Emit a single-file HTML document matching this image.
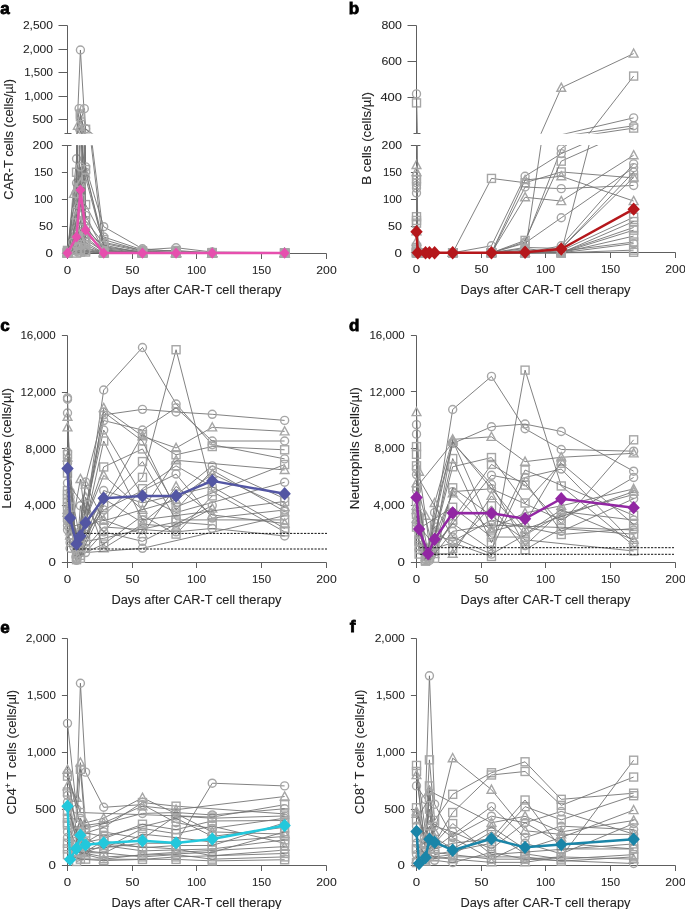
<!DOCTYPE html>
<html><head><meta charset="utf-8"><style>
html,body{margin:0;padding:0;background:#fff;width:685px;height:909px;overflow:hidden}
svg{display:block;font-family:"Liberation Sans", sans-serif;will-change:transform}
</style></head><body>
<svg width="685" height="909" viewBox="0 0 685 909">

<defs><clipPath id="aU"><rect x="60" y="0" width="280" height="133.6"/></clipPath><clipPath id="aL"><rect x="60" y="145.2" width="280" height="130"/></clipPath><clipPath id="bU"><rect x="405" y="0" width="280" height="133.8"/></clipPath><clipPath id="bL"><rect x="405" y="145" width="280" height="130"/></clipPath></defs>
<text x="0.2" y="13.5" font-size="17" font-weight="bold" fill="#000" stroke="#000" stroke-width="0.8">a</text>
<line x1="67.5" y1="25.5" x2="67.5" y2="133.5" stroke="#5e5e5e" stroke-width="1"/>
<line x1="64.5" y1="133.5" x2="71.5" y2="133.5" stroke="#5e5e5e" stroke-width="1"/>
<line x1="58.5" y1="25.5" x2="67.5" y2="25.5" stroke="#5e5e5e" stroke-width="1"/>
<text x="53" y="29.2" font-size="10.5" text-anchor="end" textLength="30.1" lengthAdjust="spacingAndGlyphs" fill="#222" font-weight="normal" stroke="#222" stroke-width="0.05" >2,500</text>
<line x1="58.5" y1="49.5" x2="67.5" y2="49.5" stroke="#5e5e5e" stroke-width="1"/>
<text x="53" y="53.1" font-size="10.5" text-anchor="end" textLength="30.1" lengthAdjust="spacingAndGlyphs" fill="#222" font-weight="normal" stroke="#222" stroke-width="0.05" >2,000</text>
<line x1="58.5" y1="72.5" x2="67.5" y2="72.5" stroke="#5e5e5e" stroke-width="1"/>
<text x="53" y="76.2" font-size="10.5" text-anchor="end" textLength="28.8" lengthAdjust="spacingAndGlyphs" fill="#222" font-weight="normal" stroke="#222" stroke-width="0.05" >1,500</text>
<line x1="58.5" y1="96.5" x2="67.5" y2="96.5" stroke="#5e5e5e" stroke-width="1"/>
<text x="53" y="99.7" font-size="10.5" text-anchor="end" textLength="28.8" lengthAdjust="spacingAndGlyphs" fill="#222" font-weight="normal" stroke="#222" stroke-width="0.05" >1,000</text>
<line x1="58.5" y1="119.5" x2="67.5" y2="119.5" stroke="#5e5e5e" stroke-width="1"/>
<text x="53" y="123.1" font-size="10.5" text-anchor="end" textLength="20.6" lengthAdjust="spacingAndGlyphs" fill="#222" font-weight="normal" stroke="#222" stroke-width="0.05" >500</text>
<line x1="67.5" y1="145.5" x2="67.5" y2="253.5" stroke="#5e5e5e" stroke-width="1"/>
<line x1="64.5" y1="145.5" x2="71.5" y2="145.5" stroke="#5e5e5e" stroke-width="1"/>
<line x1="61.9" y1="145.5" x2="67.5" y2="145.5" stroke="#5e5e5e" stroke-width="1"/>
<text x="53" y="149" font-size="10.5" text-anchor="end" textLength="20.4" lengthAdjust="spacingAndGlyphs" fill="#222" font-weight="normal" stroke="#222" stroke-width="0.05" >200</text>
<line x1="61.9" y1="172.5" x2="67.5" y2="172.5" stroke="#5e5e5e" stroke-width="1"/>
<text x="53" y="175.9" font-size="10.5" text-anchor="end" textLength="19.1" lengthAdjust="spacingAndGlyphs" fill="#222" font-weight="normal" stroke="#222" stroke-width="0.05" >150</text>
<line x1="61.9" y1="199.5" x2="67.5" y2="199.5" stroke="#5e5e5e" stroke-width="1"/>
<text x="53" y="202.9" font-size="10.5" text-anchor="end" textLength="19.1" lengthAdjust="spacingAndGlyphs" fill="#222" font-weight="normal" stroke="#222" stroke-width="0.05" >100</text>
<line x1="61.9" y1="226.5" x2="67.5" y2="226.5" stroke="#5e5e5e" stroke-width="1"/>
<text x="53" y="229.9" font-size="10.5" text-anchor="end" textLength="14" lengthAdjust="spacingAndGlyphs" fill="#222" font-weight="normal" stroke="#222" stroke-width="0.05" >50</text>
<line x1="61.9" y1="253.5" x2="67.5" y2="253.5" stroke="#5e5e5e" stroke-width="1"/>
<text x="53" y="256.8" font-size="10.5" text-anchor="end" textLength="7.4" lengthAdjust="spacingAndGlyphs" fill="#222" font-weight="normal" stroke="#222" stroke-width="0.05" >0</text>
<line x1="62.5" y1="253.5" x2="326.5" y2="253.5" stroke="#5e5e5e" stroke-width="1"/>
<line x1="67.5" y1="253.5" x2="67.5" y2="259" stroke="#5e5e5e" stroke-width="1"/>
<text x="67.5" y="273.6" font-size="10.5" text-anchor="middle" textLength="7.4" lengthAdjust="spacingAndGlyphs" fill="#222" font-weight="normal" stroke="#222" stroke-width="0.05" >0</text>
<line x1="132.5" y1="253.5" x2="132.5" y2="259" stroke="#5e5e5e" stroke-width="1"/>
<text x="132.5" y="273.6" font-size="10.5" text-anchor="middle" textLength="14" lengthAdjust="spacingAndGlyphs" fill="#222" font-weight="normal" stroke="#222" stroke-width="0.05" >50</text>
<line x1="196.5" y1="253.5" x2="196.5" y2="259" stroke="#5e5e5e" stroke-width="1"/>
<text x="196.5" y="273.6" font-size="10.5" text-anchor="middle" textLength="19.1" lengthAdjust="spacingAndGlyphs" fill="#222" font-weight="normal" stroke="#222" stroke-width="0.05" >100</text>
<line x1="261.5" y1="253.5" x2="261.5" y2="259" stroke="#5e5e5e" stroke-width="1"/>
<text x="261.5" y="273.6" font-size="10.5" text-anchor="middle" textLength="19.1" lengthAdjust="spacingAndGlyphs" fill="#222" font-weight="normal" stroke="#222" stroke-width="0.05" >150</text>
<line x1="326.5" y1="253.5" x2="326.5" y2="259" stroke="#5e5e5e" stroke-width="1"/>
<text x="326.5" y="273.6" font-size="10.5" text-anchor="middle" textLength="20.4" lengthAdjust="spacingAndGlyphs" fill="#222" font-weight="normal" stroke="#222" stroke-width="0.05" >200</text>
<text x="196.45" y="294.4" font-size="12.3" text-anchor="middle" textLength="170" lengthAdjust="spacingAndGlyphs" fill="#222" stroke="#222" stroke-width="0.08">Days after CAR-T cell therapy</text>
<g clip-path="url(#aU)">
<polyline points="67.5,142.9 76.55,140.08 80.42,49.99 85.59,135.86 103.69,141.96 142.47,142.67 176.07,142.9 212.26,142.9 284.64,142.9" fill="none" stroke="#747474" stroke-width="0.9"/>
<circle cx="80.42" cy="49.99" r="4.0" fill="none" stroke="#a6a6a6" stroke-width="1.4"/>
<polyline points="67.5,142.9 76.55,136.8 79.13,108.63 85.59,135.39 103.69,140.6 142.47,142.52 176.07,142.76 212.26,142.85 284.64,142.9" fill="none" stroke="#747474" stroke-width="0.9"/>
<circle cx="79.13" cy="108.63" r="4.0" fill="none" stroke="#a6a6a6" stroke-width="1.4"/>
<polyline points="67.5,142.9 76.55,134.68 84.3,108.63 85.59,128.81 103.69,141.49 142.47,142.62 176.07,142.43 212.26,142.81 284.64,142.85" fill="none" stroke="#747474" stroke-width="0.9"/>
<circle cx="84.3" cy="108.63" r="4.0" fill="none" stroke="#a6a6a6" stroke-width="1.4"/>
<circle cx="85.59" cy="128.81" r="4.0" fill="none" stroke="#a6a6a6" stroke-width="1.4"/>
<polyline points="67.5,142.67 76.55,138.67 80.42,114.03 85.59,138.67 103.69,141.73 142.47,142.71 176.07,142.67 212.26,142.9 284.64,142.9" fill="none" stroke="#747474" stroke-width="0.9"/>
<rect x="76.42" y="110.03" width="8" height="8" fill="none" stroke="#a6a6a6" stroke-width="1.4"/>
<polyline points="67.5,142.9 76.55,135.86 80.42,116.61 85.59,140.08 103.69,142.05 142.47,142.76 176.07,142.81 212.26,142.85 284.64,142.9" fill="none" stroke="#747474" stroke-width="0.9"/>
<rect x="76.42" y="112.61" width="8" height="8" fill="none" stroke="#a6a6a6" stroke-width="1.4"/>
<polyline points="67.5,142.81 76.55,141.02 77.84,125.72 85.59,140.79 103.69,142.34 142.47,142.81 176.07,142.85 212.26,142.9 284.64,142.9" fill="none" stroke="#747474" stroke-width="0.9"/>
<path d="M77.84 121.1L82.24 129.24L73.44 129.24Z" fill="none" stroke="#a6a6a6" stroke-width="1.4"/>
<polyline points="67.5,142.9 76.55,137.27 80.42,126.94 85.59,141.26 103.69,142.52 142.47,142.85 176.07,142.9 212.26,142.9 284.64,142.9" fill="none" stroke="#747474" stroke-width="0.9"/>
<path d="M80.42 122.32L84.83 130.46L76.02 130.46Z" fill="none" stroke="#a6a6a6" stroke-width="1.4"/>
<polyline points="67.5,142.9 76.55,141.96 85.59,129.28 103.69,142.67 142.47,142.9 176.07,142.9 212.26,142.9 284.64,142.9" fill="none" stroke="#747474" stroke-width="0.9"/>
<rect x="81.59" y="125.28" width="8" height="8" fill="none" stroke="#a6a6a6" stroke-width="1.4"/>
<polyline points="67.5,142.9 76.55,141.49 80.42,131.16 85.59,141.73 103.69,142.76 142.47,142.9 176.07,142.9 212.26,142.9 284.64,142.9" fill="none" stroke="#747474" stroke-width="0.9"/>
<circle cx="80.42" cy="131.16" r="4.0" fill="none" stroke="#a6a6a6" stroke-width="1.4"/>
<polyline points="67.5,142.76 76.55,142.43 80.42,133.04 85.59,135.62 103.69,142.43 142.47,142.81 176.07,142.9 212.26,142.9 284.64,142.9" fill="none" stroke="#747474" stroke-width="0.9"/>
<polyline points="67.5,142.9 76.55,140.08 80.42,135.39 85.59,140.55 103.69,142.62 142.47,142.9 176.07,142.9 212.26,142.9 284.64,142.9" fill="none" stroke="#747474" stroke-width="0.9"/>
<polyline points="67.5,142.9 73.96,137.74 80.42,136.8 85.59,141.49 103.69,142.81 142.47,142.9 176.07,142.9 212.26,142.9 284.64,142.9" fill="none" stroke="#747474" stroke-width="0.9"/>
<polyline points="67.5,142.9 76.55,141.73 80.42,138.21 85.59,141.96 103.69,142.9 142.47,142.9 176.07,142.9 212.26,142.9 284.64,142.9" fill="none" stroke="#747474" stroke-width="0.9"/>
<polyline points="67.5,142.85 76.55,139.14 80.42,141.02 85.59,139.61 103.69,142.71 142.47,142.85 176.07,142.9 212.26,142.9 284.64,142.9" fill="none" stroke="#747474" stroke-width="0.9"/>
<polyline points="67.5,142.9 76.55,142.2 80.42,140.08 85.59,142.2 103.69,142.9 142.47,142.9 176.07,142.9 212.26,142.9 284.64,142.9" fill="none" stroke="#747474" stroke-width="0.9"/>
<polyline points="67.5,142.9 76.55,141.26 80.42,141.96 85.59,142.43 103.69,142.85 142.47,142.9 176.07,142.9 212.26,142.9 284.64,142.9" fill="none" stroke="#747474" stroke-width="0.9"/>
<polyline points="67.5,142.9 76.55,142.67 80.42,141.49 85.59,142.52 103.69,142.9 142.47,142.9 176.07,142.9 212.26,142.9 284.64,142.9" fill="none" stroke="#747474" stroke-width="0.9"/>
<polyline points="67.5,142.9 76.55,142.34 80.42,142.43 85.59,142.67 103.69,142.9 142.47,142.9 176.07,142.9 212.26,142.9 284.64,142.9" fill="none" stroke="#747474" stroke-width="0.9"/>
<polyline points="67.5,142.9 76.55,142.76 80.42,142.67 85.59,142.71 103.69,142.9 142.47,142.9 176.07,142.9 212.26,142.9 284.64,142.9" fill="none" stroke="#747474" stroke-width="0.9"/>
<polyline points="67.5,142.9 76.55,142.9 80.42,142.81 85.59,142.81 103.69,142.9 142.47,142.9 176.07,142.9 212.26,142.9 284.64,142.9" fill="none" stroke="#747474" stroke-width="0.9"/>
<polyline points="67.5,142.9 72.67,141.96 76.55,137.74 85.59,136.33 103.69,142.2 142.47,142.9 176.07,142.9 212.26,142.9 284.64,142.9" fill="none" stroke="#747474" stroke-width="0.9"/>
<polyline points="67.5,142.9 72.67,142.67 76.55,139.61 80.42,138.67 85.59,141.02 103.69,142.9 142.47,142.9 176.07,142.9 212.26,142.9 284.64,142.9" fill="none" stroke="#747474" stroke-width="0.9"/>
</g>
<g clip-path="url(#aL)">
<polyline points="67.5,253.1 76.55,220.76 80.42,-813.58 85.59,172.25 103.69,242.32 142.47,250.41 176.07,253.1 212.26,253.1 284.64,253.1" fill="none" stroke="#747474" stroke-width="0.9"/>
<circle cx="67.5" cy="253.1" r="4.0" fill="none" stroke="#a6a6a6" stroke-width="1.4"/>
<circle cx="76.55" cy="220.76" r="4.0" fill="none" stroke="#a6a6a6" stroke-width="1.4"/>
<circle cx="85.59" cy="172.25" r="4.0" fill="none" stroke="#a6a6a6" stroke-width="1.4"/>
<circle cx="103.69" cy="242.32" r="4.0" fill="none" stroke="#a6a6a6" stroke-width="1.4"/>
<circle cx="142.47" cy="250.41" r="4.0" fill="none" stroke="#a6a6a6" stroke-width="1.4"/>
<circle cx="176.07" cy="253.1" r="4.0" fill="none" stroke="#a6a6a6" stroke-width="1.4"/>
<circle cx="212.26" cy="253.1" r="4.0" fill="none" stroke="#a6a6a6" stroke-width="1.4"/>
<circle cx="284.64" cy="253.1" r="4.0" fill="none" stroke="#a6a6a6" stroke-width="1.4"/>
<polyline points="67.5,253.1 76.55,183.03 79.13,-140.37 85.59,166.86 103.69,226.69 142.47,248.79 176.07,251.48 212.26,252.56 284.64,253.1" fill="none" stroke="#747474" stroke-width="0.9"/>
<circle cx="67.5" cy="253.1" r="4.0" fill="none" stroke="#a6a6a6" stroke-width="1.4"/>
<circle cx="76.55" cy="183.03" r="4.0" fill="none" stroke="#a6a6a6" stroke-width="1.4"/>
<circle cx="85.59" cy="166.86" r="4.0" fill="none" stroke="#a6a6a6" stroke-width="1.4"/>
<circle cx="103.69" cy="226.69" r="4.0" fill="none" stroke="#a6a6a6" stroke-width="1.4"/>
<circle cx="142.47" cy="248.79" r="4.0" fill="none" stroke="#a6a6a6" stroke-width="1.4"/>
<circle cx="176.07" cy="251.48" r="4.0" fill="none" stroke="#a6a6a6" stroke-width="1.4"/>
<circle cx="212.26" cy="252.56" r="4.0" fill="none" stroke="#a6a6a6" stroke-width="1.4"/>
<circle cx="284.64" cy="253.1" r="4.0" fill="none" stroke="#a6a6a6" stroke-width="1.4"/>
<polyline points="67.5,253.1 76.55,158.77 84.3,-140.37 85.59,91.4 103.69,236.93 142.47,249.87 176.07,247.71 212.26,252.02 284.64,252.56" fill="none" stroke="#747474" stroke-width="0.9"/>
<circle cx="67.5" cy="253.1" r="4.0" fill="none" stroke="#a6a6a6" stroke-width="1.4"/>
<circle cx="76.55" cy="158.77" r="4.0" fill="none" stroke="#a6a6a6" stroke-width="1.4"/>
<circle cx="103.69" cy="236.93" r="4.0" fill="none" stroke="#a6a6a6" stroke-width="1.4"/>
<circle cx="142.47" cy="249.87" r="4.0" fill="none" stroke="#a6a6a6" stroke-width="1.4"/>
<circle cx="176.07" cy="247.71" r="4.0" fill="none" stroke="#a6a6a6" stroke-width="1.4"/>
<circle cx="212.26" cy="252.02" r="4.0" fill="none" stroke="#a6a6a6" stroke-width="1.4"/>
<circle cx="284.64" cy="252.56" r="4.0" fill="none" stroke="#a6a6a6" stroke-width="1.4"/>
<polyline points="67.5,250.41 76.55,204.59 80.42,-78.39 85.59,204.59 103.69,239.62 142.47,250.94 176.07,250.41 212.26,253.1 284.64,253.1" fill="none" stroke="#747474" stroke-width="0.9"/>
<rect x="63.5" y="246.41" width="8" height="8" fill="none" stroke="#a6a6a6" stroke-width="1.4"/>
<rect x="72.55" y="200.59" width="8" height="8" fill="none" stroke="#a6a6a6" stroke-width="1.4"/>
<rect x="81.59" y="200.59" width="8" height="8" fill="none" stroke="#a6a6a6" stroke-width="1.4"/>
<rect x="99.69" y="235.62" width="8" height="8" fill="none" stroke="#a6a6a6" stroke-width="1.4"/>
<rect x="138.47" y="246.94" width="8" height="8" fill="none" stroke="#a6a6a6" stroke-width="1.4"/>
<rect x="172.07" y="246.41" width="8" height="8" fill="none" stroke="#a6a6a6" stroke-width="1.4"/>
<rect x="208.26" y="249.1" width="8" height="8" fill="none" stroke="#a6a6a6" stroke-width="1.4"/>
<rect x="280.64" y="249.1" width="8" height="8" fill="none" stroke="#a6a6a6" stroke-width="1.4"/>
<polyline points="67.5,253.1 76.55,172.25 80.42,-48.74 85.59,220.76 103.69,243.4 142.47,251.48 176.07,252.02 212.26,252.56 284.64,253.1" fill="none" stroke="#747474" stroke-width="0.9"/>
<rect x="63.5" y="249.1" width="8" height="8" fill="none" stroke="#a6a6a6" stroke-width="1.4"/>
<rect x="72.55" y="168.25" width="8" height="8" fill="none" stroke="#a6a6a6" stroke-width="1.4"/>
<rect x="81.59" y="216.76" width="8" height="8" fill="none" stroke="#a6a6a6" stroke-width="1.4"/>
<rect x="99.69" y="239.4" width="8" height="8" fill="none" stroke="#a6a6a6" stroke-width="1.4"/>
<rect x="138.47" y="247.48" width="8" height="8" fill="none" stroke="#a6a6a6" stroke-width="1.4"/>
<rect x="172.07" y="248.02" width="8" height="8" fill="none" stroke="#a6a6a6" stroke-width="1.4"/>
<rect x="208.26" y="248.56" width="8" height="8" fill="none" stroke="#a6a6a6" stroke-width="1.4"/>
<rect x="280.64" y="249.1" width="8" height="8" fill="none" stroke="#a6a6a6" stroke-width="1.4"/>
<polyline points="67.5,252.02 76.55,231.54 77.84,55.83 85.59,228.84 103.69,246.63 142.47,252.02 176.07,252.56 212.26,253.1 284.64,253.1" fill="none" stroke="#747474" stroke-width="0.9"/>
<path d="M67.5 247.4L71.9 255.54L63.1 255.54Z" fill="none" stroke="#a6a6a6" stroke-width="1.4"/>
<path d="M76.55 226.92L80.95 235.06L72.15 235.06Z" fill="none" stroke="#a6a6a6" stroke-width="1.4"/>
<path d="M85.59 224.22L90 232.37L81.19 232.37Z" fill="none" stroke="#a6a6a6" stroke-width="1.4"/>
<path d="M103.69 242.01L108.09 250.15L99.29 250.15Z" fill="none" stroke="#a6a6a6" stroke-width="1.4"/>
<path d="M142.47 247.4L146.87 255.54L138.06 255.54Z" fill="none" stroke="#a6a6a6" stroke-width="1.4"/>
<path d="M176.07 247.94L180.47 256.08L171.67 256.08Z" fill="none" stroke="#a6a6a6" stroke-width="1.4"/>
<path d="M212.26 248.48L216.66 256.62L207.86 256.62Z" fill="none" stroke="#a6a6a6" stroke-width="1.4"/>
<path d="M284.64 248.48L289.04 256.62L280.24 256.62Z" fill="none" stroke="#a6a6a6" stroke-width="1.4"/>
<polyline points="67.5,253.1 76.55,188.42 80.42,69.84 85.59,234.23 103.69,248.79 142.47,252.56 176.07,253.1 212.26,253.1 284.64,253.1" fill="none" stroke="#747474" stroke-width="0.9"/>
<path d="M67.5 248.48L71.9 256.62L63.1 256.62Z" fill="none" stroke="#a6a6a6" stroke-width="1.4"/>
<path d="M76.55 183.8L80.95 191.94L72.15 191.94Z" fill="none" stroke="#a6a6a6" stroke-width="1.4"/>
<path d="M85.59 229.61L90 237.75L81.19 237.75Z" fill="none" stroke="#a6a6a6" stroke-width="1.4"/>
<path d="M103.69 244.17L108.09 252.31L99.29 252.31Z" fill="none" stroke="#a6a6a6" stroke-width="1.4"/>
<path d="M142.47 247.94L146.87 256.08L138.06 256.08Z" fill="none" stroke="#a6a6a6" stroke-width="1.4"/>
<path d="M176.07 248.48L180.47 256.62L171.67 256.62Z" fill="none" stroke="#a6a6a6" stroke-width="1.4"/>
<path d="M212.26 248.48L216.66 256.62L207.86 256.62Z" fill="none" stroke="#a6a6a6" stroke-width="1.4"/>
<path d="M284.64 248.48L289.04 256.62L280.24 256.62Z" fill="none" stroke="#a6a6a6" stroke-width="1.4"/>
<polyline points="67.5,253.1 76.55,242.32 85.59,96.79 103.69,250.41 142.47,253.1 176.07,253.1 212.26,253.1 284.64,253.1" fill="none" stroke="#747474" stroke-width="0.9"/>
<rect x="63.5" y="249.1" width="8" height="8" fill="none" stroke="#a6a6a6" stroke-width="1.4"/>
<rect x="72.55" y="238.32" width="8" height="8" fill="none" stroke="#a6a6a6" stroke-width="1.4"/>
<rect x="99.69" y="246.41" width="8" height="8" fill="none" stroke="#a6a6a6" stroke-width="1.4"/>
<rect x="138.47" y="249.1" width="8" height="8" fill="none" stroke="#a6a6a6" stroke-width="1.4"/>
<rect x="172.07" y="249.1" width="8" height="8" fill="none" stroke="#a6a6a6" stroke-width="1.4"/>
<rect x="208.26" y="249.1" width="8" height="8" fill="none" stroke="#a6a6a6" stroke-width="1.4"/>
<rect x="280.64" y="249.1" width="8" height="8" fill="none" stroke="#a6a6a6" stroke-width="1.4"/>
<polyline points="67.5,253.1 76.55,236.93 80.42,118.35 85.59,239.62 103.69,251.48 142.47,253.1 176.07,253.1 212.26,253.1 284.64,253.1" fill="none" stroke="#747474" stroke-width="0.9"/>
<circle cx="67.5" cy="253.1" r="4.0" fill="none" stroke="#a6a6a6" stroke-width="1.4"/>
<circle cx="76.55" cy="236.93" r="4.0" fill="none" stroke="#a6a6a6" stroke-width="1.4"/>
<circle cx="85.59" cy="239.62" r="4.0" fill="none" stroke="#a6a6a6" stroke-width="1.4"/>
<circle cx="103.69" cy="251.48" r="4.0" fill="none" stroke="#a6a6a6" stroke-width="1.4"/>
<circle cx="142.47" cy="253.1" r="4.0" fill="none" stroke="#a6a6a6" stroke-width="1.4"/>
<circle cx="176.07" cy="253.1" r="4.0" fill="none" stroke="#a6a6a6" stroke-width="1.4"/>
<circle cx="212.26" cy="253.1" r="4.0" fill="none" stroke="#a6a6a6" stroke-width="1.4"/>
<circle cx="284.64" cy="253.1" r="4.0" fill="none" stroke="#a6a6a6" stroke-width="1.4"/>
<polyline points="67.5,251.48 76.55,247.71 80.42,139.91 85.59,169.56 103.69,247.71 142.47,252.02 176.07,253.1 212.26,253.1 284.64,253.1" fill="none" stroke="#747474" stroke-width="0.9"/>
<rect x="63.5" y="247.48" width="8" height="8" fill="none" stroke="#a6a6a6" stroke-width="1.4"/>
<rect x="72.55" y="243.71" width="8" height="8" fill="none" stroke="#a6a6a6" stroke-width="1.4"/>
<rect x="81.59" y="165.56" width="8" height="8" fill="none" stroke="#a6a6a6" stroke-width="1.4"/>
<rect x="99.69" y="243.71" width="8" height="8" fill="none" stroke="#a6a6a6" stroke-width="1.4"/>
<rect x="138.47" y="248.02" width="8" height="8" fill="none" stroke="#a6a6a6" stroke-width="1.4"/>
<rect x="172.07" y="249.1" width="8" height="8" fill="none" stroke="#a6a6a6" stroke-width="1.4"/>
<rect x="208.26" y="249.1" width="8" height="8" fill="none" stroke="#a6a6a6" stroke-width="1.4"/>
<rect x="280.64" y="249.1" width="8" height="8" fill="none" stroke="#a6a6a6" stroke-width="1.4"/>
<polyline points="67.5,253.1 76.55,220.76 80.42,166.86 85.59,226.15 103.69,249.87 142.47,253.1 176.07,253.1 212.26,253.1 284.64,253.1" fill="none" stroke="#747474" stroke-width="0.9"/>
<circle cx="67.5" cy="253.1" r="4.0" fill="none" stroke="#a6a6a6" stroke-width="1.4"/>
<circle cx="76.55" cy="220.76" r="4.0" fill="none" stroke="#a6a6a6" stroke-width="1.4"/>
<circle cx="80.42" cy="166.86" r="4.0" fill="none" stroke="#a6a6a6" stroke-width="1.4"/>
<circle cx="85.59" cy="226.15" r="4.0" fill="none" stroke="#a6a6a6" stroke-width="1.4"/>
<circle cx="103.69" cy="249.87" r="4.0" fill="none" stroke="#a6a6a6" stroke-width="1.4"/>
<circle cx="142.47" cy="253.1" r="4.0" fill="none" stroke="#a6a6a6" stroke-width="1.4"/>
<circle cx="176.07" cy="253.1" r="4.0" fill="none" stroke="#a6a6a6" stroke-width="1.4"/>
<circle cx="212.26" cy="253.1" r="4.0" fill="none" stroke="#a6a6a6" stroke-width="1.4"/>
<circle cx="284.64" cy="253.1" r="4.0" fill="none" stroke="#a6a6a6" stroke-width="1.4"/>
<polyline points="67.5,253.1 73.96,193.81 80.42,183.03 85.59,236.93 103.69,252.02 142.47,253.1 176.07,253.1 212.26,253.1 284.64,253.1" fill="none" stroke="#747474" stroke-width="0.9"/>
<path d="M67.5 248.48L71.9 256.62L63.1 256.62Z" fill="none" stroke="#a6a6a6" stroke-width="1.4"/>
<path d="M73.96 189.19L78.36 197.33L69.56 197.33Z" fill="none" stroke="#a6a6a6" stroke-width="1.4"/>
<path d="M80.42 178.41L84.83 186.55L76.02 186.55Z" fill="none" stroke="#a6a6a6" stroke-width="1.4"/>
<path d="M85.59 232.31L90 240.45L81.19 240.45Z" fill="none" stroke="#a6a6a6" stroke-width="1.4"/>
<path d="M103.69 247.4L108.09 255.54L99.29 255.54Z" fill="none" stroke="#a6a6a6" stroke-width="1.4"/>
<path d="M142.47 248.48L146.87 256.62L138.06 256.62Z" fill="none" stroke="#a6a6a6" stroke-width="1.4"/>
<path d="M176.07 248.48L180.47 256.62L171.67 256.62Z" fill="none" stroke="#a6a6a6" stroke-width="1.4"/>
<path d="M212.26 248.48L216.66 256.62L207.86 256.62Z" fill="none" stroke="#a6a6a6" stroke-width="1.4"/>
<path d="M284.64 248.48L289.04 256.62L280.24 256.62Z" fill="none" stroke="#a6a6a6" stroke-width="1.4"/>
<polyline points="67.5,253.1 76.55,239.62 80.42,199.2 85.59,242.32 103.69,253.1 142.47,253.1 176.07,253.1 212.26,253.1 284.64,253.1" fill="none" stroke="#747474" stroke-width="0.9"/>
<rect x="63.5" y="249.1" width="8" height="8" fill="none" stroke="#a6a6a6" stroke-width="1.4"/>
<rect x="72.55" y="235.62" width="8" height="8" fill="none" stroke="#a6a6a6" stroke-width="1.4"/>
<rect x="76.42" y="195.2" width="8" height="8" fill="none" stroke="#a6a6a6" stroke-width="1.4"/>
<rect x="81.59" y="238.32" width="8" height="8" fill="none" stroke="#a6a6a6" stroke-width="1.4"/>
<rect x="99.69" y="249.1" width="8" height="8" fill="none" stroke="#a6a6a6" stroke-width="1.4"/>
<rect x="138.47" y="249.1" width="8" height="8" fill="none" stroke="#a6a6a6" stroke-width="1.4"/>
<rect x="172.07" y="249.1" width="8" height="8" fill="none" stroke="#a6a6a6" stroke-width="1.4"/>
<rect x="208.26" y="249.1" width="8" height="8" fill="none" stroke="#a6a6a6" stroke-width="1.4"/>
<rect x="280.64" y="249.1" width="8" height="8" fill="none" stroke="#a6a6a6" stroke-width="1.4"/>
<polyline points="67.5,252.56 76.55,209.98 80.42,231.54 85.59,215.37 103.69,250.94 142.47,252.56 176.07,253.1 212.26,253.1 284.64,253.1" fill="none" stroke="#747474" stroke-width="0.9"/>
<circle cx="67.5" cy="252.56" r="4.0" fill="none" stroke="#a6a6a6" stroke-width="1.4"/>
<circle cx="76.55" cy="209.98" r="4.0" fill="none" stroke="#a6a6a6" stroke-width="1.4"/>
<circle cx="80.42" cy="231.54" r="4.0" fill="none" stroke="#a6a6a6" stroke-width="1.4"/>
<circle cx="85.59" cy="215.37" r="4.0" fill="none" stroke="#a6a6a6" stroke-width="1.4"/>
<circle cx="103.69" cy="250.94" r="4.0" fill="none" stroke="#a6a6a6" stroke-width="1.4"/>
<circle cx="142.47" cy="252.56" r="4.0" fill="none" stroke="#a6a6a6" stroke-width="1.4"/>
<circle cx="176.07" cy="253.1" r="4.0" fill="none" stroke="#a6a6a6" stroke-width="1.4"/>
<circle cx="212.26" cy="253.1" r="4.0" fill="none" stroke="#a6a6a6" stroke-width="1.4"/>
<circle cx="284.64" cy="253.1" r="4.0" fill="none" stroke="#a6a6a6" stroke-width="1.4"/>
<polyline points="67.5,253.1 76.55,245.01 80.42,220.76 85.59,245.01 103.69,253.1 142.47,253.1 176.07,253.1 212.26,253.1 284.64,253.1" fill="none" stroke="#747474" stroke-width="0.9"/>
<rect x="63.5" y="249.1" width="8" height="8" fill="none" stroke="#a6a6a6" stroke-width="1.4"/>
<rect x="72.55" y="241.01" width="8" height="8" fill="none" stroke="#a6a6a6" stroke-width="1.4"/>
<rect x="76.42" y="216.76" width="8" height="8" fill="none" stroke="#a6a6a6" stroke-width="1.4"/>
<rect x="81.59" y="241.01" width="8" height="8" fill="none" stroke="#a6a6a6" stroke-width="1.4"/>
<rect x="99.69" y="249.1" width="8" height="8" fill="none" stroke="#a6a6a6" stroke-width="1.4"/>
<rect x="138.47" y="249.1" width="8" height="8" fill="none" stroke="#a6a6a6" stroke-width="1.4"/>
<rect x="172.07" y="249.1" width="8" height="8" fill="none" stroke="#a6a6a6" stroke-width="1.4"/>
<rect x="208.26" y="249.1" width="8" height="8" fill="none" stroke="#a6a6a6" stroke-width="1.4"/>
<rect x="280.64" y="249.1" width="8" height="8" fill="none" stroke="#a6a6a6" stroke-width="1.4"/>
<polyline points="67.5,253.1 76.55,234.23 80.42,242.32 85.59,247.71 103.69,252.56 142.47,253.1 176.07,253.1 212.26,253.1 284.64,253.1" fill="none" stroke="#747474" stroke-width="0.9"/>
<circle cx="67.5" cy="253.1" r="4.0" fill="none" stroke="#a6a6a6" stroke-width="1.4"/>
<circle cx="76.55" cy="234.23" r="4.0" fill="none" stroke="#a6a6a6" stroke-width="1.4"/>
<circle cx="80.42" cy="242.32" r="4.0" fill="none" stroke="#a6a6a6" stroke-width="1.4"/>
<circle cx="85.59" cy="247.71" r="4.0" fill="none" stroke="#a6a6a6" stroke-width="1.4"/>
<circle cx="103.69" cy="252.56" r="4.0" fill="none" stroke="#a6a6a6" stroke-width="1.4"/>
<circle cx="142.47" cy="253.1" r="4.0" fill="none" stroke="#a6a6a6" stroke-width="1.4"/>
<circle cx="176.07" cy="253.1" r="4.0" fill="none" stroke="#a6a6a6" stroke-width="1.4"/>
<circle cx="212.26" cy="253.1" r="4.0" fill="none" stroke="#a6a6a6" stroke-width="1.4"/>
<circle cx="284.64" cy="253.1" r="4.0" fill="none" stroke="#a6a6a6" stroke-width="1.4"/>
<polyline points="67.5,253.1 76.55,250.41 80.42,236.93 85.59,248.79 103.69,253.1 142.47,253.1 176.07,253.1 212.26,253.1 284.64,253.1" fill="none" stroke="#747474" stroke-width="0.9"/>
<path d="M67.5 248.48L71.9 256.62L63.1 256.62Z" fill="none" stroke="#a6a6a6" stroke-width="1.4"/>
<path d="M76.55 245.78L80.95 253.93L72.15 253.93Z" fill="none" stroke="#a6a6a6" stroke-width="1.4"/>
<path d="M80.42 232.31L84.83 240.45L76.02 240.45Z" fill="none" stroke="#a6a6a6" stroke-width="1.4"/>
<path d="M85.59 244.17L90 252.31L81.19 252.31Z" fill="none" stroke="#a6a6a6" stroke-width="1.4"/>
<path d="M103.69 248.48L108.09 256.62L99.29 256.62Z" fill="none" stroke="#a6a6a6" stroke-width="1.4"/>
<path d="M142.47 248.48L146.87 256.62L138.06 256.62Z" fill="none" stroke="#a6a6a6" stroke-width="1.4"/>
<path d="M176.07 248.48L180.47 256.62L171.67 256.62Z" fill="none" stroke="#a6a6a6" stroke-width="1.4"/>
<path d="M212.26 248.48L216.66 256.62L207.86 256.62Z" fill="none" stroke="#a6a6a6" stroke-width="1.4"/>
<path d="M284.64 248.48L289.04 256.62L280.24 256.62Z" fill="none" stroke="#a6a6a6" stroke-width="1.4"/>
<polyline points="67.5,253.1 76.55,246.63 80.42,247.71 85.59,250.41 103.69,253.1 142.47,253.1 176.07,253.1 212.26,253.1 284.64,253.1" fill="none" stroke="#747474" stroke-width="0.9"/>
<rect x="63.5" y="249.1" width="8" height="8" fill="none" stroke="#a6a6a6" stroke-width="1.4"/>
<rect x="72.55" y="242.63" width="8" height="8" fill="none" stroke="#a6a6a6" stroke-width="1.4"/>
<rect x="76.42" y="243.71" width="8" height="8" fill="none" stroke="#a6a6a6" stroke-width="1.4"/>
<rect x="81.59" y="246.41" width="8" height="8" fill="none" stroke="#a6a6a6" stroke-width="1.4"/>
<rect x="99.69" y="249.1" width="8" height="8" fill="none" stroke="#a6a6a6" stroke-width="1.4"/>
<rect x="138.47" y="249.1" width="8" height="8" fill="none" stroke="#a6a6a6" stroke-width="1.4"/>
<rect x="172.07" y="249.1" width="8" height="8" fill="none" stroke="#a6a6a6" stroke-width="1.4"/>
<rect x="208.26" y="249.1" width="8" height="8" fill="none" stroke="#a6a6a6" stroke-width="1.4"/>
<rect x="280.64" y="249.1" width="8" height="8" fill="none" stroke="#a6a6a6" stroke-width="1.4"/>
<polyline points="67.5,253.1 76.55,251.48 80.42,250.41 85.59,250.94 103.69,253.1 142.47,253.1 176.07,253.1 212.26,253.1 284.64,253.1" fill="none" stroke="#747474" stroke-width="0.9"/>
<circle cx="67.5" cy="253.1" r="4.0" fill="none" stroke="#a6a6a6" stroke-width="1.4"/>
<circle cx="76.55" cy="251.48" r="4.0" fill="none" stroke="#a6a6a6" stroke-width="1.4"/>
<circle cx="80.42" cy="250.41" r="4.0" fill="none" stroke="#a6a6a6" stroke-width="1.4"/>
<circle cx="85.59" cy="250.94" r="4.0" fill="none" stroke="#a6a6a6" stroke-width="1.4"/>
<circle cx="103.69" cy="253.1" r="4.0" fill="none" stroke="#a6a6a6" stroke-width="1.4"/>
<circle cx="142.47" cy="253.1" r="4.0" fill="none" stroke="#a6a6a6" stroke-width="1.4"/>
<circle cx="176.07" cy="253.1" r="4.0" fill="none" stroke="#a6a6a6" stroke-width="1.4"/>
<circle cx="212.26" cy="253.1" r="4.0" fill="none" stroke="#a6a6a6" stroke-width="1.4"/>
<circle cx="284.64" cy="253.1" r="4.0" fill="none" stroke="#a6a6a6" stroke-width="1.4"/>
<polyline points="67.5,253.1 76.55,253.1 80.42,252.02 85.59,252.02 103.69,253.1 142.47,253.1 176.07,253.1 212.26,253.1 284.64,253.1" fill="none" stroke="#747474" stroke-width="0.9"/>
<rect x="63.5" y="249.1" width="8" height="8" fill="none" stroke="#a6a6a6" stroke-width="1.4"/>
<rect x="72.55" y="249.1" width="8" height="8" fill="none" stroke="#a6a6a6" stroke-width="1.4"/>
<rect x="76.42" y="248.02" width="8" height="8" fill="none" stroke="#a6a6a6" stroke-width="1.4"/>
<rect x="81.59" y="248.02" width="8" height="8" fill="none" stroke="#a6a6a6" stroke-width="1.4"/>
<rect x="99.69" y="249.1" width="8" height="8" fill="none" stroke="#a6a6a6" stroke-width="1.4"/>
<rect x="138.47" y="249.1" width="8" height="8" fill="none" stroke="#a6a6a6" stroke-width="1.4"/>
<rect x="172.07" y="249.1" width="8" height="8" fill="none" stroke="#a6a6a6" stroke-width="1.4"/>
<rect x="208.26" y="249.1" width="8" height="8" fill="none" stroke="#a6a6a6" stroke-width="1.4"/>
<rect x="280.64" y="249.1" width="8" height="8" fill="none" stroke="#a6a6a6" stroke-width="1.4"/>
<polyline points="67.5,253.1 72.67,242.32 76.55,193.81 85.59,177.64 103.69,245.01 142.47,253.1 176.07,253.1 212.26,253.1 284.64,253.1" fill="none" stroke="#747474" stroke-width="0.9"/>
<circle cx="67.5" cy="253.1" r="4.0" fill="none" stroke="#a6a6a6" stroke-width="1.4"/>
<circle cx="72.67" cy="242.32" r="4.0" fill="none" stroke="#a6a6a6" stroke-width="1.4"/>
<circle cx="76.55" cy="193.81" r="4.0" fill="none" stroke="#a6a6a6" stroke-width="1.4"/>
<circle cx="85.59" cy="177.64" r="4.0" fill="none" stroke="#a6a6a6" stroke-width="1.4"/>
<circle cx="103.69" cy="245.01" r="4.0" fill="none" stroke="#a6a6a6" stroke-width="1.4"/>
<circle cx="142.47" cy="253.1" r="4.0" fill="none" stroke="#a6a6a6" stroke-width="1.4"/>
<circle cx="176.07" cy="253.1" r="4.0" fill="none" stroke="#a6a6a6" stroke-width="1.4"/>
<circle cx="212.26" cy="253.1" r="4.0" fill="none" stroke="#a6a6a6" stroke-width="1.4"/>
<circle cx="284.64" cy="253.1" r="4.0" fill="none" stroke="#a6a6a6" stroke-width="1.4"/>
<polyline points="67.5,253.1 72.67,250.41 76.55,215.37 80.42,204.59 85.59,231.54 103.69,253.1 142.47,253.1 176.07,253.1 212.26,253.1 284.64,253.1" fill="none" stroke="#747474" stroke-width="0.9"/>
<path d="M67.5 248.48L71.9 256.62L63.1 256.62Z" fill="none" stroke="#a6a6a6" stroke-width="1.4"/>
<path d="M72.67 245.78L77.07 253.93L68.27 253.93Z" fill="none" stroke="#a6a6a6" stroke-width="1.4"/>
<path d="M76.55 210.75L80.95 218.89L72.15 218.89Z" fill="none" stroke="#a6a6a6" stroke-width="1.4"/>
<path d="M80.42 199.97L84.83 208.11L76.02 208.11Z" fill="none" stroke="#a6a6a6" stroke-width="1.4"/>
<path d="M85.59 226.92L90 235.06L81.19 235.06Z" fill="none" stroke="#a6a6a6" stroke-width="1.4"/>
<path d="M103.69 248.48L108.09 256.62L99.29 256.62Z" fill="none" stroke="#a6a6a6" stroke-width="1.4"/>
<path d="M142.47 248.48L146.87 256.62L138.06 256.62Z" fill="none" stroke="#a6a6a6" stroke-width="1.4"/>
<path d="M176.07 248.48L180.47 256.62L171.67 256.62Z" fill="none" stroke="#a6a6a6" stroke-width="1.4"/>
<path d="M212.26 248.48L216.66 256.62L207.86 256.62Z" fill="none" stroke="#a6a6a6" stroke-width="1.4"/>
<path d="M284.64 248.48L289.04 256.62L280.24 256.62Z" fill="none" stroke="#a6a6a6" stroke-width="1.4"/>
</g>
<polyline points="67.5,253.1 76.55,236.93 80.42,190.04 85.59,229.92 103.69,253.1 142.47,253.1 176.07,253.1 212.26,253.1 284.64,253.1" fill="none" stroke="#e64fae" stroke-width="2.5" stroke-linejoin="round"/>
<path d="M67.5 247.5L72.4 253.1L67.5 258.7L62.6 253.1Z" fill="#e64fae"/>
<path d="M76.55 231.33L81.45 236.93L76.55 242.53L71.65 236.93Z" fill="#e64fae"/>
<path d="M80.42 184.44L85.33 190.04L80.42 195.64L75.52 190.04Z" fill="#e64fae"/>
<path d="M85.59 224.32L90.5 229.92L85.59 235.52L80.69 229.92Z" fill="#e64fae"/>
<path d="M103.69 247.5L108.59 253.1L103.69 258.7L98.79 253.1Z" fill="#e64fae"/>
<path d="M142.47 247.5L147.37 253.1L142.47 258.7L137.56 253.1Z" fill="#e64fae"/>
<path d="M176.07 247.5L180.97 253.1L176.07 258.7L171.17 253.1Z" fill="#e64fae"/>
<path d="M212.26 247.5L217.16 253.1L212.26 258.7L207.36 253.1Z" fill="#e64fae"/>
<path d="M284.64 247.5L289.54 253.1L284.64 258.7L279.74 253.1Z" fill="#e64fae"/>
<text transform="translate(12.9,139.35) rotate(-90)" font-size="12.3" text-anchor="middle" textLength="120.7" lengthAdjust="spacingAndGlyphs" fill="#222" stroke="#222" stroke-width="0.08">CAR-T cells (cells/µl)</text>
<text x="348.8" y="13.5" font-size="17" font-weight="bold" fill="#000" stroke="#000" stroke-width="0.8">b</text>
<line x1="416.5" y1="25.5" x2="416.5" y2="133.5" stroke="#5e5e5e" stroke-width="1"/>
<line x1="413.5" y1="133.5" x2="420.5" y2="133.5" stroke="#5e5e5e" stroke-width="1"/>
<line x1="407.5" y1="25.5" x2="416.5" y2="25.5" stroke="#5e5e5e" stroke-width="1"/>
<text x="402" y="29.2" font-size="10.5" text-anchor="end" textLength="20.6" lengthAdjust="spacingAndGlyphs" fill="#222" font-weight="normal" stroke="#222" stroke-width="0.05" >800</text>
<line x1="407.5" y1="61.5" x2="416.5" y2="61.5" stroke="#5e5e5e" stroke-width="1"/>
<text x="402" y="65.1" font-size="10.5" text-anchor="end" textLength="20.6" lengthAdjust="spacingAndGlyphs" fill="#222" font-weight="normal" stroke="#222" stroke-width="0.05" >600</text>
<line x1="407.5" y1="97.5" x2="416.5" y2="97.5" stroke="#5e5e5e" stroke-width="1"/>
<text x="402" y="101.2" font-size="10.5" text-anchor="end" textLength="21.6" lengthAdjust="spacingAndGlyphs" fill="#222" font-weight="normal" stroke="#222" stroke-width="0.05" >400</text>
<line x1="416.5" y1="145.5" x2="416.5" y2="252.5" stroke="#5e5e5e" stroke-width="1"/>
<line x1="413.5" y1="145.5" x2="420.5" y2="145.5" stroke="#5e5e5e" stroke-width="1"/>
<line x1="410.9" y1="145.5" x2="416.5" y2="145.5" stroke="#5e5e5e" stroke-width="1"/>
<text x="402" y="148.75" font-size="10.5" text-anchor="end" textLength="20.4" lengthAdjust="spacingAndGlyphs" fill="#222" font-weight="normal" stroke="#222" stroke-width="0.05" >200</text>
<line x1="410.9" y1="172.5" x2="416.5" y2="172.5" stroke="#5e5e5e" stroke-width="1"/>
<text x="402" y="175.7" font-size="10.5" text-anchor="end" textLength="19.1" lengthAdjust="spacingAndGlyphs" fill="#222" font-weight="normal" stroke="#222" stroke-width="0.05" >150</text>
<line x1="410.9" y1="199.5" x2="416.5" y2="199.5" stroke="#5e5e5e" stroke-width="1"/>
<text x="402" y="202.7" font-size="10.5" text-anchor="end" textLength="19.1" lengthAdjust="spacingAndGlyphs" fill="#222" font-weight="normal" stroke="#222" stroke-width="0.05" >100</text>
<line x1="410.9" y1="226.5" x2="416.5" y2="226.5" stroke="#5e5e5e" stroke-width="1"/>
<text x="402" y="229.7" font-size="10.5" text-anchor="end" textLength="14" lengthAdjust="spacingAndGlyphs" fill="#222" font-weight="normal" stroke="#222" stroke-width="0.05" >50</text>
<line x1="410.9" y1="252.5" x2="416.5" y2="252.5" stroke="#5e5e5e" stroke-width="1"/>
<text x="402" y="256.5" font-size="10.5" text-anchor="end" textLength="7.4" lengthAdjust="spacingAndGlyphs" fill="#222" font-weight="normal" stroke="#222" stroke-width="0.05" >0</text>
<line x1="411.5" y1="252.5" x2="675.5" y2="252.5" stroke="#5e5e5e" stroke-width="1"/>
<line x1="416.5" y1="252.5" x2="416.5" y2="258" stroke="#5e5e5e" stroke-width="1"/>
<text x="416.5" y="273.3" font-size="10.5" text-anchor="middle" textLength="7.4" lengthAdjust="spacingAndGlyphs" fill="#222" font-weight="normal" stroke="#222" stroke-width="0.05" >0</text>
<line x1="481.5" y1="252.5" x2="481.5" y2="258" stroke="#5e5e5e" stroke-width="1"/>
<text x="481.5" y="273.3" font-size="10.5" text-anchor="middle" textLength="14" lengthAdjust="spacingAndGlyphs" fill="#222" font-weight="normal" stroke="#222" stroke-width="0.05" >50</text>
<line x1="545.5" y1="252.5" x2="545.5" y2="258" stroke="#5e5e5e" stroke-width="1"/>
<text x="545.5" y="273.3" font-size="10.5" text-anchor="middle" textLength="19.1" lengthAdjust="spacingAndGlyphs" fill="#222" font-weight="normal" stroke="#222" stroke-width="0.05" >100</text>
<line x1="610.5" y1="252.5" x2="610.5" y2="258" stroke="#5e5e5e" stroke-width="1"/>
<text x="610.5" y="273.3" font-size="10.5" text-anchor="middle" textLength="19.1" lengthAdjust="spacingAndGlyphs" fill="#222" font-weight="normal" stroke="#222" stroke-width="0.05" >150</text>
<line x1="675.5" y1="252.5" x2="675.5" y2="258" stroke="#5e5e5e" stroke-width="1"/>
<text x="675.5" y="273.3" font-size="10.5" text-anchor="middle" textLength="20.4" lengthAdjust="spacingAndGlyphs" fill="#222" font-weight="normal" stroke="#222" stroke-width="0.05" >200</text>
<text x="545.45" y="294.1" font-size="12.3" text-anchor="middle" textLength="170" lengthAdjust="spacingAndGlyphs" fill="#222" stroke="#222" stroke-width="0.08">Days after CAR-T cell therapy</text>
<g clip-path="url(#bU)">
<polyline points="416.5,140.16 417.79,169.5 425.55,169.5 452.69,169.5 491.47,169.5 525.07,169.5 561.26,87.78 633.64,53.58" fill="none" stroke="#747474" stroke-width="0.9"/>
<path d="M561.26 83.16L565.66 91.3L556.86 91.3Z" fill="none" stroke="#a6a6a6" stroke-width="1.4"/>
<path d="M633.64 48.96L638.04 57.1L629.24 57.1Z" fill="none" stroke="#a6a6a6" stroke-width="1.4"/>
<polyline points="416.5,102.9 417.79,169.5 425.55,169.5 452.69,169.5 491.47,169.5 525.07,169.5 561.26,169.32 633.64,76.08" fill="none" stroke="#747474" stroke-width="0.9"/>
<rect x="412.5" y="98.9" width="8" height="8" fill="none" stroke="#a6a6a6" stroke-width="1.4"/>
<rect x="629.64" y="72.08" width="8" height="8" fill="none" stroke="#a6a6a6" stroke-width="1.4"/>
<polyline points="416.5,93.9 417.79,169.5 425.55,169.5 452.69,169.5 491.47,169.5 525.07,165.9 561.26,134.76 633.64,117.84" fill="none" stroke="#747474" stroke-width="0.9"/>
<circle cx="416.5" cy="93.9" r="4.0" fill="none" stroke="#a6a6a6" stroke-width="1.4"/>
<circle cx="633.64" cy="117.84" r="4.0" fill="none" stroke="#a6a6a6" stroke-width="1.4"/>
<polyline points="416.5,143.76 417.79,169.5 425.55,169.5 452.69,169.5 491.47,167.16 525.07,143.94 561.26,136.38 633.64,125.76" fill="none" stroke="#747474" stroke-width="0.9"/>
<circle cx="633.64" cy="125.76" r="4.0" fill="none" stroke="#a6a6a6" stroke-width="1.4"/>
<polyline points="416.5,145.2 417.79,169.5 425.55,169.5 452.69,169.5 491.47,144.66 525.07,146.1 561.26,142.5 633.64,144.48" fill="none" stroke="#747474" stroke-width="0.9"/>
<polyline points="416.5,147 417.79,169.5 425.55,169.5 452.69,169.5 491.47,169.5 525.07,147.54 561.26,148.08 633.64,147" fill="none" stroke="#747474" stroke-width="0.9"/>
<polyline points="416.5,142.5 417.79,169.5 425.55,169.5 452.69,169.5 491.47,169.5 525.07,150.96 561.26,152.22 633.64,136.92" fill="none" stroke="#747474" stroke-width="0.9"/>
<polyline points="416.5,147.9 417.79,169.5 425.55,169.5 452.69,169.5 491.47,169.5 525.07,166.26 561.26,157.8 633.64,141.06" fill="none" stroke="#747474" stroke-width="0.9"/>
<polyline points="416.5,165.72 417.79,169.5 425.55,169.5 452.69,169.5 491.47,169.5 525.07,145.2 561.26,143.94 633.64,152.22" fill="none" stroke="#747474" stroke-width="0.9"/>
<polyline points="416.5,157.44 417.79,169.5 425.55,169.5 452.69,169.5 491.47,169.5 525.07,165.36 561.26,138.9 633.64,128.1" fill="none" stroke="#747474" stroke-width="0.9"/>
<rect x="629.64" y="124.1" width="8" height="8" fill="none" stroke="#a6a6a6" stroke-width="1.4"/>
<polyline points="416.5,149.52 417.79,169.5 425.55,169.5 452.69,169.5 491.47,169.5 525.07,169.5 561.26,167.16 633.64,139.8" fill="none" stroke="#747474" stroke-width="0.9"/>
<polyline points="416.5,159.6 417.79,169.5 425.55,169.5 452.69,169.5 491.47,169.5 525.07,169.14 561.26,168.78 633.64,157.62" fill="none" stroke="#747474" stroke-width="0.9"/>
<polyline points="416.5,167.7 417.79,169.5 425.55,169.5 452.69,169.5 491.47,169.5 525.07,169.5 561.26,169.32 633.64,161.04" fill="none" stroke="#747474" stroke-width="0.9"/>
<polyline points="416.5,168.6 417.79,169.5 425.55,169.5 452.69,169.5 491.47,169.5 525.07,169.5 561.26,169.5 633.64,161.94" fill="none" stroke="#747474" stroke-width="0.9"/>
<polyline points="416.5,169.5 417.79,169.5 425.55,169.5 452.69,169.5 491.47,169.5 525.07,169.5 561.26,169.5 633.64,163.92" fill="none" stroke="#747474" stroke-width="0.9"/>
<polyline points="416.5,169.5 417.79,169.5 425.55,169.5 452.69,169.5 491.47,169.5 525.07,169.5 561.26,169.5 633.64,166.44" fill="none" stroke="#747474" stroke-width="0.9"/>
<polyline points="416.5,169.5 417.79,169.5 452.69,169.5 491.47,169.5 525.07,168.6 561.26,168.96 633.64,165.9" fill="none" stroke="#747474" stroke-width="0.9"/>
<polyline points="416.5,169.14 417.79,169.5 452.69,169.5 491.47,169.5 525.07,169.5 561.26,169.5 633.64,169.32" fill="none" stroke="#747474" stroke-width="0.9"/>
<polyline points="416.5,162.3 417.79,169.5 425.55,169.5 452.69,169.5 491.47,169.5 525.07,167.7 561.26,168.06 633.64,144.3" fill="none" stroke="#747474" stroke-width="0.9"/>
<polyline points="416.5,146.1 417.79,169.5 425.55,169.5 452.69,169.5 491.47,169.5 525.07,169.5 561.26,168.06 633.64,142.5" fill="none" stroke="#747474" stroke-width="0.9"/>
<polyline points="416.5,158.7 417.79,169.5 425.55,169.5 452.69,169.5 491.47,169.5 525.07,168.06 561.26,169.5 633.64,159.06" fill="none" stroke="#747474" stroke-width="0.9"/>
<polyline points="416.5,169.5 417.79,169.5 425.55,169.5 452.69,169.5 491.47,169.5 525.07,169.5 561.26,169.5 633.64,168.6" fill="none" stroke="#747474" stroke-width="0.9"/>
</g>
<g clip-path="url(#bL)">
<polyline points="416.5,164.94 417.79,252.8 425.55,252.8 452.69,252.8 491.47,252.8 525.07,252.8 561.26,8.09 633.64,-94.32" fill="none" stroke="#747474" stroke-width="0.9"/>
<path d="M416.5 160.32L420.9 168.46L412.1 168.46Z" fill="none" stroke="#a6a6a6" stroke-width="1.4"/>
<path d="M417.79 248.18L422.19 256.32L413.39 256.32Z" fill="none" stroke="#a6a6a6" stroke-width="1.4"/>
<path d="M425.55 248.18L429.95 256.32L421.15 256.32Z" fill="none" stroke="#a6a6a6" stroke-width="1.4"/>
<path d="M452.69 248.18L457.09 256.32L448.29 256.32Z" fill="none" stroke="#a6a6a6" stroke-width="1.4"/>
<path d="M491.47 248.18L495.87 256.32L487.07 256.32Z" fill="none" stroke="#a6a6a6" stroke-width="1.4"/>
<path d="M525.07 248.18L529.47 256.32L520.67 256.32Z" fill="none" stroke="#a6a6a6" stroke-width="1.4"/>
<polyline points="416.5,53.37 417.79,252.8 425.55,252.8 452.69,252.8 491.47,252.8 525.07,252.8 561.26,252.26 633.64,-26.94" fill="none" stroke="#747474" stroke-width="0.9"/>
<rect x="413.79" y="248.8" width="8" height="8" fill="none" stroke="#a6a6a6" stroke-width="1.4"/>
<rect x="421.55" y="248.8" width="8" height="8" fill="none" stroke="#a6a6a6" stroke-width="1.4"/>
<rect x="448.69" y="248.8" width="8" height="8" fill="none" stroke="#a6a6a6" stroke-width="1.4"/>
<rect x="487.47" y="248.8" width="8" height="8" fill="none" stroke="#a6a6a6" stroke-width="1.4"/>
<rect x="521.07" y="248.8" width="8" height="8" fill="none" stroke="#a6a6a6" stroke-width="1.4"/>
<rect x="557.26" y="248.26" width="8" height="8" fill="none" stroke="#a6a6a6" stroke-width="1.4"/>
<polyline points="416.5,26.42 417.79,252.8 425.55,252.8 452.69,252.8 491.47,252.8 525.07,242.02 561.26,148.77 633.64,98.11" fill="none" stroke="#747474" stroke-width="0.9"/>
<circle cx="417.79" cy="252.8" r="4.0" fill="none" stroke="#a6a6a6" stroke-width="1.4"/>
<circle cx="425.55" cy="252.8" r="4.0" fill="none" stroke="#a6a6a6" stroke-width="1.4"/>
<circle cx="452.69" cy="252.8" r="4.0" fill="none" stroke="#a6a6a6" stroke-width="1.4"/>
<circle cx="491.47" cy="252.8" r="4.0" fill="none" stroke="#a6a6a6" stroke-width="1.4"/>
<circle cx="525.07" cy="242.02" r="4.0" fill="none" stroke="#a6a6a6" stroke-width="1.4"/>
<circle cx="561.26" cy="148.77" r="4.0" fill="none" stroke="#a6a6a6" stroke-width="1.4"/>
<polyline points="416.5,175.72 417.79,252.8 425.55,252.8 452.69,252.8 491.47,245.79 525.07,176.26 561.26,153.62 633.64,121.82" fill="none" stroke="#747474" stroke-width="0.9"/>
<circle cx="416.5" cy="175.72" r="4.0" fill="none" stroke="#a6a6a6" stroke-width="1.4"/>
<circle cx="417.79" cy="252.8" r="4.0" fill="none" stroke="#a6a6a6" stroke-width="1.4"/>
<circle cx="425.55" cy="252.8" r="4.0" fill="none" stroke="#a6a6a6" stroke-width="1.4"/>
<circle cx="452.69" cy="252.8" r="4.0" fill="none" stroke="#a6a6a6" stroke-width="1.4"/>
<circle cx="491.47" cy="245.79" r="4.0" fill="none" stroke="#a6a6a6" stroke-width="1.4"/>
<circle cx="525.07" cy="176.26" r="4.0" fill="none" stroke="#a6a6a6" stroke-width="1.4"/>
<circle cx="561.26" cy="153.62" r="4.0" fill="none" stroke="#a6a6a6" stroke-width="1.4"/>
<polyline points="416.5,180.04 417.79,252.8 425.55,252.8 452.69,252.8 491.47,178.42 525.07,182.73 561.26,171.95 633.64,177.88" fill="none" stroke="#747474" stroke-width="0.9"/>
<rect x="412.5" y="176.04" width="8" height="8" fill="none" stroke="#a6a6a6" stroke-width="1.4"/>
<rect x="413.79" y="248.8" width="8" height="8" fill="none" stroke="#a6a6a6" stroke-width="1.4"/>
<rect x="421.55" y="248.8" width="8" height="8" fill="none" stroke="#a6a6a6" stroke-width="1.4"/>
<rect x="448.69" y="248.8" width="8" height="8" fill="none" stroke="#a6a6a6" stroke-width="1.4"/>
<rect x="487.47" y="174.42" width="8" height="8" fill="none" stroke="#a6a6a6" stroke-width="1.4"/>
<rect x="521.07" y="178.73" width="8" height="8" fill="none" stroke="#a6a6a6" stroke-width="1.4"/>
<rect x="557.26" y="167.95" width="8" height="8" fill="none" stroke="#a6a6a6" stroke-width="1.4"/>
<rect x="629.64" y="173.88" width="8" height="8" fill="none" stroke="#a6a6a6" stroke-width="1.4"/>
<polyline points="416.5,185.43 417.79,252.8 425.55,252.8 452.69,252.8 491.47,252.8 525.07,187.04 561.26,188.66 633.64,185.43" fill="none" stroke="#747474" stroke-width="0.9"/>
<circle cx="416.5" cy="185.43" r="4.0" fill="none" stroke="#a6a6a6" stroke-width="1.4"/>
<circle cx="417.79" cy="252.8" r="4.0" fill="none" stroke="#a6a6a6" stroke-width="1.4"/>
<circle cx="425.55" cy="252.8" r="4.0" fill="none" stroke="#a6a6a6" stroke-width="1.4"/>
<circle cx="452.69" cy="252.8" r="4.0" fill="none" stroke="#a6a6a6" stroke-width="1.4"/>
<circle cx="491.47" cy="252.8" r="4.0" fill="none" stroke="#a6a6a6" stroke-width="1.4"/>
<circle cx="525.07" cy="187.04" r="4.0" fill="none" stroke="#a6a6a6" stroke-width="1.4"/>
<circle cx="561.26" cy="188.66" r="4.0" fill="none" stroke="#a6a6a6" stroke-width="1.4"/>
<circle cx="633.64" cy="185.43" r="4.0" fill="none" stroke="#a6a6a6" stroke-width="1.4"/>
<polyline points="416.5,171.95 417.79,252.8 425.55,252.8 452.69,252.8 491.47,252.8 525.07,197.28 561.26,201.06 633.64,155.24" fill="none" stroke="#747474" stroke-width="0.9"/>
<path d="M416.5 167.33L420.9 175.47L412.1 175.47Z" fill="none" stroke="#a6a6a6" stroke-width="1.4"/>
<path d="M417.79 248.18L422.19 256.32L413.39 256.32Z" fill="none" stroke="#a6a6a6" stroke-width="1.4"/>
<path d="M425.55 248.18L429.95 256.32L421.15 256.32Z" fill="none" stroke="#a6a6a6" stroke-width="1.4"/>
<path d="M452.69 248.18L457.09 256.32L448.29 256.32Z" fill="none" stroke="#a6a6a6" stroke-width="1.4"/>
<path d="M491.47 248.18L495.87 256.32L487.07 256.32Z" fill="none" stroke="#a6a6a6" stroke-width="1.4"/>
<path d="M525.07 192.66L529.47 200.8L520.67 200.8Z" fill="none" stroke="#a6a6a6" stroke-width="1.4"/>
<path d="M561.26 196.44L565.66 204.58L556.86 204.58Z" fill="none" stroke="#a6a6a6" stroke-width="1.4"/>
<path d="M633.64 150.62L638.04 158.76L629.24 158.76Z" fill="none" stroke="#a6a6a6" stroke-width="1.4"/>
<polyline points="416.5,188.12 417.79,252.8 425.55,252.8 452.69,252.8 491.47,252.8 525.07,243.1 561.26,217.77 633.64,167.64" fill="none" stroke="#747474" stroke-width="0.9"/>
<circle cx="416.5" cy="188.12" r="4.0" fill="none" stroke="#a6a6a6" stroke-width="1.4"/>
<circle cx="417.79" cy="252.8" r="4.0" fill="none" stroke="#a6a6a6" stroke-width="1.4"/>
<circle cx="425.55" cy="252.8" r="4.0" fill="none" stroke="#a6a6a6" stroke-width="1.4"/>
<circle cx="452.69" cy="252.8" r="4.0" fill="none" stroke="#a6a6a6" stroke-width="1.4"/>
<circle cx="491.47" cy="252.8" r="4.0" fill="none" stroke="#a6a6a6" stroke-width="1.4"/>
<circle cx="525.07" cy="243.1" r="4.0" fill="none" stroke="#a6a6a6" stroke-width="1.4"/>
<circle cx="561.26" cy="217.77" r="4.0" fill="none" stroke="#a6a6a6" stroke-width="1.4"/>
<circle cx="633.64" cy="167.64" r="4.0" fill="none" stroke="#a6a6a6" stroke-width="1.4"/>
<polyline points="416.5,241.48 417.79,252.8 425.55,252.8 452.69,252.8 491.47,252.8 525.07,180.04 561.26,176.26 633.64,201.06" fill="none" stroke="#747474" stroke-width="0.9"/>
<path d="M416.5 236.86L420.9 245L412.1 245Z" fill="none" stroke="#a6a6a6" stroke-width="1.4"/>
<path d="M417.79 248.18L422.19 256.32L413.39 256.32Z" fill="none" stroke="#a6a6a6" stroke-width="1.4"/>
<path d="M425.55 248.18L429.95 256.32L421.15 256.32Z" fill="none" stroke="#a6a6a6" stroke-width="1.4"/>
<path d="M452.69 248.18L457.09 256.32L448.29 256.32Z" fill="none" stroke="#a6a6a6" stroke-width="1.4"/>
<path d="M491.47 248.18L495.87 256.32L487.07 256.32Z" fill="none" stroke="#a6a6a6" stroke-width="1.4"/>
<path d="M525.07 175.42L529.47 183.56L520.67 183.56Z" fill="none" stroke="#a6a6a6" stroke-width="1.4"/>
<path d="M561.26 171.64L565.66 179.78L556.86 179.78Z" fill="none" stroke="#a6a6a6" stroke-width="1.4"/>
<path d="M633.64 196.44L638.04 204.58L629.24 204.58Z" fill="none" stroke="#a6a6a6" stroke-width="1.4"/>
<polyline points="416.5,216.69 417.79,252.8 425.55,252.8 452.69,252.8 491.47,252.8 525.07,240.4 561.26,161.17 633.64,128.83" fill="none" stroke="#747474" stroke-width="0.9"/>
<rect x="412.5" y="212.69" width="8" height="8" fill="none" stroke="#a6a6a6" stroke-width="1.4"/>
<rect x="413.79" y="248.8" width="8" height="8" fill="none" stroke="#a6a6a6" stroke-width="1.4"/>
<rect x="421.55" y="248.8" width="8" height="8" fill="none" stroke="#a6a6a6" stroke-width="1.4"/>
<rect x="448.69" y="248.8" width="8" height="8" fill="none" stroke="#a6a6a6" stroke-width="1.4"/>
<rect x="487.47" y="248.8" width="8" height="8" fill="none" stroke="#a6a6a6" stroke-width="1.4"/>
<rect x="521.07" y="236.4" width="8" height="8" fill="none" stroke="#a6a6a6" stroke-width="1.4"/>
<rect x="557.26" y="157.17" width="8" height="8" fill="none" stroke="#a6a6a6" stroke-width="1.4"/>
<polyline points="416.5,192.97 417.79,252.8 425.55,252.8 452.69,252.8 491.47,252.8 525.07,252.8 561.26,245.79 633.64,163.87" fill="none" stroke="#747474" stroke-width="0.9"/>
<circle cx="416.5" cy="192.97" r="4.0" fill="none" stroke="#a6a6a6" stroke-width="1.4"/>
<circle cx="417.79" cy="252.8" r="4.0" fill="none" stroke="#a6a6a6" stroke-width="1.4"/>
<circle cx="425.55" cy="252.8" r="4.0" fill="none" stroke="#a6a6a6" stroke-width="1.4"/>
<circle cx="452.69" cy="252.8" r="4.0" fill="none" stroke="#a6a6a6" stroke-width="1.4"/>
<circle cx="491.47" cy="252.8" r="4.0" fill="none" stroke="#a6a6a6" stroke-width="1.4"/>
<circle cx="525.07" cy="252.8" r="4.0" fill="none" stroke="#a6a6a6" stroke-width="1.4"/>
<circle cx="561.26" cy="245.79" r="4.0" fill="none" stroke="#a6a6a6" stroke-width="1.4"/>
<circle cx="633.64" cy="163.87" r="4.0" fill="none" stroke="#a6a6a6" stroke-width="1.4"/>
<polyline points="416.5,223.16 417.79,252.8 425.55,252.8 452.69,252.8 491.47,252.8 525.07,251.72 561.26,250.64 633.64,217.23" fill="none" stroke="#747474" stroke-width="0.9"/>
<rect x="412.5" y="219.16" width="8" height="8" fill="none" stroke="#a6a6a6" stroke-width="1.4"/>
<rect x="413.79" y="248.8" width="8" height="8" fill="none" stroke="#a6a6a6" stroke-width="1.4"/>
<rect x="421.55" y="248.8" width="8" height="8" fill="none" stroke="#a6a6a6" stroke-width="1.4"/>
<rect x="448.69" y="248.8" width="8" height="8" fill="none" stroke="#a6a6a6" stroke-width="1.4"/>
<rect x="487.47" y="248.8" width="8" height="8" fill="none" stroke="#a6a6a6" stroke-width="1.4"/>
<rect x="521.07" y="247.72" width="8" height="8" fill="none" stroke="#a6a6a6" stroke-width="1.4"/>
<rect x="557.26" y="246.64" width="8" height="8" fill="none" stroke="#a6a6a6" stroke-width="1.4"/>
<rect x="629.64" y="213.23" width="8" height="8" fill="none" stroke="#a6a6a6" stroke-width="1.4"/>
<polyline points="416.5,247.41 417.79,252.8 425.55,252.8 452.69,252.8 491.47,252.8 525.07,252.8 561.26,252.26 633.64,227.47" fill="none" stroke="#747474" stroke-width="0.9"/>
<rect x="412.5" y="243.41" width="8" height="8" fill="none" stroke="#a6a6a6" stroke-width="1.4"/>
<rect x="413.79" y="248.8" width="8" height="8" fill="none" stroke="#a6a6a6" stroke-width="1.4"/>
<rect x="421.55" y="248.8" width="8" height="8" fill="none" stroke="#a6a6a6" stroke-width="1.4"/>
<rect x="448.69" y="248.8" width="8" height="8" fill="none" stroke="#a6a6a6" stroke-width="1.4"/>
<rect x="487.47" y="248.8" width="8" height="8" fill="none" stroke="#a6a6a6" stroke-width="1.4"/>
<rect x="521.07" y="248.8" width="8" height="8" fill="none" stroke="#a6a6a6" stroke-width="1.4"/>
<rect x="557.26" y="248.26" width="8" height="8" fill="none" stroke="#a6a6a6" stroke-width="1.4"/>
<rect x="629.64" y="223.47" width="8" height="8" fill="none" stroke="#a6a6a6" stroke-width="1.4"/>
<polyline points="416.5,250.11 417.79,252.8 425.55,252.8 452.69,252.8 491.47,252.8 525.07,252.8 561.26,252.8 633.64,230.16" fill="none" stroke="#747474" stroke-width="0.9"/>
<rect x="412.5" y="246.11" width="8" height="8" fill="none" stroke="#a6a6a6" stroke-width="1.4"/>
<rect x="413.79" y="248.8" width="8" height="8" fill="none" stroke="#a6a6a6" stroke-width="1.4"/>
<rect x="421.55" y="248.8" width="8" height="8" fill="none" stroke="#a6a6a6" stroke-width="1.4"/>
<rect x="448.69" y="248.8" width="8" height="8" fill="none" stroke="#a6a6a6" stroke-width="1.4"/>
<rect x="487.47" y="248.8" width="8" height="8" fill="none" stroke="#a6a6a6" stroke-width="1.4"/>
<rect x="521.07" y="248.8" width="8" height="8" fill="none" stroke="#a6a6a6" stroke-width="1.4"/>
<rect x="557.26" y="248.8" width="8" height="8" fill="none" stroke="#a6a6a6" stroke-width="1.4"/>
<rect x="629.64" y="226.16" width="8" height="8" fill="none" stroke="#a6a6a6" stroke-width="1.4"/>
<polyline points="416.5,252.8 417.79,252.8 425.55,252.8 452.69,252.8 491.47,252.8 525.07,252.8 561.26,252.8 633.64,236.09" fill="none" stroke="#747474" stroke-width="0.9"/>
<rect x="412.5" y="248.8" width="8" height="8" fill="none" stroke="#a6a6a6" stroke-width="1.4"/>
<rect x="413.79" y="248.8" width="8" height="8" fill="none" stroke="#a6a6a6" stroke-width="1.4"/>
<rect x="421.55" y="248.8" width="8" height="8" fill="none" stroke="#a6a6a6" stroke-width="1.4"/>
<rect x="448.69" y="248.8" width="8" height="8" fill="none" stroke="#a6a6a6" stroke-width="1.4"/>
<rect x="487.47" y="248.8" width="8" height="8" fill="none" stroke="#a6a6a6" stroke-width="1.4"/>
<rect x="521.07" y="248.8" width="8" height="8" fill="none" stroke="#a6a6a6" stroke-width="1.4"/>
<rect x="557.26" y="248.8" width="8" height="8" fill="none" stroke="#a6a6a6" stroke-width="1.4"/>
<rect x="629.64" y="232.09" width="8" height="8" fill="none" stroke="#a6a6a6" stroke-width="1.4"/>
<polyline points="416.5,252.8 417.79,252.8 425.55,252.8 452.69,252.8 491.47,252.8 525.07,252.8 561.26,252.8 633.64,243.64" fill="none" stroke="#747474" stroke-width="0.9"/>
<circle cx="416.5" cy="252.8" r="4.0" fill="none" stroke="#a6a6a6" stroke-width="1.4"/>
<circle cx="417.79" cy="252.8" r="4.0" fill="none" stroke="#a6a6a6" stroke-width="1.4"/>
<circle cx="425.55" cy="252.8" r="4.0" fill="none" stroke="#a6a6a6" stroke-width="1.4"/>
<circle cx="452.69" cy="252.8" r="4.0" fill="none" stroke="#a6a6a6" stroke-width="1.4"/>
<circle cx="491.47" cy="252.8" r="4.0" fill="none" stroke="#a6a6a6" stroke-width="1.4"/>
<circle cx="525.07" cy="252.8" r="4.0" fill="none" stroke="#a6a6a6" stroke-width="1.4"/>
<circle cx="561.26" cy="252.8" r="4.0" fill="none" stroke="#a6a6a6" stroke-width="1.4"/>
<circle cx="633.64" cy="243.64" r="4.0" fill="none" stroke="#a6a6a6" stroke-width="1.4"/>
<polyline points="416.5,252.8 417.79,252.8 452.69,252.8 491.47,252.8 525.07,250.11 561.26,251.18 633.64,242.02" fill="none" stroke="#747474" stroke-width="0.9"/>
<rect x="412.5" y="248.8" width="8" height="8" fill="none" stroke="#a6a6a6" stroke-width="1.4"/>
<rect x="413.79" y="248.8" width="8" height="8" fill="none" stroke="#a6a6a6" stroke-width="1.4"/>
<rect x="448.69" y="248.8" width="8" height="8" fill="none" stroke="#a6a6a6" stroke-width="1.4"/>
<rect x="487.47" y="248.8" width="8" height="8" fill="none" stroke="#a6a6a6" stroke-width="1.4"/>
<rect x="521.07" y="246.11" width="8" height="8" fill="none" stroke="#a6a6a6" stroke-width="1.4"/>
<rect x="557.26" y="247.18" width="8" height="8" fill="none" stroke="#a6a6a6" stroke-width="1.4"/>
<rect x="629.64" y="238.02" width="8" height="8" fill="none" stroke="#a6a6a6" stroke-width="1.4"/>
<polyline points="416.5,251.72 417.79,252.8 452.69,252.8 491.47,252.8 525.07,252.8 561.26,252.8 633.64,252.26" fill="none" stroke="#747474" stroke-width="0.9"/>
<rect x="412.5" y="247.72" width="8" height="8" fill="none" stroke="#a6a6a6" stroke-width="1.4"/>
<rect x="413.79" y="248.8" width="8" height="8" fill="none" stroke="#a6a6a6" stroke-width="1.4"/>
<rect x="448.69" y="248.8" width="8" height="8" fill="none" stroke="#a6a6a6" stroke-width="1.4"/>
<rect x="487.47" y="248.8" width="8" height="8" fill="none" stroke="#a6a6a6" stroke-width="1.4"/>
<rect x="521.07" y="248.8" width="8" height="8" fill="none" stroke="#a6a6a6" stroke-width="1.4"/>
<rect x="557.26" y="248.8" width="8" height="8" fill="none" stroke="#a6a6a6" stroke-width="1.4"/>
<rect x="629.64" y="248.26" width="8" height="8" fill="none" stroke="#a6a6a6" stroke-width="1.4"/>
<polyline points="416.5,231.24 417.79,252.8 425.55,252.8 452.69,252.8 491.47,252.8 525.07,247.41 561.26,248.49 633.64,177.34" fill="none" stroke="#747474" stroke-width="0.9"/>
<path d="M416.5 226.62L420.9 234.76L412.1 234.76Z" fill="none" stroke="#a6a6a6" stroke-width="1.4"/>
<path d="M417.79 248.18L422.19 256.32L413.39 256.32Z" fill="none" stroke="#a6a6a6" stroke-width="1.4"/>
<path d="M425.55 248.18L429.95 256.32L421.15 256.32Z" fill="none" stroke="#a6a6a6" stroke-width="1.4"/>
<path d="M452.69 248.18L457.09 256.32L448.29 256.32Z" fill="none" stroke="#a6a6a6" stroke-width="1.4"/>
<path d="M491.47 248.18L495.87 256.32L487.07 256.32Z" fill="none" stroke="#a6a6a6" stroke-width="1.4"/>
<path d="M525.07 242.79L529.47 250.93L520.67 250.93Z" fill="none" stroke="#a6a6a6" stroke-width="1.4"/>
<path d="M561.26 243.87L565.66 252.01L556.86 252.01Z" fill="none" stroke="#a6a6a6" stroke-width="1.4"/>
<path d="M633.64 172.72L638.04 180.86L629.24 180.86Z" fill="none" stroke="#a6a6a6" stroke-width="1.4"/>
<polyline points="416.5,182.73 417.79,252.8 425.55,252.8 452.69,252.8 491.47,252.8 525.07,252.8 561.26,248.49 633.64,171.95" fill="none" stroke="#747474" stroke-width="0.9"/>
<circle cx="416.5" cy="182.73" r="4.0" fill="none" stroke="#a6a6a6" stroke-width="1.4"/>
<circle cx="417.79" cy="252.8" r="4.0" fill="none" stroke="#a6a6a6" stroke-width="1.4"/>
<circle cx="425.55" cy="252.8" r="4.0" fill="none" stroke="#a6a6a6" stroke-width="1.4"/>
<circle cx="452.69" cy="252.8" r="4.0" fill="none" stroke="#a6a6a6" stroke-width="1.4"/>
<circle cx="491.47" cy="252.8" r="4.0" fill="none" stroke="#a6a6a6" stroke-width="1.4"/>
<circle cx="525.07" cy="252.8" r="4.0" fill="none" stroke="#a6a6a6" stroke-width="1.4"/>
<circle cx="561.26" cy="248.49" r="4.0" fill="none" stroke="#a6a6a6" stroke-width="1.4"/>
<circle cx="633.64" cy="171.95" r="4.0" fill="none" stroke="#a6a6a6" stroke-width="1.4"/>
<polyline points="416.5,220.46 417.79,252.8 425.55,252.8 452.69,252.8 491.47,252.8 525.07,248.49 561.26,252.8 633.64,221.54" fill="none" stroke="#747474" stroke-width="0.9"/>
<rect x="412.5" y="216.46" width="8" height="8" fill="none" stroke="#a6a6a6" stroke-width="1.4"/>
<rect x="413.79" y="248.8" width="8" height="8" fill="none" stroke="#a6a6a6" stroke-width="1.4"/>
<rect x="421.55" y="248.8" width="8" height="8" fill="none" stroke="#a6a6a6" stroke-width="1.4"/>
<rect x="448.69" y="248.8" width="8" height="8" fill="none" stroke="#a6a6a6" stroke-width="1.4"/>
<rect x="487.47" y="248.8" width="8" height="8" fill="none" stroke="#a6a6a6" stroke-width="1.4"/>
<rect x="521.07" y="244.49" width="8" height="8" fill="none" stroke="#a6a6a6" stroke-width="1.4"/>
<rect x="557.26" y="248.8" width="8" height="8" fill="none" stroke="#a6a6a6" stroke-width="1.4"/>
<rect x="629.64" y="217.54" width="8" height="8" fill="none" stroke="#a6a6a6" stroke-width="1.4"/>
<polyline points="416.5,252.8 417.79,252.8 425.55,252.8 452.69,252.8 491.47,252.8 525.07,252.8 561.26,252.8 633.64,250.11" fill="none" stroke="#747474" stroke-width="0.9"/>
<rect x="412.5" y="248.8" width="8" height="8" fill="none" stroke="#a6a6a6" stroke-width="1.4"/>
<rect x="413.79" y="248.8" width="8" height="8" fill="none" stroke="#a6a6a6" stroke-width="1.4"/>
<rect x="421.55" y="248.8" width="8" height="8" fill="none" stroke="#a6a6a6" stroke-width="1.4"/>
<rect x="448.69" y="248.8" width="8" height="8" fill="none" stroke="#a6a6a6" stroke-width="1.4"/>
<rect x="487.47" y="248.8" width="8" height="8" fill="none" stroke="#a6a6a6" stroke-width="1.4"/>
<rect x="521.07" y="248.8" width="8" height="8" fill="none" stroke="#a6a6a6" stroke-width="1.4"/>
<rect x="557.26" y="248.8" width="8" height="8" fill="none" stroke="#a6a6a6" stroke-width="1.4"/>
<rect x="629.64" y="246.11" width="8" height="8" fill="none" stroke="#a6a6a6" stroke-width="1.4"/>
</g>
<polyline points="416.5,231.78 417.79,252.8 425.55,252.8 429.43,252.8 434.6,252.8 452.69,252.8 491.47,252.8 525.07,252.26 561.26,249.03 633.64,209.14" fill="none" stroke="#b5171b" stroke-width="2.5" stroke-linejoin="round"/>
<path d="M416.5 225.08L422.7 231.78L416.5 238.48L410.3 231.78Z" fill="#b5171b"/>
<path d="M417.79 246.1L423.99 252.8L417.79 259.5L411.59 252.8Z" fill="#b5171b"/>
<path d="M425.55 246.1L431.75 252.8L425.55 259.5L419.35 252.8Z" fill="#b5171b"/>
<path d="M429.43 246.1L435.62 252.8L429.43 259.5L423.23 252.8Z" fill="#b5171b"/>
<path d="M434.6 246.1L440.8 252.8L434.6 259.5L428.4 252.8Z" fill="#b5171b"/>
<path d="M452.69 246.1L458.89 252.8L452.69 259.5L446.49 252.8Z" fill="#b5171b"/>
<path d="M491.47 246.1L497.67 252.8L491.47 259.5L485.27 252.8Z" fill="#b5171b"/>
<path d="M525.07 245.56L531.27 252.26L525.07 258.96L518.87 252.26Z" fill="#b5171b"/>
<path d="M561.26 242.33L567.46 249.03L561.26 255.73L555.06 249.03Z" fill="#b5171b"/>
<path d="M633.64 202.44L639.84 209.14L633.64 215.84L627.44 209.14Z" fill="#b5171b"/>
<text transform="translate(371,138.4) rotate(-90)" font-size="12.3" text-anchor="middle" textLength="92.6" lengthAdjust="spacingAndGlyphs" fill="#222" stroke="#222" stroke-width="0.08">B cells (cells/µl)</text>
<text x="0.2" y="330.5" font-size="17" font-weight="bold" fill="#000" stroke="#000" stroke-width="0.8">c</text>
<line x1="67.5" y1="335.5" x2="67.5" y2="562.5" stroke="#5e5e5e" stroke-width="1"/>
<line x1="61.9" y1="335.5" x2="67.5" y2="335.5" stroke="#5e5e5e" stroke-width="1"/>
<text x="55.8" y="339.1" font-size="10.5" text-anchor="end" textLength="35.4" lengthAdjust="spacingAndGlyphs" fill="#222" font-weight="normal" stroke="#222" stroke-width="0.05" >16,000</text>
<line x1="61.9" y1="392.5" x2="67.5" y2="392.5" stroke="#5e5e5e" stroke-width="1"/>
<text x="55.8" y="395.9" font-size="10.5" text-anchor="end" textLength="35.2" lengthAdjust="spacingAndGlyphs" fill="#222" font-weight="normal" stroke="#222" stroke-width="0.05" >12,000</text>
<line x1="61.9" y1="448.5" x2="67.5" y2="448.5" stroke="#5e5e5e" stroke-width="1"/>
<text x="55.8" y="452.65" font-size="10.5" text-anchor="end" textLength="30.3" lengthAdjust="spacingAndGlyphs" fill="#222" font-weight="normal" stroke="#222" stroke-width="0.05" >8,000</text>
<line x1="61.9" y1="505.5" x2="67.5" y2="505.5" stroke="#5e5e5e" stroke-width="1"/>
<text x="55.8" y="509.4" font-size="10.5" text-anchor="end" textLength="31.3" lengthAdjust="spacingAndGlyphs" fill="#222" font-weight="normal" stroke="#222" stroke-width="0.05" >4,000</text>
<line x1="61.9" y1="562.5" x2="67.5" y2="562.5" stroke="#5e5e5e" stroke-width="1"/>
<text x="55.8" y="566.2" font-size="10.5" text-anchor="end" textLength="7.4" lengthAdjust="spacingAndGlyphs" fill="#222" font-weight="normal" stroke="#222" stroke-width="0.05" >0</text>
<line x1="62.5" y1="562.5" x2="326.5" y2="562.5" stroke="#5e5e5e" stroke-width="1"/>
<line x1="67.5" y1="562.5" x2="67.5" y2="568" stroke="#5e5e5e" stroke-width="1"/>
<text x="67.5" y="583" font-size="10.5" text-anchor="middle" textLength="7.4" lengthAdjust="spacingAndGlyphs" fill="#222" font-weight="normal" stroke="#222" stroke-width="0.05" >0</text>
<line x1="132.5" y1="562.5" x2="132.5" y2="568" stroke="#5e5e5e" stroke-width="1"/>
<text x="132.5" y="583" font-size="10.5" text-anchor="middle" textLength="14" lengthAdjust="spacingAndGlyphs" fill="#222" font-weight="normal" stroke="#222" stroke-width="0.05" >50</text>
<line x1="196.5" y1="562.5" x2="196.5" y2="568" stroke="#5e5e5e" stroke-width="1"/>
<text x="196.5" y="583" font-size="10.5" text-anchor="middle" textLength="19.1" lengthAdjust="spacingAndGlyphs" fill="#222" font-weight="normal" stroke="#222" stroke-width="0.05" >100</text>
<line x1="261.5" y1="562.5" x2="261.5" y2="568" stroke="#5e5e5e" stroke-width="1"/>
<text x="261.5" y="583" font-size="10.5" text-anchor="middle" textLength="19.1" lengthAdjust="spacingAndGlyphs" fill="#222" font-weight="normal" stroke="#222" stroke-width="0.05" >150</text>
<line x1="326.5" y1="562.5" x2="326.5" y2="568" stroke="#5e5e5e" stroke-width="1"/>
<text x="326.5" y="583" font-size="10.5" text-anchor="middle" textLength="20.4" lengthAdjust="spacingAndGlyphs" fill="#222" font-weight="normal" stroke="#222" stroke-width="0.05" >200</text>
<text x="196.45" y="603.8" font-size="12.3" text-anchor="middle" textLength="170" lengthAdjust="spacingAndGlyphs" fill="#222" stroke="#222" stroke-width="0.08">Days after CAR-T cell therapy</text>
<polyline points="67.5,463.14 70.08,501.47 76.55,549.73 80.42,542.63 85.59,515.66 103.69,390.04 142.47,347.46 176.07,403.95 212.26,444.69 284.64,458.88" fill="none" stroke="#747474" stroke-width="0.9"/>
<circle cx="67.5" cy="463.14" r="4.0" fill="none" stroke="#a6a6a6" stroke-width="1.4"/>
<circle cx="70.08" cy="501.47" r="4.0" fill="none" stroke="#a6a6a6" stroke-width="1.4"/>
<circle cx="76.55" cy="549.73" r="4.0" fill="none" stroke="#a6a6a6" stroke-width="1.4"/>
<circle cx="80.42" cy="542.63" r="4.0" fill="none" stroke="#a6a6a6" stroke-width="1.4"/>
<circle cx="85.59" cy="515.66" r="4.0" fill="none" stroke="#a6a6a6" stroke-width="1.4"/>
<circle cx="103.69" cy="390.04" r="4.0" fill="none" stroke="#a6a6a6" stroke-width="1.4"/>
<circle cx="142.47" cy="347.46" r="4.0" fill="none" stroke="#a6a6a6" stroke-width="1.4"/>
<circle cx="176.07" cy="403.95" r="4.0" fill="none" stroke="#a6a6a6" stroke-width="1.4"/>
<circle cx="212.26" cy="444.69" r="4.0" fill="none" stroke="#a6a6a6" stroke-width="1.4"/>
<circle cx="284.64" cy="458.88" r="4.0" fill="none" stroke="#a6a6a6" stroke-width="1.4"/>
<polyline points="67.5,490.54 70.08,519.92 76.55,546.89 80.42,549.73 85.59,528.43 103.69,515.66 142.47,477.34 176.07,349.73 212.26,491.53 284.64,531.84" fill="none" stroke="#747474" stroke-width="0.9"/>
<rect x="63.5" y="486.54" width="8" height="8" fill="none" stroke="#a6a6a6" stroke-width="1.4"/>
<rect x="66.08" y="515.92" width="8" height="8" fill="none" stroke="#a6a6a6" stroke-width="1.4"/>
<rect x="72.55" y="542.89" width="8" height="8" fill="none" stroke="#a6a6a6" stroke-width="1.4"/>
<rect x="76.42" y="545.73" width="8" height="8" fill="none" stroke="#a6a6a6" stroke-width="1.4"/>
<rect x="81.59" y="524.43" width="8" height="8" fill="none" stroke="#a6a6a6" stroke-width="1.4"/>
<rect x="99.69" y="511.66" width="8" height="8" fill="none" stroke="#a6a6a6" stroke-width="1.4"/>
<rect x="138.47" y="473.34" width="8" height="8" fill="none" stroke="#a6a6a6" stroke-width="1.4"/>
<rect x="172.07" y="345.73" width="8" height="8" fill="none" stroke="#a6a6a6" stroke-width="1.4"/>
<rect x="208.26" y="487.53" width="8" height="8" fill="none" stroke="#a6a6a6" stroke-width="1.4"/>
<rect x="280.64" y="527.84" width="8" height="8" fill="none" stroke="#a6a6a6" stroke-width="1.4"/>
<polyline points="67.5,397.85 70.08,491.53 76.55,541.21 80.42,534.11 85.59,507.14 103.69,414.88 142.47,409.35 176.07,412.04 212.26,414.31 284.64,420.42" fill="none" stroke="#747474" stroke-width="0.9"/>
<circle cx="67.5" cy="397.85" r="4.0" fill="none" stroke="#a6a6a6" stroke-width="1.4"/>
<circle cx="70.08" cy="491.53" r="4.0" fill="none" stroke="#a6a6a6" stroke-width="1.4"/>
<circle cx="76.55" cy="541.21" r="4.0" fill="none" stroke="#a6a6a6" stroke-width="1.4"/>
<circle cx="80.42" cy="534.11" r="4.0" fill="none" stroke="#a6a6a6" stroke-width="1.4"/>
<circle cx="85.59" cy="507.14" r="4.0" fill="none" stroke="#a6a6a6" stroke-width="1.4"/>
<circle cx="103.69" cy="414.88" r="4.0" fill="none" stroke="#a6a6a6" stroke-width="1.4"/>
<circle cx="142.47" cy="409.35" r="4.0" fill="none" stroke="#a6a6a6" stroke-width="1.4"/>
<circle cx="176.07" cy="412.04" r="4.0" fill="none" stroke="#a6a6a6" stroke-width="1.4"/>
<circle cx="212.26" cy="414.31" r="4.0" fill="none" stroke="#a6a6a6" stroke-width="1.4"/>
<circle cx="284.64" cy="420.42" r="4.0" fill="none" stroke="#a6a6a6" stroke-width="1.4"/>
<polyline points="67.5,457.46 70.08,515.66 76.55,552.56 80.42,546.89 85.59,521.34 103.69,408.07 142.47,436.17 176.07,447.95 212.26,427.37 284.64,431.35" fill="none" stroke="#747474" stroke-width="0.9"/>
<path d="M67.5 452.84L71.9 460.98L63.1 460.98Z" fill="none" stroke="#a6a6a6" stroke-width="1.4"/>
<path d="M70.08 511.04L74.48 519.18L65.68 519.18Z" fill="none" stroke="#a6a6a6" stroke-width="1.4"/>
<path d="M76.55 547.94L80.95 556.08L72.15 556.08Z" fill="none" stroke="#a6a6a6" stroke-width="1.4"/>
<path d="M80.42 542.27L84.83 550.41L76.02 550.41Z" fill="none" stroke="#a6a6a6" stroke-width="1.4"/>
<path d="M85.59 516.72L90 524.86L81.19 524.86Z" fill="none" stroke="#a6a6a6" stroke-width="1.4"/>
<path d="M103.69 403.45L108.09 411.59L99.29 411.59Z" fill="none" stroke="#a6a6a6" stroke-width="1.4"/>
<path d="M142.47 431.55L146.87 439.69L138.06 439.69Z" fill="none" stroke="#a6a6a6" stroke-width="1.4"/>
<path d="M176.07 443.33L180.47 451.47L171.67 451.47Z" fill="none" stroke="#a6a6a6" stroke-width="1.4"/>
<path d="M212.26 422.75L216.66 430.89L207.86 430.89Z" fill="none" stroke="#a6a6a6" stroke-width="1.4"/>
<path d="M284.64 426.73L289.04 434.87L280.24 434.87Z" fill="none" stroke="#a6a6a6" stroke-width="1.4"/>
<polyline points="67.5,413.04 70.08,497.21 76.55,544.05 80.42,538.37 85.59,511.4 103.69,420.56 142.47,430.07 176.07,407.79 212.26,441 284.64,441" fill="none" stroke="#747474" stroke-width="0.9"/>
<circle cx="67.5" cy="413.04" r="4.0" fill="none" stroke="#a6a6a6" stroke-width="1.4"/>
<circle cx="70.08" cy="497.21" r="4.0" fill="none" stroke="#a6a6a6" stroke-width="1.4"/>
<circle cx="76.55" cy="544.05" r="4.0" fill="none" stroke="#a6a6a6" stroke-width="1.4"/>
<circle cx="80.42" cy="538.37" r="4.0" fill="none" stroke="#a6a6a6" stroke-width="1.4"/>
<circle cx="85.59" cy="511.4" r="4.0" fill="none" stroke="#a6a6a6" stroke-width="1.4"/>
<circle cx="103.69" cy="420.56" r="4.0" fill="none" stroke="#a6a6a6" stroke-width="1.4"/>
<circle cx="142.47" cy="430.07" r="4.0" fill="none" stroke="#a6a6a6" stroke-width="1.4"/>
<circle cx="176.07" cy="407.79" r="4.0" fill="none" stroke="#a6a6a6" stroke-width="1.4"/>
<circle cx="212.26" cy="441" r="4.0" fill="none" stroke="#a6a6a6" stroke-width="1.4"/>
<circle cx="284.64" cy="441" r="4.0" fill="none" stroke="#a6a6a6" stroke-width="1.4"/>
<polyline points="76.55,555.4 80.42,505.72 85.59,534.11 103.69,509.84 176.07,474.07 212.26,518.07 284.64,509.98" fill="none" stroke="#747474" stroke-width="0.9"/>
<circle cx="76.55" cy="555.4" r="4.0" fill="none" stroke="#a6a6a6" stroke-width="1.4"/>
<circle cx="80.42" cy="505.72" r="4.0" fill="none" stroke="#a6a6a6" stroke-width="1.4"/>
<circle cx="85.59" cy="534.11" r="4.0" fill="none" stroke="#a6a6a6" stroke-width="1.4"/>
<circle cx="103.69" cy="509.84" r="4.0" fill="none" stroke="#a6a6a6" stroke-width="1.4"/>
<circle cx="176.07" cy="474.07" r="4.0" fill="none" stroke="#a6a6a6" stroke-width="1.4"/>
<circle cx="212.26" cy="518.07" r="4.0" fill="none" stroke="#a6a6a6" stroke-width="1.4"/>
<circle cx="284.64" cy="509.98" r="4.0" fill="none" stroke="#a6a6a6" stroke-width="1.4"/>
<polyline points="67.5,502.89 76.55,559.66 80.42,558.24 142.47,488.69 176.07,465.84 284.64,528.43" fill="none" stroke="#747474" stroke-width="0.9"/>
<rect x="63.5" y="498.89" width="8" height="8" fill="none" stroke="#a6a6a6" stroke-width="1.4"/>
<rect x="72.55" y="555.66" width="8" height="8" fill="none" stroke="#a6a6a6" stroke-width="1.4"/>
<rect x="76.42" y="554.24" width="8" height="8" fill="none" stroke="#a6a6a6" stroke-width="1.4"/>
<rect x="138.47" y="484.69" width="8" height="8" fill="none" stroke="#a6a6a6" stroke-width="1.4"/>
<rect x="172.07" y="461.84" width="8" height="8" fill="none" stroke="#a6a6a6" stroke-width="1.4"/>
<rect x="280.64" y="524.43" width="8" height="8" fill="none" stroke="#a6a6a6" stroke-width="1.4"/>
<polyline points="67.5,399.27 70.08,522.76 76.55,551.14 103.69,430.07 142.47,495.93 176.07,512.54 284.64,482.3" fill="none" stroke="#747474" stroke-width="0.9"/>
<circle cx="67.5" cy="399.27" r="4.0" fill="none" stroke="#a6a6a6" stroke-width="1.4"/>
<circle cx="70.08" cy="522.76" r="4.0" fill="none" stroke="#a6a6a6" stroke-width="1.4"/>
<circle cx="76.55" cy="551.14" r="4.0" fill="none" stroke="#a6a6a6" stroke-width="1.4"/>
<circle cx="103.69" cy="430.07" r="4.0" fill="none" stroke="#a6a6a6" stroke-width="1.4"/>
<circle cx="142.47" cy="495.93" r="4.0" fill="none" stroke="#a6a6a6" stroke-width="1.4"/>
<circle cx="176.07" cy="512.54" r="4.0" fill="none" stroke="#a6a6a6" stroke-width="1.4"/>
<circle cx="284.64" cy="482.3" r="4.0" fill="none" stroke="#a6a6a6" stroke-width="1.4"/>
<polyline points="67.5,512.82 70.08,531.27 103.69,519.92 142.47,534.11 176.07,486.42 212.26,514.95 284.64,523.47" fill="none" stroke="#747474" stroke-width="0.9"/>
<path d="M67.5 508.2L71.9 516.34L63.1 516.34Z" fill="none" stroke="#a6a6a6" stroke-width="1.4"/>
<path d="M70.08 526.65L74.48 534.79L65.68 534.79Z" fill="none" stroke="#a6a6a6" stroke-width="1.4"/>
<path d="M103.69 515.3L108.09 523.44L99.29 523.44Z" fill="none" stroke="#a6a6a6" stroke-width="1.4"/>
<path d="M142.47 529.49L146.87 537.63L138.06 537.63Z" fill="none" stroke="#a6a6a6" stroke-width="1.4"/>
<path d="M176.07 481.8L180.47 489.94L171.67 489.94Z" fill="none" stroke="#a6a6a6" stroke-width="1.4"/>
<path d="M212.26 510.33L216.66 518.47L207.86 518.47Z" fill="none" stroke="#a6a6a6" stroke-width="1.4"/>
<path d="M284.64 518.85L289.04 526.99L280.24 526.99Z" fill="none" stroke="#a6a6a6" stroke-width="1.4"/>
<polyline points="67.5,454.63 70.08,527.01 85.59,522.76 142.47,461.58 176.07,519.92 284.64,519.92" fill="none" stroke="#747474" stroke-width="0.9"/>
<rect x="63.5" y="450.63" width="8" height="8" fill="none" stroke="#a6a6a6" stroke-width="1.4"/>
<rect x="66.08" y="523.01" width="8" height="8" fill="none" stroke="#a6a6a6" stroke-width="1.4"/>
<rect x="81.59" y="518.76" width="8" height="8" fill="none" stroke="#a6a6a6" stroke-width="1.4"/>
<rect x="138.47" y="457.58" width="8" height="8" fill="none" stroke="#a6a6a6" stroke-width="1.4"/>
<rect x="172.07" y="515.92" width="8" height="8" fill="none" stroke="#a6a6a6" stroke-width="1.4"/>
<rect x="280.64" y="515.92" width="8" height="8" fill="none" stroke="#a6a6a6" stroke-width="1.4"/>
<polyline points="70.08,538.37 76.55,558.95 103.69,490.54 142.47,502.89 212.26,486.42" fill="none" stroke="#747474" stroke-width="0.9"/>
<circle cx="70.08" cy="538.37" r="4.0" fill="none" stroke="#a6a6a6" stroke-width="1.4"/>
<circle cx="76.55" cy="558.95" r="4.0" fill="none" stroke="#a6a6a6" stroke-width="1.4"/>
<circle cx="103.69" cy="490.54" r="4.0" fill="none" stroke="#a6a6a6" stroke-width="1.4"/>
<circle cx="142.47" cy="502.89" r="4.0" fill="none" stroke="#a6a6a6" stroke-width="1.4"/>
<circle cx="212.26" cy="486.42" r="4.0" fill="none" stroke="#a6a6a6" stroke-width="1.4"/>
<polyline points="67.5,473.08 80.42,541.21 85.59,541.21 103.69,538.37 142.47,529 176.07,522.05 212.26,524.89" fill="none" stroke="#747474" stroke-width="0.9"/>
<rect x="63.5" y="469.08" width="8" height="8" fill="none" stroke="#a6a6a6" stroke-width="1.4"/>
<rect x="76.42" y="537.21" width="8" height="8" fill="none" stroke="#a6a6a6" stroke-width="1.4"/>
<rect x="81.59" y="537.21" width="8" height="8" fill="none" stroke="#a6a6a6" stroke-width="1.4"/>
<rect x="99.69" y="534.37" width="8" height="8" fill="none" stroke="#a6a6a6" stroke-width="1.4"/>
<rect x="138.47" y="525" width="8" height="8" fill="none" stroke="#a6a6a6" stroke-width="1.4"/>
<rect x="172.07" y="518.05" width="8" height="8" fill="none" stroke="#a6a6a6" stroke-width="1.4"/>
<rect x="208.26" y="520.89" width="8" height="8" fill="none" stroke="#a6a6a6" stroke-width="1.4"/>
<polyline points="67.5,525.6 70.08,542.63 76.55,558.24 80.42,552.56 103.69,498.63 142.47,522.76 212.26,465.84 284.64,498.63" fill="none" stroke="#747474" stroke-width="0.9"/>
<circle cx="67.5" cy="525.6" r="4.0" fill="none" stroke="#a6a6a6" stroke-width="1.4"/>
<circle cx="70.08" cy="542.63" r="4.0" fill="none" stroke="#a6a6a6" stroke-width="1.4"/>
<circle cx="76.55" cy="558.24" r="4.0" fill="none" stroke="#a6a6a6" stroke-width="1.4"/>
<circle cx="80.42" cy="552.56" r="4.0" fill="none" stroke="#a6a6a6" stroke-width="1.4"/>
<circle cx="103.69" cy="498.63" r="4.0" fill="none" stroke="#a6a6a6" stroke-width="1.4"/>
<circle cx="142.47" cy="522.76" r="4.0" fill="none" stroke="#a6a6a6" stroke-width="1.4"/>
<circle cx="212.26" cy="465.84" r="4.0" fill="none" stroke="#a6a6a6" stroke-width="1.4"/>
<circle cx="284.64" cy="498.63" r="4.0" fill="none" stroke="#a6a6a6" stroke-width="1.4"/>
<polyline points="67.5,509.84 70.08,511.4 76.55,535.53 80.42,529.85 85.59,497.21 103.69,548.31 142.47,524.18 176.07,527.01 212.26,508.56" fill="none" stroke="#747474" stroke-width="0.9"/>
<path d="M67.5 505.22L71.9 513.36L63.1 513.36Z" fill="none" stroke="#a6a6a6" stroke-width="1.4"/>
<path d="M70.08 506.78L74.48 514.92L65.68 514.92Z" fill="none" stroke="#a6a6a6" stroke-width="1.4"/>
<path d="M76.55 530.91L80.95 539.05L72.15 539.05Z" fill="none" stroke="#a6a6a6" stroke-width="1.4"/>
<path d="M80.42 525.23L84.83 533.37L76.02 533.37Z" fill="none" stroke="#a6a6a6" stroke-width="1.4"/>
<path d="M85.59 492.59L90 500.73L81.19 500.73Z" fill="none" stroke="#a6a6a6" stroke-width="1.4"/>
<path d="M103.69 543.69L108.09 551.83L99.29 551.83Z" fill="none" stroke="#a6a6a6" stroke-width="1.4"/>
<path d="M142.47 519.56L146.87 527.7L138.06 527.7Z" fill="none" stroke="#a6a6a6" stroke-width="1.4"/>
<path d="M176.07 522.39L180.47 530.53L171.67 530.53Z" fill="none" stroke="#a6a6a6" stroke-width="1.4"/>
<path d="M212.26 503.94L216.66 512.08L207.86 512.08Z" fill="none" stroke="#a6a6a6" stroke-width="1.4"/>
<polyline points="67.5,517.08 76.55,545.47 103.69,466.97 142.47,448.95 176.07,507 284.64,464.56" fill="none" stroke="#747474" stroke-width="0.9"/>
<rect x="63.5" y="513.08" width="8" height="8" fill="none" stroke="#a6a6a6" stroke-width="1.4"/>
<rect x="72.55" y="541.47" width="8" height="8" fill="none" stroke="#a6a6a6" stroke-width="1.4"/>
<rect x="99.69" y="462.97" width="8" height="8" fill="none" stroke="#a6a6a6" stroke-width="1.4"/>
<rect x="138.47" y="444.95" width="8" height="8" fill="none" stroke="#a6a6a6" stroke-width="1.4"/>
<rect x="172.07" y="503" width="8" height="8" fill="none" stroke="#a6a6a6" stroke-width="1.4"/>
<rect x="280.64" y="460.56" width="8" height="8" fill="none" stroke="#a6a6a6" stroke-width="1.4"/>
<polyline points="67.5,529.85 70.08,548.31 76.55,560.37 85.59,552.56 142.47,548.31 284.64,515.66" fill="none" stroke="#747474" stroke-width="0.9"/>
<circle cx="67.5" cy="529.85" r="4.0" fill="none" stroke="#a6a6a6" stroke-width="1.4"/>
<circle cx="70.08" cy="548.31" r="4.0" fill="none" stroke="#a6a6a6" stroke-width="1.4"/>
<circle cx="76.55" cy="560.37" r="4.0" fill="none" stroke="#a6a6a6" stroke-width="1.4"/>
<circle cx="85.59" cy="552.56" r="4.0" fill="none" stroke="#a6a6a6" stroke-width="1.4"/>
<circle cx="142.47" cy="548.31" r="4.0" fill="none" stroke="#a6a6a6" stroke-width="1.4"/>
<circle cx="284.64" cy="515.66" r="4.0" fill="none" stroke="#a6a6a6" stroke-width="1.4"/>
<polyline points="67.5,494.37 76.55,556.82 103.69,544.05 142.47,515.66 176.07,534.11 212.26,495.93" fill="none" stroke="#747474" stroke-width="0.9"/>
<rect x="63.5" y="490.37" width="8" height="8" fill="none" stroke="#a6a6a6" stroke-width="1.4"/>
<rect x="72.55" y="552.82" width="8" height="8" fill="none" stroke="#a6a6a6" stroke-width="1.4"/>
<rect x="99.69" y="540.05" width="8" height="8" fill="none" stroke="#a6a6a6" stroke-width="1.4"/>
<rect x="138.47" y="511.66" width="8" height="8" fill="none" stroke="#a6a6a6" stroke-width="1.4"/>
<rect x="172.07" y="530.11" width="8" height="8" fill="none" stroke="#a6a6a6" stroke-width="1.4"/>
<rect x="208.26" y="491.93" width="8" height="8" fill="none" stroke="#a6a6a6" stroke-width="1.4"/>
<polyline points="67.5,521.34 85.59,548.31 103.69,527.01 176.07,531.84 212.26,528.43 284.64,535.96" fill="none" stroke="#747474" stroke-width="0.9"/>
<circle cx="67.5" cy="521.34" r="4.0" fill="none" stroke="#a6a6a6" stroke-width="1.4"/>
<circle cx="85.59" cy="548.31" r="4.0" fill="none" stroke="#a6a6a6" stroke-width="1.4"/>
<circle cx="103.69" cy="527.01" r="4.0" fill="none" stroke="#a6a6a6" stroke-width="1.4"/>
<circle cx="176.07" cy="531.84" r="4.0" fill="none" stroke="#a6a6a6" stroke-width="1.4"/>
<circle cx="212.26" cy="528.43" r="4.0" fill="none" stroke="#a6a6a6" stroke-width="1.4"/>
<circle cx="284.64" cy="535.96" r="4.0" fill="none" stroke="#a6a6a6" stroke-width="1.4"/>
<polyline points="67.5,416.73 70.08,535.53 80.42,479.04 85.59,519.92 103.69,475.35 142.47,509.84 176.07,460.3 284.64,469.96" fill="none" stroke="#747474" stroke-width="0.9"/>
<path d="M67.5 412.11L71.9 420.25L63.1 420.25Z" fill="none" stroke="#a6a6a6" stroke-width="1.4"/>
<path d="M70.08 530.91L74.48 539.05L65.68 539.05Z" fill="none" stroke="#a6a6a6" stroke-width="1.4"/>
<path d="M80.42 474.42L84.83 482.56L76.02 482.56Z" fill="none" stroke="#a6a6a6" stroke-width="1.4"/>
<path d="M85.59 515.3L90 523.44L81.19 523.44Z" fill="none" stroke="#a6a6a6" stroke-width="1.4"/>
<path d="M103.69 470.73L108.09 478.87L99.29 478.87Z" fill="none" stroke="#a6a6a6" stroke-width="1.4"/>
<path d="M142.47 505.22L146.87 513.36L138.06 513.36Z" fill="none" stroke="#a6a6a6" stroke-width="1.4"/>
<path d="M176.07 455.68L180.47 463.82L171.67 463.82Z" fill="none" stroke="#a6a6a6" stroke-width="1.4"/>
<path d="M284.64 465.34L289.04 473.48L280.24 473.48Z" fill="none" stroke="#a6a6a6" stroke-width="1.4"/>
<polyline points="67.5,498.63 80.42,548.31 103.69,441 142.47,519.92 284.64,501.47" fill="none" stroke="#747474" stroke-width="0.9"/>
<rect x="63.5" y="494.63" width="8" height="8" fill="none" stroke="#a6a6a6" stroke-width="1.4"/>
<rect x="76.42" y="544.31" width="8" height="8" fill="none" stroke="#a6a6a6" stroke-width="1.4"/>
<rect x="99.69" y="437" width="8" height="8" fill="none" stroke="#a6a6a6" stroke-width="1.4"/>
<rect x="138.47" y="515.92" width="8" height="8" fill="none" stroke="#a6a6a6" stroke-width="1.4"/>
<rect x="280.64" y="497.47" width="8" height="8" fill="none" stroke="#a6a6a6" stroke-width="1.4"/>
<polyline points="67.5,483.01 103.69,531.84 142.47,541.35 212.26,505.58" fill="none" stroke="#747474" stroke-width="0.9"/>
<circle cx="67.5" cy="483.01" r="4.0" fill="none" stroke="#a6a6a6" stroke-width="1.4"/>
<circle cx="103.69" cy="531.84" r="4.0" fill="none" stroke="#a6a6a6" stroke-width="1.4"/>
<circle cx="142.47" cy="541.35" r="4.0" fill="none" stroke="#a6a6a6" stroke-width="1.4"/>
<circle cx="212.26" cy="505.58" r="4.0" fill="none" stroke="#a6a6a6" stroke-width="1.4"/>
<polyline points="76.55,548.31 80.42,545.47 142.47,434.75 176.07,454.77 212.26,446.54 284.64,449.8" fill="none" stroke="#747474" stroke-width="0.9"/>
<rect x="72.55" y="544.31" width="8" height="8" fill="none" stroke="#a6a6a6" stroke-width="1.4"/>
<rect x="76.42" y="541.47" width="8" height="8" fill="none" stroke="#a6a6a6" stroke-width="1.4"/>
<rect x="138.47" y="430.75" width="8" height="8" fill="none" stroke="#a6a6a6" stroke-width="1.4"/>
<rect x="172.07" y="450.77" width="8" height="8" fill="none" stroke="#a6a6a6" stroke-width="1.4"/>
<rect x="208.26" y="442.54" width="8" height="8" fill="none" stroke="#a6a6a6" stroke-width="1.4"/>
<rect x="280.64" y="445.8" width="8" height="8" fill="none" stroke="#a6a6a6" stroke-width="1.4"/>
<polyline points="67.5,452.07 76.55,553.98 85.59,482.02 103.69,412.04 142.47,441 176.07,509.98 212.26,470.24 284.64,511.4" fill="none" stroke="#747474" stroke-width="0.9"/>
<circle cx="67.5" cy="452.07" r="4.0" fill="none" stroke="#a6a6a6" stroke-width="1.4"/>
<circle cx="76.55" cy="553.98" r="4.0" fill="none" stroke="#a6a6a6" stroke-width="1.4"/>
<circle cx="85.59" cy="482.02" r="4.0" fill="none" stroke="#a6a6a6" stroke-width="1.4"/>
<circle cx="103.69" cy="412.04" r="4.0" fill="none" stroke="#a6a6a6" stroke-width="1.4"/>
<circle cx="142.47" cy="441" r="4.0" fill="none" stroke="#a6a6a6" stroke-width="1.4"/>
<circle cx="176.07" cy="509.98" r="4.0" fill="none" stroke="#a6a6a6" stroke-width="1.4"/>
<circle cx="212.26" cy="470.24" r="4.0" fill="none" stroke="#a6a6a6" stroke-width="1.4"/>
<circle cx="284.64" cy="511.4" r="4.0" fill="none" stroke="#a6a6a6" stroke-width="1.4"/>
<polyline points="67.5,427.37 76.55,553.98 85.59,484.43 103.69,520.77 176.07,500.05 212.26,474.07 284.64,507.14" fill="none" stroke="#747474" stroke-width="0.9"/>
<path d="M67.5 422.75L71.9 430.89L63.1 430.89Z" fill="none" stroke="#a6a6a6" stroke-width="1.4"/>
<path d="M76.55 549.36L80.95 557.5L72.15 557.5Z" fill="none" stroke="#a6a6a6" stroke-width="1.4"/>
<path d="M85.59 479.81L90 487.95L81.19 487.95Z" fill="none" stroke="#a6a6a6" stroke-width="1.4"/>
<path d="M103.69 516.15L108.09 524.29L99.29 524.29Z" fill="none" stroke="#a6a6a6" stroke-width="1.4"/>
<path d="M176.07 495.43L180.47 503.57L171.67 503.57Z" fill="none" stroke="#a6a6a6" stroke-width="1.4"/>
<path d="M212.26 469.45L216.66 477.59L207.86 477.59Z" fill="none" stroke="#a6a6a6" stroke-width="1.4"/>
<path d="M284.64 502.52L289.04 510.66L280.24 510.66Z" fill="none" stroke="#a6a6a6" stroke-width="1.4"/>
<polyline points="67.5,507.14 70.08,507.14 80.42,555.4 103.69,505.72" fill="none" stroke="#747474" stroke-width="0.9"/>
<rect x="63.5" y="503.14" width="8" height="8" fill="none" stroke="#a6a6a6" stroke-width="1.4"/>
<rect x="66.08" y="503.14" width="8" height="8" fill="none" stroke="#a6a6a6" stroke-width="1.4"/>
<rect x="76.42" y="551.4" width="8" height="8" fill="none" stroke="#a6a6a6" stroke-width="1.4"/>
<rect x="99.69" y="501.72" width="8" height="8" fill="none" stroke="#a6a6a6" stroke-width="1.4"/>
<line x1="73" y1="533.4" x2="327" y2="533.4" stroke="#111" stroke-width="1" stroke-dasharray="2.2 1.3"/>
<line x1="73" y1="549" x2="327" y2="549" stroke="#111" stroke-width="1" stroke-dasharray="2.2 1.3"/>
<polyline points="67.5,468.54 70.08,518.07 76.55,544.05 80.42,535.96 85.59,522.76 103.69,498.2 142.47,495.93 176.07,495.93 212.26,480.88 284.64,493.8" fill="none" stroke="#5356a3" stroke-width="2.5" stroke-linejoin="round"/>
<path d="M67.5 461.84L73.7 468.54L67.5 475.24L61.3 468.54Z" fill="#5356a3"/>
<path d="M70.08 511.37L76.28 518.07L70.08 524.77L63.88 518.07Z" fill="#5356a3"/>
<path d="M76.55 537.35L82.75 544.05L76.55 550.75L70.35 544.05Z" fill="#5356a3"/>
<path d="M80.42 529.26L86.62 535.96L80.42 542.66L74.22 535.96Z" fill="#5356a3"/>
<path d="M85.59 516.06L91.8 522.76L85.59 529.46L79.39 522.76Z" fill="#5356a3"/>
<path d="M103.69 491.5L109.89 498.2L103.69 504.9L97.49 498.2Z" fill="#5356a3"/>
<path d="M142.47 489.23L148.66 495.93L142.47 502.63L136.27 495.93Z" fill="#5356a3"/>
<path d="M176.07 489.23L182.27 495.93L176.07 502.63L169.87 495.93Z" fill="#5356a3"/>
<path d="M212.26 474.18L218.46 480.88L212.26 487.58L206.06 480.88Z" fill="#5356a3"/>
<path d="M284.64 487.1L290.84 493.8L284.64 500.5L278.44 493.8Z" fill="#5356a3"/>
<text transform="translate(10.9,448.25) rotate(-90)" font-size="12.3" text-anchor="middle" textLength="120.3" lengthAdjust="spacingAndGlyphs" fill="#222" stroke="#222" stroke-width="0.08">Leucocytes (cells/µl)</text>
<text x="349" y="330.5" font-size="17" font-weight="bold" fill="#000" stroke="#000" stroke-width="0.8">d</text>
<line x1="416.5" y1="335.5" x2="416.5" y2="562.5" stroke="#5e5e5e" stroke-width="1"/>
<line x1="410.9" y1="335.5" x2="416.5" y2="335.5" stroke="#5e5e5e" stroke-width="1"/>
<text x="404.8" y="338.7" font-size="10.5" text-anchor="end" textLength="35.4" lengthAdjust="spacingAndGlyphs" fill="#222" font-weight="normal" stroke="#222" stroke-width="0.05" >16,000</text>
<line x1="410.9" y1="391.5" x2="416.5" y2="391.5" stroke="#5e5e5e" stroke-width="1"/>
<text x="404.8" y="395.6" font-size="10.5" text-anchor="end" textLength="35.2" lengthAdjust="spacingAndGlyphs" fill="#222" font-weight="normal" stroke="#222" stroke-width="0.05" >12,000</text>
<line x1="410.9" y1="448.5" x2="416.5" y2="448.5" stroke="#5e5e5e" stroke-width="1"/>
<text x="404.8" y="452.4" font-size="10.5" text-anchor="end" textLength="30.3" lengthAdjust="spacingAndGlyphs" fill="#222" font-weight="normal" stroke="#222" stroke-width="0.05" >8,000</text>
<line x1="410.9" y1="505.5" x2="416.5" y2="505.5" stroke="#5e5e5e" stroke-width="1"/>
<text x="404.8" y="509.4" font-size="10.5" text-anchor="end" textLength="31.3" lengthAdjust="spacingAndGlyphs" fill="#222" font-weight="normal" stroke="#222" stroke-width="0.05" >4,000</text>
<line x1="410.9" y1="562.5" x2="416.5" y2="562.5" stroke="#5e5e5e" stroke-width="1"/>
<text x="404.8" y="566.3" font-size="10.5" text-anchor="end" textLength="7.4" lengthAdjust="spacingAndGlyphs" fill="#222" font-weight="normal" stroke="#222" stroke-width="0.05" >0</text>
<line x1="411.5" y1="562.5" x2="675.5" y2="562.5" stroke="#5e5e5e" stroke-width="1"/>
<line x1="416.5" y1="562.5" x2="416.5" y2="568" stroke="#5e5e5e" stroke-width="1"/>
<text x="416.5" y="583.1" font-size="10.5" text-anchor="middle" textLength="7.4" lengthAdjust="spacingAndGlyphs" fill="#222" font-weight="normal" stroke="#222" stroke-width="0.05" >0</text>
<line x1="481.5" y1="562.5" x2="481.5" y2="568" stroke="#5e5e5e" stroke-width="1"/>
<text x="481.5" y="583.1" font-size="10.5" text-anchor="middle" textLength="14" lengthAdjust="spacingAndGlyphs" fill="#222" font-weight="normal" stroke="#222" stroke-width="0.05" >50</text>
<line x1="545.5" y1="562.5" x2="545.5" y2="568" stroke="#5e5e5e" stroke-width="1"/>
<text x="545.5" y="583.1" font-size="10.5" text-anchor="middle" textLength="19.1" lengthAdjust="spacingAndGlyphs" fill="#222" font-weight="normal" stroke="#222" stroke-width="0.05" >100</text>
<line x1="610.5" y1="562.5" x2="610.5" y2="568" stroke="#5e5e5e" stroke-width="1"/>
<text x="610.5" y="583.1" font-size="10.5" text-anchor="middle" textLength="19.1" lengthAdjust="spacingAndGlyphs" fill="#222" font-weight="normal" stroke="#222" stroke-width="0.05" >150</text>
<line x1="675.5" y1="562.5" x2="675.5" y2="568" stroke="#5e5e5e" stroke-width="1"/>
<text x="675.5" y="583.1" font-size="10.5" text-anchor="middle" textLength="20.4" lengthAdjust="spacingAndGlyphs" fill="#222" font-weight="normal" stroke="#222" stroke-width="0.05" >200</text>
<text x="545.45" y="603.9" font-size="12.3" text-anchor="middle" textLength="170" lengthAdjust="spacingAndGlyphs" fill="#222" stroke="#222" stroke-width="0.08">Days after CAR-T cell therapy</text>
<polyline points="416.5,424.63 419.08,515.76 425.55,552.66 429.43,549.83 434.6,522.86 452.69,409.45 491.47,376.37 525.07,428.75 561.26,449.47 633.64,451.18" fill="none" stroke="#747474" stroke-width="0.9"/>
<circle cx="416.5" cy="424.63" r="4.0" fill="none" stroke="#a6a6a6" stroke-width="1.4"/>
<circle cx="419.08" cy="515.76" r="4.0" fill="none" stroke="#a6a6a6" stroke-width="1.4"/>
<circle cx="425.55" cy="552.66" r="4.0" fill="none" stroke="#a6a6a6" stroke-width="1.4"/>
<circle cx="429.43" cy="549.83" r="4.0" fill="none" stroke="#a6a6a6" stroke-width="1.4"/>
<circle cx="434.6" cy="522.86" r="4.0" fill="none" stroke="#a6a6a6" stroke-width="1.4"/>
<circle cx="452.69" cy="409.45" r="4.0" fill="none" stroke="#a6a6a6" stroke-width="1.4"/>
<circle cx="491.47" cy="376.37" r="4.0" fill="none" stroke="#a6a6a6" stroke-width="1.4"/>
<circle cx="525.07" cy="428.75" r="4.0" fill="none" stroke="#a6a6a6" stroke-width="1.4"/>
<circle cx="561.26" cy="449.47" r="4.0" fill="none" stroke="#a6a6a6" stroke-width="1.4"/>
<circle cx="633.64" cy="451.18" r="4.0" fill="none" stroke="#a6a6a6" stroke-width="1.4"/>
<polyline points="416.5,514.34 419.08,539.89 425.55,558.34 429.43,558.34 434.6,548.41 452.69,542.73 491.47,556.5 525.07,370.13 561.26,485.95 633.64,545.57" fill="none" stroke="#747474" stroke-width="0.9"/>
<rect x="412.5" y="510.34" width="8" height="8" fill="none" stroke="#a6a6a6" stroke-width="1.4"/>
<rect x="415.08" y="535.89" width="8" height="8" fill="none" stroke="#a6a6a6" stroke-width="1.4"/>
<rect x="421.55" y="554.34" width="8" height="8" fill="none" stroke="#a6a6a6" stroke-width="1.4"/>
<rect x="425.43" y="554.34" width="8" height="8" fill="none" stroke="#a6a6a6" stroke-width="1.4"/>
<rect x="430.6" y="544.41" width="8" height="8" fill="none" stroke="#a6a6a6" stroke-width="1.4"/>
<rect x="448.69" y="538.73" width="8" height="8" fill="none" stroke="#a6a6a6" stroke-width="1.4"/>
<rect x="487.47" y="552.5" width="8" height="8" fill="none" stroke="#a6a6a6" stroke-width="1.4"/>
<rect x="521.07" y="366.13" width="8" height="8" fill="none" stroke="#a6a6a6" stroke-width="1.4"/>
<rect x="557.26" y="481.95" width="8" height="8" fill="none" stroke="#a6a6a6" stroke-width="1.4"/>
<rect x="629.64" y="541.57" width="8" height="8" fill="none" stroke="#a6a6a6" stroke-width="1.4"/>
<polyline points="416.5,434.14 419.08,522.86 425.55,554.08 429.43,551.24 434.6,512.64 452.69,443.51 491.47,426.76 525.07,424.07 561.26,431.45 633.64,471.19" fill="none" stroke="#747474" stroke-width="0.9"/>
<circle cx="416.5" cy="434.14" r="4.0" fill="none" stroke="#a6a6a6" stroke-width="1.4"/>
<circle cx="419.08" cy="522.86" r="4.0" fill="none" stroke="#a6a6a6" stroke-width="1.4"/>
<circle cx="425.55" cy="554.08" r="4.0" fill="none" stroke="#a6a6a6" stroke-width="1.4"/>
<circle cx="429.43" cy="551.24" r="4.0" fill="none" stroke="#a6a6a6" stroke-width="1.4"/>
<circle cx="434.6" cy="512.64" r="4.0" fill="none" stroke="#a6a6a6" stroke-width="1.4"/>
<circle cx="452.69" cy="443.51" r="4.0" fill="none" stroke="#a6a6a6" stroke-width="1.4"/>
<circle cx="491.47" cy="426.76" r="4.0" fill="none" stroke="#a6a6a6" stroke-width="1.4"/>
<circle cx="525.07" cy="424.07" r="4.0" fill="none" stroke="#a6a6a6" stroke-width="1.4"/>
<circle cx="561.26" cy="431.45" r="4.0" fill="none" stroke="#a6a6a6" stroke-width="1.4"/>
<circle cx="633.64" cy="471.19" r="4.0" fill="none" stroke="#a6a6a6" stroke-width="1.4"/>
<polyline points="416.5,412.14 419.08,471.76 425.55,515.76 429.43,545.57 434.6,502.99 452.69,439.4 491.47,436.84 525.07,461.68 561.26,457.28 633.64,453.31" fill="none" stroke="#747474" stroke-width="0.9"/>
<path d="M416.5 407.52L420.9 415.66L412.1 415.66Z" fill="none" stroke="#a6a6a6" stroke-width="1.4"/>
<path d="M419.08 467.14L423.48 475.28L414.69 475.28Z" fill="none" stroke="#a6a6a6" stroke-width="1.4"/>
<path d="M425.55 511.14L429.95 519.28L421.15 519.28Z" fill="none" stroke="#a6a6a6" stroke-width="1.4"/>
<path d="M429.43 540.95L433.82 549.09L425.03 549.09Z" fill="none" stroke="#a6a6a6" stroke-width="1.4"/>
<path d="M434.6 498.37L439 506.51L430.2 506.51Z" fill="none" stroke="#a6a6a6" stroke-width="1.4"/>
<path d="M452.69 434.78L457.09 442.92L448.29 442.92Z" fill="none" stroke="#a6a6a6" stroke-width="1.4"/>
<path d="M491.47 432.22L495.87 440.36L487.07 440.36Z" fill="none" stroke="#a6a6a6" stroke-width="1.4"/>
<path d="M525.07 457.06L529.47 465.2L520.67 465.2Z" fill="none" stroke="#a6a6a6" stroke-width="1.4"/>
<path d="M561.26 452.66L565.66 460.8L556.86 460.8Z" fill="none" stroke="#a6a6a6" stroke-width="1.4"/>
<path d="M633.64 448.69L638.04 456.83L629.24 456.83Z" fill="none" stroke="#a6a6a6" stroke-width="1.4"/>
<polyline points="416.5,454.3 419.08,554.08 434.6,551.24 452.69,520.02 491.47,464.38 525.07,485.1 561.26,523.42 633.64,439.82" fill="none" stroke="#747474" stroke-width="0.9"/>
<rect x="412.5" y="450.3" width="8" height="8" fill="none" stroke="#a6a6a6" stroke-width="1.4"/>
<rect x="415.08" y="550.08" width="8" height="8" fill="none" stroke="#a6a6a6" stroke-width="1.4"/>
<rect x="430.6" y="547.24" width="8" height="8" fill="none" stroke="#a6a6a6" stroke-width="1.4"/>
<rect x="448.69" y="516.02" width="8" height="8" fill="none" stroke="#a6a6a6" stroke-width="1.4"/>
<rect x="487.47" y="460.38" width="8" height="8" fill="none" stroke="#a6a6a6" stroke-width="1.4"/>
<rect x="521.07" y="481.1" width="8" height="8" fill="none" stroke="#a6a6a6" stroke-width="1.4"/>
<rect x="557.26" y="519.42" width="8" height="8" fill="none" stroke="#a6a6a6" stroke-width="1.4"/>
<rect x="629.64" y="435.82" width="8" height="8" fill="none" stroke="#a6a6a6" stroke-width="1.4"/>
<polyline points="416.5,515.76 419.08,549.83 429.43,559.05 452.69,491.63 491.47,488.79 561.26,520.02 633.64,477.44" fill="none" stroke="#747474" stroke-width="0.9"/>
<circle cx="416.5" cy="515.76" r="4.0" fill="none" stroke="#a6a6a6" stroke-width="1.4"/>
<circle cx="419.08" cy="549.83" r="4.0" fill="none" stroke="#a6a6a6" stroke-width="1.4"/>
<circle cx="429.43" cy="559.05" r="4.0" fill="none" stroke="#a6a6a6" stroke-width="1.4"/>
<circle cx="452.69" cy="491.63" r="4.0" fill="none" stroke="#a6a6a6" stroke-width="1.4"/>
<circle cx="491.47" cy="488.79" r="4.0" fill="none" stroke="#a6a6a6" stroke-width="1.4"/>
<circle cx="561.26" cy="520.02" r="4.0" fill="none" stroke="#a6a6a6" stroke-width="1.4"/>
<circle cx="633.64" cy="477.44" r="4.0" fill="none" stroke="#a6a6a6" stroke-width="1.4"/>
<polyline points="416.5,518.6 425.55,556.92 452.69,493.33 491.47,531.37 525.07,522.86 561.26,461.4" fill="none" stroke="#747474" stroke-width="0.9"/>
<path d="M416.5 513.98L420.9 522.12L412.1 522.12Z" fill="none" stroke="#a6a6a6" stroke-width="1.4"/>
<path d="M425.55 552.3L429.95 560.44L421.15 560.44Z" fill="none" stroke="#a6a6a6" stroke-width="1.4"/>
<path d="M452.69 488.71L457.09 496.85L448.29 496.85Z" fill="none" stroke="#a6a6a6" stroke-width="1.4"/>
<path d="M491.47 526.75L495.87 534.89L487.07 534.89Z" fill="none" stroke="#a6a6a6" stroke-width="1.4"/>
<path d="M525.07 518.24L529.47 526.38L520.67 526.38Z" fill="none" stroke="#a6a6a6" stroke-width="1.4"/>
<path d="M561.26 456.78L565.66 464.92L556.86 464.92Z" fill="none" stroke="#a6a6a6" stroke-width="1.4"/>
<polyline points="416.5,527.12 419.08,518.6 425.55,555.5 434.6,527.12 452.69,548.41 491.47,505.82 525.07,549.83 561.26,528.53 633.64,534.21" fill="none" stroke="#747474" stroke-width="0.9"/>
<rect x="412.5" y="523.12" width="8" height="8" fill="none" stroke="#a6a6a6" stroke-width="1.4"/>
<rect x="415.08" y="514.6" width="8" height="8" fill="none" stroke="#a6a6a6" stroke-width="1.4"/>
<rect x="421.55" y="551.5" width="8" height="8" fill="none" stroke="#a6a6a6" stroke-width="1.4"/>
<rect x="430.6" y="523.12" width="8" height="8" fill="none" stroke="#a6a6a6" stroke-width="1.4"/>
<rect x="448.69" y="544.41" width="8" height="8" fill="none" stroke="#a6a6a6" stroke-width="1.4"/>
<rect x="487.47" y="501.82" width="8" height="8" fill="none" stroke="#a6a6a6" stroke-width="1.4"/>
<rect x="521.07" y="545.83" width="8" height="8" fill="none" stroke="#a6a6a6" stroke-width="1.4"/>
<rect x="557.26" y="524.53" width="8" height="8" fill="none" stroke="#a6a6a6" stroke-width="1.4"/>
<rect x="629.64" y="530.21" width="8" height="8" fill="none" stroke="#a6a6a6" stroke-width="1.4"/>
<polyline points="416.5,487.37 452.69,442.66 491.47,484.53 525.07,545.57 561.26,511.5 633.64,520.02" fill="none" stroke="#747474" stroke-width="0.9"/>
<circle cx="416.5" cy="487.37" r="4.0" fill="none" stroke="#a6a6a6" stroke-width="1.4"/>
<circle cx="452.69" cy="442.66" r="4.0" fill="none" stroke="#a6a6a6" stroke-width="1.4"/>
<circle cx="491.47" cy="484.53" r="4.0" fill="none" stroke="#a6a6a6" stroke-width="1.4"/>
<circle cx="525.07" cy="545.57" r="4.0" fill="none" stroke="#a6a6a6" stroke-width="1.4"/>
<circle cx="561.26" cy="511.5" r="4.0" fill="none" stroke="#a6a6a6" stroke-width="1.4"/>
<circle cx="633.64" cy="520.02" r="4.0" fill="none" stroke="#a6a6a6" stroke-width="1.4"/>
<polyline points="419.08,545.57 425.55,561.18 434.6,534.21 452.69,541.31 491.47,520.02 561.26,534.5 633.64,528.53" fill="none" stroke="#747474" stroke-width="0.9"/>
<rect x="415.08" y="541.57" width="8" height="8" fill="none" stroke="#a6a6a6" stroke-width="1.4"/>
<rect x="421.55" y="557.18" width="8" height="8" fill="none" stroke="#a6a6a6" stroke-width="1.4"/>
<rect x="430.6" y="530.21" width="8" height="8" fill="none" stroke="#a6a6a6" stroke-width="1.4"/>
<rect x="448.69" y="537.31" width="8" height="8" fill="none" stroke="#a6a6a6" stroke-width="1.4"/>
<rect x="487.47" y="516.02" width="8" height="8" fill="none" stroke="#a6a6a6" stroke-width="1.4"/>
<rect x="557.26" y="530.5" width="8" height="8" fill="none" stroke="#a6a6a6" stroke-width="1.4"/>
<rect x="629.64" y="524.53" width="8" height="8" fill="none" stroke="#a6a6a6" stroke-width="1.4"/>
<polyline points="416.5,468.92 425.55,559.76 452.69,523.57 491.47,549.83 525.07,477.44 561.26,469.06 633.64,542.73" fill="none" stroke="#747474" stroke-width="0.9"/>
<circle cx="416.5" cy="468.92" r="4.0" fill="none" stroke="#a6a6a6" stroke-width="1.4"/>
<circle cx="425.55" cy="559.76" r="4.0" fill="none" stroke="#a6a6a6" stroke-width="1.4"/>
<circle cx="452.69" cy="523.57" r="4.0" fill="none" stroke="#a6a6a6" stroke-width="1.4"/>
<circle cx="491.47" cy="549.83" r="4.0" fill="none" stroke="#a6a6a6" stroke-width="1.4"/>
<circle cx="525.07" cy="477.44" r="4.0" fill="none" stroke="#a6a6a6" stroke-width="1.4"/>
<circle cx="561.26" cy="469.06" r="4.0" fill="none" stroke="#a6a6a6" stroke-width="1.4"/>
<circle cx="633.64" cy="542.73" r="4.0" fill="none" stroke="#a6a6a6" stroke-width="1.4"/>
<polyline points="416.5,510.08 425.55,548.41 429.43,552.66 434.6,541.31 452.69,440.53 491.47,528.53 525.07,512.92 561.26,505.82 633.64,488.93" fill="none" stroke="#747474" stroke-width="0.9"/>
<path d="M416.5 505.46L420.9 513.6L412.1 513.6Z" fill="none" stroke="#a6a6a6" stroke-width="1.4"/>
<path d="M425.55 543.79L429.95 551.93L421.15 551.93Z" fill="none" stroke="#a6a6a6" stroke-width="1.4"/>
<path d="M429.43 548.04L433.82 556.18L425.03 556.18Z" fill="none" stroke="#a6a6a6" stroke-width="1.4"/>
<path d="M434.6 536.69L439 544.83L430.2 544.83Z" fill="none" stroke="#a6a6a6" stroke-width="1.4"/>
<path d="M452.69 435.91L457.09 444.05L448.29 444.05Z" fill="none" stroke="#a6a6a6" stroke-width="1.4"/>
<path d="M491.47 523.91L495.87 532.05L487.07 532.05Z" fill="none" stroke="#a6a6a6" stroke-width="1.4"/>
<path d="M525.07 508.3L529.47 516.44L520.67 516.44Z" fill="none" stroke="#a6a6a6" stroke-width="1.4"/>
<path d="M561.26 501.2L565.66 509.34L556.86 509.34Z" fill="none" stroke="#a6a6a6" stroke-width="1.4"/>
<path d="M633.64 484.31L638.04 492.45L629.24 492.45Z" fill="none" stroke="#a6a6a6" stroke-width="1.4"/>
<polyline points="416.5,501.57 425.55,560.47 434.6,558.34 452.69,487.8 525.07,539.89 633.64,550.96" fill="none" stroke="#747474" stroke-width="0.9"/>
<rect x="412.5" y="497.57" width="8" height="8" fill="none" stroke="#a6a6a6" stroke-width="1.4"/>
<rect x="421.55" y="556.47" width="8" height="8" fill="none" stroke="#a6a6a6" stroke-width="1.4"/>
<rect x="430.6" y="554.34" width="8" height="8" fill="none" stroke="#a6a6a6" stroke-width="1.4"/>
<rect x="448.69" y="483.8" width="8" height="8" fill="none" stroke="#a6a6a6" stroke-width="1.4"/>
<rect x="521.07" y="535.89" width="8" height="8" fill="none" stroke="#a6a6a6" stroke-width="1.4"/>
<rect x="629.64" y="546.96" width="8" height="8" fill="none" stroke="#a6a6a6" stroke-width="1.4"/>
<polyline points="416.5,465.8 419.08,528.53 452.69,507.24 491.47,537.05 525.07,537.05" fill="none" stroke="#747474" stroke-width="0.9"/>
<rect x="412.5" y="461.8" width="8" height="8" fill="none" stroke="#a6a6a6" stroke-width="1.4"/>
<rect x="415.08" y="524.53" width="8" height="8" fill="none" stroke="#a6a6a6" stroke-width="1.4"/>
<rect x="448.69" y="503.24" width="8" height="8" fill="none" stroke="#a6a6a6" stroke-width="1.4"/>
<rect x="487.47" y="533.05" width="8" height="8" fill="none" stroke="#a6a6a6" stroke-width="1.4"/>
<rect x="521.07" y="533.05" width="8" height="8" fill="none" stroke="#a6a6a6" stroke-width="1.4"/>
<polyline points="416.5,474.6 452.69,537.05 491.47,554.08 561.26,514.34 633.64,494.47" fill="none" stroke="#747474" stroke-width="0.9"/>
<circle cx="416.5" cy="474.6" r="4.0" fill="none" stroke="#a6a6a6" stroke-width="1.4"/>
<circle cx="452.69" cy="537.05" r="4.0" fill="none" stroke="#a6a6a6" stroke-width="1.4"/>
<circle cx="491.47" cy="554.08" r="4.0" fill="none" stroke="#a6a6a6" stroke-width="1.4"/>
<circle cx="561.26" cy="514.34" r="4.0" fill="none" stroke="#a6a6a6" stroke-width="1.4"/>
<circle cx="633.64" cy="494.47" r="4.0" fill="none" stroke="#a6a6a6" stroke-width="1.4"/>
<polyline points="416.5,483.11 434.6,554.08 452.69,553.8 491.47,495.89 525.07,534.21 561.26,509.66 633.64,539.89" fill="none" stroke="#747474" stroke-width="0.9"/>
<path d="M416.5 478.49L420.9 486.63L412.1 486.63Z" fill="none" stroke="#a6a6a6" stroke-width="1.4"/>
<path d="M434.6 549.46L439 557.6L430.2 557.6Z" fill="none" stroke="#a6a6a6" stroke-width="1.4"/>
<path d="M452.69 549.18L457.09 557.32L448.29 557.32Z" fill="none" stroke="#a6a6a6" stroke-width="1.4"/>
<path d="M491.47 491.27L495.87 499.41L487.07 499.41Z" fill="none" stroke="#a6a6a6" stroke-width="1.4"/>
<path d="M525.07 529.59L529.47 537.73L520.67 537.73Z" fill="none" stroke="#a6a6a6" stroke-width="1.4"/>
<path d="M561.26 505.04L565.66 513.18L556.86 513.18Z" fill="none" stroke="#a6a6a6" stroke-width="1.4"/>
<path d="M633.64 535.27L638.04 543.41L629.24 543.41Z" fill="none" stroke="#a6a6a6" stroke-width="1.4"/>
<polyline points="416.5,446.64 419.08,534.21 429.43,555.5 452.69,466.79 491.47,457.56 525.07,502.99 561.26,463.24 633.64,524.28" fill="none" stroke="#747474" stroke-width="0.9"/>
<rect x="412.5" y="442.64" width="8" height="8" fill="none" stroke="#a6a6a6" stroke-width="1.4"/>
<rect x="415.08" y="530.21" width="8" height="8" fill="none" stroke="#a6a6a6" stroke-width="1.4"/>
<rect x="425.43" y="551.5" width="8" height="8" fill="none" stroke="#a6a6a6" stroke-width="1.4"/>
<rect x="448.69" y="462.79" width="8" height="8" fill="none" stroke="#a6a6a6" stroke-width="1.4"/>
<rect x="487.47" y="453.56" width="8" height="8" fill="none" stroke="#a6a6a6" stroke-width="1.4"/>
<rect x="521.07" y="498.99" width="8" height="8" fill="none" stroke="#a6a6a6" stroke-width="1.4"/>
<rect x="557.26" y="459.24" width="8" height="8" fill="none" stroke="#a6a6a6" stroke-width="1.4"/>
<rect x="629.64" y="520.28" width="8" height="8" fill="none" stroke="#a6a6a6" stroke-width="1.4"/>
<polyline points="416.5,490.49 429.43,560.47 452.69,531.37 491.47,525.13 633.64,529.95" fill="none" stroke="#747474" stroke-width="0.9"/>
<circle cx="416.5" cy="490.49" r="4.0" fill="none" stroke="#a6a6a6" stroke-width="1.4"/>
<circle cx="429.43" cy="560.47" r="4.0" fill="none" stroke="#a6a6a6" stroke-width="1.4"/>
<circle cx="452.69" cy="531.37" r="4.0" fill="none" stroke="#a6a6a6" stroke-width="1.4"/>
<circle cx="491.47" cy="525.13" r="4.0" fill="none" stroke="#a6a6a6" stroke-width="1.4"/>
<circle cx="633.64" cy="529.95" r="4.0" fill="none" stroke="#a6a6a6" stroke-width="1.4"/>
<polyline points="419.08,541.31 429.43,556.92 452.69,458.56 491.47,542.73 525.07,470.06 633.64,515.33" fill="none" stroke="#747474" stroke-width="0.9"/>
<rect x="415.08" y="537.31" width="8" height="8" fill="none" stroke="#a6a6a6" stroke-width="1.4"/>
<rect x="425.43" y="552.92" width="8" height="8" fill="none" stroke="#a6a6a6" stroke-width="1.4"/>
<rect x="448.69" y="454.56" width="8" height="8" fill="none" stroke="#a6a6a6" stroke-width="1.4"/>
<rect x="487.47" y="538.73" width="8" height="8" fill="none" stroke="#a6a6a6" stroke-width="1.4"/>
<rect x="521.07" y="466.06" width="8" height="8" fill="none" stroke="#a6a6a6" stroke-width="1.4"/>
<rect x="629.64" y="511.33" width="8" height="8" fill="none" stroke="#a6a6a6" stroke-width="1.4"/>
<polyline points="416.5,522.86 434.6,545.57 491.47,475.31 525.07,481.69 561.26,531.37 633.64,498.73" fill="none" stroke="#747474" stroke-width="0.9"/>
<circle cx="416.5" cy="522.86" r="4.0" fill="none" stroke="#a6a6a6" stroke-width="1.4"/>
<circle cx="434.6" cy="545.57" r="4.0" fill="none" stroke="#a6a6a6" stroke-width="1.4"/>
<circle cx="491.47" cy="475.31" r="4.0" fill="none" stroke="#a6a6a6" stroke-width="1.4"/>
<circle cx="525.07" cy="481.69" r="4.0" fill="none" stroke="#a6a6a6" stroke-width="1.4"/>
<circle cx="561.26" cy="531.37" r="4.0" fill="none" stroke="#a6a6a6" stroke-width="1.4"/>
<circle cx="633.64" cy="498.73" r="4.0" fill="none" stroke="#a6a6a6" stroke-width="1.4"/>
<polyline points="416.5,505.82 425.55,559.05 452.69,441.95 525.07,529.1 633.64,491.63" fill="none" stroke="#747474" stroke-width="0.9"/>
<path d="M416.5 501.2L420.9 509.34L412.1 509.34Z" fill="none" stroke="#a6a6a6" stroke-width="1.4"/>
<path d="M425.55 554.43L429.95 562.57L421.15 562.57Z" fill="none" stroke="#a6a6a6" stroke-width="1.4"/>
<path d="M452.69 437.33L457.09 445.47L448.29 445.47Z" fill="none" stroke="#a6a6a6" stroke-width="1.4"/>
<path d="M525.07 524.48L529.47 532.62L520.67 532.62Z" fill="none" stroke="#a6a6a6" stroke-width="1.4"/>
<path d="M633.64 487.01L638.04 495.15L629.24 495.15Z" fill="none" stroke="#a6a6a6" stroke-width="1.4"/>
<line x1="420" y1="547.7" x2="674" y2="547.7" stroke="#111" stroke-width="1" stroke-dasharray="2.2 1.3"/>
<line x1="420" y1="554.3" x2="674" y2="554.3" stroke="#111" stroke-width="1" stroke-dasharray="2.2 1.3"/>
<polyline points="416.5,497.45 419.08,529.1 428.13,553.8 434.6,539.32 452.69,512.92 491.47,513.35 525.07,518.74 561.26,498.73 633.64,507.67" fill="none" stroke="#9227a3" stroke-width="2.5" stroke-linejoin="round"/>
<path d="M416.5 490.75L422.7 497.45L416.5 504.15L410.3 497.45Z" fill="#9227a3"/>
<path d="M419.08 522.4L425.28 529.1L419.08 535.8L412.88 529.1Z" fill="#9227a3"/>
<path d="M428.13 547.1L434.33 553.8L428.13 560.5L421.93 553.8Z" fill="#9227a3"/>
<path d="M434.6 532.62L440.8 539.32L434.6 546.02L428.4 539.32Z" fill="#9227a3"/>
<path d="M452.69 506.22L458.89 512.92L452.69 519.62L446.49 512.92Z" fill="#9227a3"/>
<path d="M491.47 506.65L497.67 513.35L491.47 520.05L485.27 513.35Z" fill="#9227a3"/>
<path d="M525.07 512.04L531.27 518.74L525.07 525.44L518.87 518.74Z" fill="#9227a3"/>
<path d="M561.26 492.03L567.46 498.73L561.26 505.43L555.06 498.73Z" fill="#9227a3"/>
<path d="M633.64 500.97L639.84 507.67L633.64 514.37L627.44 507.67Z" fill="#9227a3"/>
<text transform="translate(358.8,448.35) rotate(-90)" font-size="12.3" text-anchor="middle" textLength="121.9" lengthAdjust="spacingAndGlyphs" fill="#222" stroke="#222" stroke-width="0.08">Neutrophils (cells/µl)</text>
<text x="0.2" y="632.8" font-size="17" font-weight="bold" fill="#000" stroke="#000" stroke-width="0.8">e</text>
<line x1="67.5" y1="638.5" x2="67.5" y2="865.5" stroke="#5e5e5e" stroke-width="1"/>
<line x1="61.9" y1="638.5" x2="67.5" y2="638.5" stroke="#5e5e5e" stroke-width="1"/>
<text x="55.8" y="642.2" font-size="10.5" text-anchor="end" textLength="30.1" lengthAdjust="spacingAndGlyphs" fill="#222" font-weight="normal" stroke="#222" stroke-width="0.05" >2,000</text>
<line x1="61.9" y1="695.5" x2="67.5" y2="695.5" stroke="#5e5e5e" stroke-width="1"/>
<text x="55.8" y="699.1" font-size="10.5" text-anchor="end" textLength="28.8" lengthAdjust="spacingAndGlyphs" fill="#222" font-weight="normal" stroke="#222" stroke-width="0.05" >1,500</text>
<line x1="61.9" y1="752.5" x2="67.5" y2="752.5" stroke="#5e5e5e" stroke-width="1"/>
<text x="55.8" y="755.9" font-size="10.5" text-anchor="end" textLength="28.8" lengthAdjust="spacingAndGlyphs" fill="#222" font-weight="normal" stroke="#222" stroke-width="0.05" >1,000</text>
<line x1="61.9" y1="809.5" x2="67.5" y2="809.5" stroke="#5e5e5e" stroke-width="1"/>
<text x="55.8" y="812.8" font-size="10.5" text-anchor="end" textLength="20.6" lengthAdjust="spacingAndGlyphs" fill="#222" font-weight="normal" stroke="#222" stroke-width="0.05" >500</text>
<line x1="61.9" y1="865.5" x2="67.5" y2="865.5" stroke="#5e5e5e" stroke-width="1"/>
<text x="55.8" y="869.4" font-size="10.5" text-anchor="end" textLength="7.4" lengthAdjust="spacingAndGlyphs" fill="#222" font-weight="normal" stroke="#222" stroke-width="0.05" >0</text>
<line x1="62.5" y1="865.5" x2="326.5" y2="865.5" stroke="#5e5e5e" stroke-width="1"/>
<line x1="67.5" y1="865.5" x2="67.5" y2="871" stroke="#5e5e5e" stroke-width="1"/>
<text x="67.5" y="886.2" font-size="10.5" text-anchor="middle" textLength="7.4" lengthAdjust="spacingAndGlyphs" fill="#222" font-weight="normal" stroke="#222" stroke-width="0.05" >0</text>
<line x1="132.5" y1="865.5" x2="132.5" y2="871" stroke="#5e5e5e" stroke-width="1"/>
<text x="132.5" y="886.2" font-size="10.5" text-anchor="middle" textLength="14" lengthAdjust="spacingAndGlyphs" fill="#222" font-weight="normal" stroke="#222" stroke-width="0.05" >50</text>
<line x1="196.5" y1="865.5" x2="196.5" y2="871" stroke="#5e5e5e" stroke-width="1"/>
<text x="196.5" y="886.2" font-size="10.5" text-anchor="middle" textLength="19.1" lengthAdjust="spacingAndGlyphs" fill="#222" font-weight="normal" stroke="#222" stroke-width="0.05" >100</text>
<line x1="261.5" y1="865.5" x2="261.5" y2="871" stroke="#5e5e5e" stroke-width="1"/>
<text x="261.5" y="886.2" font-size="10.5" text-anchor="middle" textLength="19.1" lengthAdjust="spacingAndGlyphs" fill="#222" font-weight="normal" stroke="#222" stroke-width="0.05" >150</text>
<line x1="326.5" y1="865.5" x2="326.5" y2="871" stroke="#5e5e5e" stroke-width="1"/>
<text x="326.5" y="886.2" font-size="10.5" text-anchor="middle" textLength="20.4" lengthAdjust="spacingAndGlyphs" fill="#222" font-weight="normal" stroke="#222" stroke-width="0.05" >200</text>
<text x="196.45" y="907" font-size="12.3" text-anchor="middle" textLength="170" lengthAdjust="spacingAndGlyphs" fill="#222" stroke="#222" stroke-width="0.08">Days after CAR-T cell therapy</text>
<polyline points="67.5,723.36 76.55,809.12 80.42,683.2 85.59,772.16 103.69,807.3 142.47,804.58 176.07,822.77 212.26,828.46 284.64,818.23" fill="none" stroke="#747474" stroke-width="0.9"/>
<circle cx="67.5" cy="723.36" r="4.0" fill="none" stroke="#a6a6a6" stroke-width="1.4"/>
<circle cx="76.55" cy="809.12" r="4.0" fill="none" stroke="#a6a6a6" stroke-width="1.4"/>
<circle cx="80.42" cy="683.2" r="4.0" fill="none" stroke="#a6a6a6" stroke-width="1.4"/>
<circle cx="85.59" cy="772.16" r="4.0" fill="none" stroke="#a6a6a6" stroke-width="1.4"/>
<circle cx="103.69" cy="807.3" r="4.0" fill="none" stroke="#a6a6a6" stroke-width="1.4"/>
<circle cx="142.47" cy="804.58" r="4.0" fill="none" stroke="#a6a6a6" stroke-width="1.4"/>
<circle cx="176.07" cy="822.77" r="4.0" fill="none" stroke="#a6a6a6" stroke-width="1.4"/>
<circle cx="212.26" cy="828.46" r="4.0" fill="none" stroke="#a6a6a6" stroke-width="1.4"/>
<circle cx="284.64" cy="818.23" r="4.0" fill="none" stroke="#a6a6a6" stroke-width="1.4"/>
<polyline points="67.5,831.88 76.55,848.94 80.42,837.56 85.59,848.94 103.69,847.8 142.47,843.25 176.07,843.25 212.26,783.19 284.64,785.92" fill="none" stroke="#747474" stroke-width="0.9"/>
<circle cx="67.5" cy="831.88" r="4.0" fill="none" stroke="#a6a6a6" stroke-width="1.4"/>
<circle cx="76.55" cy="848.94" r="4.0" fill="none" stroke="#a6a6a6" stroke-width="1.4"/>
<circle cx="80.42" cy="837.56" r="4.0" fill="none" stroke="#a6a6a6" stroke-width="1.4"/>
<circle cx="85.59" cy="848.94" r="4.0" fill="none" stroke="#a6a6a6" stroke-width="1.4"/>
<circle cx="103.69" cy="847.8" r="4.0" fill="none" stroke="#a6a6a6" stroke-width="1.4"/>
<circle cx="142.47" cy="843.25" r="4.0" fill="none" stroke="#a6a6a6" stroke-width="1.4"/>
<circle cx="176.07" cy="843.25" r="4.0" fill="none" stroke="#a6a6a6" stroke-width="1.4"/>
<circle cx="212.26" cy="783.19" r="4.0" fill="none" stroke="#a6a6a6" stroke-width="1.4"/>
<circle cx="284.64" cy="785.92" r="4.0" fill="none" stroke="#a6a6a6" stroke-width="1.4"/>
<polyline points="67.5,786.38 76.55,797.75 80.42,762.6 85.59,822.77 103.69,818.23 142.47,797.75 176.07,813.67 212.26,831.88 284.64,834.15" fill="none" stroke="#747474" stroke-width="0.9"/>
<path d="M67.5 781.75L71.9 789.89L63.1 789.89Z" fill="none" stroke="#a6a6a6" stroke-width="1.4"/>
<path d="M76.55 793.13L80.95 801.27L72.15 801.27Z" fill="none" stroke="#a6a6a6" stroke-width="1.4"/>
<path d="M80.42 757.98L84.83 766.12L76.02 766.12Z" fill="none" stroke="#a6a6a6" stroke-width="1.4"/>
<path d="M85.59 818.15L90 826.29L81.19 826.29Z" fill="none" stroke="#a6a6a6" stroke-width="1.4"/>
<path d="M103.69 813.61L108.09 821.75L99.29 821.75Z" fill="none" stroke="#a6a6a6" stroke-width="1.4"/>
<path d="M142.47 793.13L146.87 801.27L138.06 801.27Z" fill="none" stroke="#a6a6a6" stroke-width="1.4"/>
<path d="M176.07 809.05L180.47 817.19L171.67 817.19Z" fill="none" stroke="#a6a6a6" stroke-width="1.4"/>
<path d="M212.26 827.25L216.66 835.39L207.86 835.39Z" fill="none" stroke="#a6a6a6" stroke-width="1.4"/>
<path d="M284.64 829.53L289.04 837.67L280.24 837.67Z" fill="none" stroke="#a6a6a6" stroke-width="1.4"/>
<polyline points="67.5,822.77 85.59,837.56 103.69,848.94 142.47,828.46 176.07,833.7 212.26,826.19 284.64,843.25" fill="none" stroke="#747474" stroke-width="0.9"/>
<rect x="63.5" y="818.77" width="8" height="8" fill="none" stroke="#a6a6a6" stroke-width="1.4"/>
<rect x="81.59" y="833.56" width="8" height="8" fill="none" stroke="#a6a6a6" stroke-width="1.4"/>
<rect x="99.69" y="844.94" width="8" height="8" fill="none" stroke="#a6a6a6" stroke-width="1.4"/>
<rect x="138.47" y="824.46" width="8" height="8" fill="none" stroke="#a6a6a6" stroke-width="1.4"/>
<rect x="172.07" y="829.7" width="8" height="8" fill="none" stroke="#a6a6a6" stroke-width="1.4"/>
<rect x="208.26" y="822.19" width="8" height="8" fill="none" stroke="#a6a6a6" stroke-width="1.4"/>
<rect x="280.64" y="839.25" width="8" height="8" fill="none" stroke="#a6a6a6" stroke-width="1.4"/>
<polyline points="67.5,818.23 80.42,843.25 103.69,838.7 142.47,824.25 176.07,829.6 212.26,820.96 284.64,820.5" fill="none" stroke="#747474" stroke-width="0.9"/>
<rect x="63.5" y="814.23" width="8" height="8" fill="none" stroke="#a6a6a6" stroke-width="1.4"/>
<rect x="76.42" y="839.25" width="8" height="8" fill="none" stroke="#a6a6a6" stroke-width="1.4"/>
<rect x="99.69" y="834.7" width="8" height="8" fill="none" stroke="#a6a6a6" stroke-width="1.4"/>
<rect x="138.47" y="820.25" width="8" height="8" fill="none" stroke="#a6a6a6" stroke-width="1.4"/>
<rect x="172.07" y="825.6" width="8" height="8" fill="none" stroke="#a6a6a6" stroke-width="1.4"/>
<rect x="208.26" y="816.96" width="8" height="8" fill="none" stroke="#a6a6a6" stroke-width="1.4"/>
<rect x="280.64" y="816.5" width="8" height="8" fill="none" stroke="#a6a6a6" stroke-width="1.4"/>
<polyline points="67.5,795.48 76.55,837.56 80.42,845.52 103.69,831.88 142.47,838.7 176.07,815.95 212.26,818.23 284.64,815.95" fill="none" stroke="#747474" stroke-width="0.9"/>
<circle cx="67.5" cy="795.48" r="4.0" fill="none" stroke="#a6a6a6" stroke-width="1.4"/>
<circle cx="76.55" cy="837.56" r="4.0" fill="none" stroke="#a6a6a6" stroke-width="1.4"/>
<circle cx="80.42" cy="845.52" r="4.0" fill="none" stroke="#a6a6a6" stroke-width="1.4"/>
<circle cx="103.69" cy="831.88" r="4.0" fill="none" stroke="#a6a6a6" stroke-width="1.4"/>
<circle cx="142.47" cy="838.7" r="4.0" fill="none" stroke="#a6a6a6" stroke-width="1.4"/>
<circle cx="176.07" cy="815.95" r="4.0" fill="none" stroke="#a6a6a6" stroke-width="1.4"/>
<circle cx="212.26" cy="818.23" r="4.0" fill="none" stroke="#a6a6a6" stroke-width="1.4"/>
<circle cx="284.64" cy="815.95" r="4.0" fill="none" stroke="#a6a6a6" stroke-width="1.4"/>
<polyline points="67.5,792.06 76.55,822.77 80.42,769.31 85.59,833.01 103.69,827.33 142.47,802.53 176.07,806.17 284.64,813.9" fill="none" stroke="#747474" stroke-width="0.9"/>
<rect x="63.5" y="788.06" width="8" height="8" fill="none" stroke="#a6a6a6" stroke-width="1.4"/>
<rect x="72.55" y="818.77" width="8" height="8" fill="none" stroke="#a6a6a6" stroke-width="1.4"/>
<rect x="76.42" y="765.31" width="8" height="8" fill="none" stroke="#a6a6a6" stroke-width="1.4"/>
<rect x="81.59" y="829.01" width="8" height="8" fill="none" stroke="#a6a6a6" stroke-width="1.4"/>
<rect x="99.69" y="823.33" width="8" height="8" fill="none" stroke="#a6a6a6" stroke-width="1.4"/>
<rect x="138.47" y="798.53" width="8" height="8" fill="none" stroke="#a6a6a6" stroke-width="1.4"/>
<rect x="172.07" y="802.17" width="8" height="8" fill="none" stroke="#a6a6a6" stroke-width="1.4"/>
<rect x="280.64" y="809.9" width="8" height="8" fill="none" stroke="#a6a6a6" stroke-width="1.4"/>
<polyline points="80.42,831.88 103.69,836.42 176.07,818.23 212.26,836.42 284.64,827.33" fill="none" stroke="#747474" stroke-width="0.9"/>
<rect x="76.42" y="827.88" width="8" height="8" fill="none" stroke="#a6a6a6" stroke-width="1.4"/>
<rect x="99.69" y="832.42" width="8" height="8" fill="none" stroke="#a6a6a6" stroke-width="1.4"/>
<rect x="172.07" y="814.23" width="8" height="8" fill="none" stroke="#a6a6a6" stroke-width="1.4"/>
<rect x="208.26" y="832.42" width="8" height="8" fill="none" stroke="#a6a6a6" stroke-width="1.4"/>
<rect x="280.64" y="823.33" width="8" height="8" fill="none" stroke="#a6a6a6" stroke-width="1.4"/>
<polyline points="67.5,769.77 80.42,826.19 103.69,822.77 142.47,806.17 176.07,809.69 284.64,796.5" fill="none" stroke="#747474" stroke-width="0.9"/>
<path d="M67.5 765.15L71.9 773.29L63.1 773.29Z" fill="none" stroke="#a6a6a6" stroke-width="1.4"/>
<path d="M80.42 821.57L84.83 829.71L76.02 829.71Z" fill="none" stroke="#a6a6a6" stroke-width="1.4"/>
<path d="M103.69 818.15L108.09 826.29L99.29 826.29Z" fill="none" stroke="#a6a6a6" stroke-width="1.4"/>
<path d="M142.47 801.55L146.87 809.69L138.06 809.69Z" fill="none" stroke="#a6a6a6" stroke-width="1.4"/>
<path d="M176.07 805.07L180.47 813.21L171.67 813.21Z" fill="none" stroke="#a6a6a6" stroke-width="1.4"/>
<path d="M284.64 791.88L289.04 800.02L280.24 800.02Z" fill="none" stroke="#a6a6a6" stroke-width="1.4"/>
<polyline points="76.55,861.45 85.59,859.17 176.07,859.4 212.26,860.88 284.64,859.74" fill="none" stroke="#747474" stroke-width="0.9"/>
<rect x="72.55" y="857.45" width="8" height="8" fill="none" stroke="#a6a6a6" stroke-width="1.4"/>
<rect x="81.59" y="855.17" width="8" height="8" fill="none" stroke="#a6a6a6" stroke-width="1.4"/>
<rect x="172.07" y="855.4" width="8" height="8" fill="none" stroke="#a6a6a6" stroke-width="1.4"/>
<rect x="208.26" y="856.88" width="8" height="8" fill="none" stroke="#a6a6a6" stroke-width="1.4"/>
<rect x="280.64" y="855.74" width="8" height="8" fill="none" stroke="#a6a6a6" stroke-width="1.4"/>
<polyline points="67.5,837.56 76.55,852.35 85.59,843.25 176.07,848.94 212.26,855.76 284.64,850.08" fill="none" stroke="#747474" stroke-width="0.9"/>
<circle cx="67.5" cy="837.56" r="4.0" fill="none" stroke="#a6a6a6" stroke-width="1.4"/>
<circle cx="76.55" cy="852.35" r="4.0" fill="none" stroke="#a6a6a6" stroke-width="1.4"/>
<circle cx="85.59" cy="843.25" r="4.0" fill="none" stroke="#a6a6a6" stroke-width="1.4"/>
<circle cx="176.07" cy="848.94" r="4.0" fill="none" stroke="#a6a6a6" stroke-width="1.4"/>
<circle cx="212.26" cy="855.76" r="4.0" fill="none" stroke="#a6a6a6" stroke-width="1.4"/>
<circle cx="284.64" cy="850.08" r="4.0" fill="none" stroke="#a6a6a6" stroke-width="1.4"/>
<polyline points="67.5,776.14 80.42,812.54 212.26,817.09 284.64,804.69" fill="none" stroke="#747474" stroke-width="0.9"/>
<rect x="63.5" y="772.14" width="8" height="8" fill="none" stroke="#a6a6a6" stroke-width="1.4"/>
<rect x="76.42" y="808.54" width="8" height="8" fill="none" stroke="#a6a6a6" stroke-width="1.4"/>
<rect x="208.26" y="813.09" width="8" height="8" fill="none" stroke="#a6a6a6" stroke-width="1.4"/>
<rect x="280.64" y="800.69" width="8" height="8" fill="none" stroke="#a6a6a6" stroke-width="1.4"/>
<polyline points="67.5,811.4 85.59,852.35 103.69,853.26 142.47,834.15 176.07,837.56 212.26,842.11 284.64,836.42" fill="none" stroke="#747474" stroke-width="0.9"/>
<rect x="63.5" y="807.4" width="8" height="8" fill="none" stroke="#a6a6a6" stroke-width="1.4"/>
<rect x="81.59" y="848.35" width="8" height="8" fill="none" stroke="#a6a6a6" stroke-width="1.4"/>
<rect x="99.69" y="849.26" width="8" height="8" fill="none" stroke="#a6a6a6" stroke-width="1.4"/>
<rect x="138.47" y="830.15" width="8" height="8" fill="none" stroke="#a6a6a6" stroke-width="1.4"/>
<rect x="172.07" y="833.56" width="8" height="8" fill="none" stroke="#a6a6a6" stroke-width="1.4"/>
<rect x="208.26" y="838.11" width="8" height="8" fill="none" stroke="#a6a6a6" stroke-width="1.4"/>
<rect x="280.64" y="832.42" width="8" height="8" fill="none" stroke="#a6a6a6" stroke-width="1.4"/>
<polyline points="67.5,773.29 76.55,831.88 80.42,818.23 85.59,828.46 142.47,813.45 176.07,812.54 212.26,814.93 284.64,808.78" fill="none" stroke="#747474" stroke-width="0.9"/>
<circle cx="67.5" cy="773.29" r="4.0" fill="none" stroke="#a6a6a6" stroke-width="1.4"/>
<circle cx="76.55" cy="831.88" r="4.0" fill="none" stroke="#a6a6a6" stroke-width="1.4"/>
<circle cx="80.42" cy="818.23" r="4.0" fill="none" stroke="#a6a6a6" stroke-width="1.4"/>
<circle cx="85.59" cy="828.46" r="4.0" fill="none" stroke="#a6a6a6" stroke-width="1.4"/>
<circle cx="142.47" cy="813.45" r="4.0" fill="none" stroke="#a6a6a6" stroke-width="1.4"/>
<circle cx="176.07" cy="812.54" r="4.0" fill="none" stroke="#a6a6a6" stroke-width="1.4"/>
<circle cx="212.26" cy="814.93" r="4.0" fill="none" stroke="#a6a6a6" stroke-width="1.4"/>
<circle cx="284.64" cy="808.78" r="4.0" fill="none" stroke="#a6a6a6" stroke-width="1.4"/>
<polyline points="67.5,848.94 142.47,856.9 176.07,854.62 212.26,859.17 284.64,856.9" fill="none" stroke="#747474" stroke-width="0.9"/>
<rect x="63.5" y="844.94" width="8" height="8" fill="none" stroke="#a6a6a6" stroke-width="1.4"/>
<rect x="138.47" y="852.9" width="8" height="8" fill="none" stroke="#a6a6a6" stroke-width="1.4"/>
<rect x="172.07" y="850.62" width="8" height="8" fill="none" stroke="#a6a6a6" stroke-width="1.4"/>
<rect x="208.26" y="855.17" width="8" height="8" fill="none" stroke="#a6a6a6" stroke-width="1.4"/>
<rect x="280.64" y="852.9" width="8" height="8" fill="none" stroke="#a6a6a6" stroke-width="1.4"/>
<polyline points="67.5,843.25 76.55,855.76 103.69,845.52 142.47,850.87 212.26,848.94 284.64,839.84" fill="none" stroke="#747474" stroke-width="0.9"/>
<rect x="63.5" y="839.25" width="8" height="8" fill="none" stroke="#a6a6a6" stroke-width="1.4"/>
<rect x="72.55" y="851.76" width="8" height="8" fill="none" stroke="#a6a6a6" stroke-width="1.4"/>
<rect x="99.69" y="841.52" width="8" height="8" fill="none" stroke="#a6a6a6" stroke-width="1.4"/>
<rect x="138.47" y="846.87" width="8" height="8" fill="none" stroke="#a6a6a6" stroke-width="1.4"/>
<rect x="208.26" y="844.94" width="8" height="8" fill="none" stroke="#a6a6a6" stroke-width="1.4"/>
<rect x="280.64" y="835.84" width="8" height="8" fill="none" stroke="#a6a6a6" stroke-width="1.4"/>
<polyline points="85.59,854.62 103.69,859.17 142.47,854.62 176.07,852.35 284.64,846.66" fill="none" stroke="#747474" stroke-width="0.9"/>
<path d="M85.59 850L90 858.14L81.19 858.14Z" fill="none" stroke="#a6a6a6" stroke-width="1.4"/>
<path d="M103.69 854.55L108.09 862.69L99.29 862.69Z" fill="none" stroke="#a6a6a6" stroke-width="1.4"/>
<path d="M142.47 850L146.87 858.14L138.06 858.14Z" fill="none" stroke="#a6a6a6" stroke-width="1.4"/>
<path d="M176.07 847.73L180.47 855.87L171.67 855.87Z" fill="none" stroke="#a6a6a6" stroke-width="1.4"/>
<path d="M284.64 842.04L289.04 850.18L280.24 850.18Z" fill="none" stroke="#a6a6a6" stroke-width="1.4"/>
<polyline points="67.5,825.05 76.55,845.52 80.42,854.62 103.69,840.98 142.47,847.8 176.07,845.52 212.26,845.52 284.64,822.77" fill="none" stroke="#747474" stroke-width="0.9"/>
<rect x="63.5" y="821.05" width="8" height="8" fill="none" stroke="#a6a6a6" stroke-width="1.4"/>
<rect x="72.55" y="841.52" width="8" height="8" fill="none" stroke="#a6a6a6" stroke-width="1.4"/>
<rect x="76.42" y="850.62" width="8" height="8" fill="none" stroke="#a6a6a6" stroke-width="1.4"/>
<rect x="99.69" y="836.98" width="8" height="8" fill="none" stroke="#a6a6a6" stroke-width="1.4"/>
<rect x="138.47" y="843.8" width="8" height="8" fill="none" stroke="#a6a6a6" stroke-width="1.4"/>
<rect x="172.07" y="841.52" width="8" height="8" fill="none" stroke="#a6a6a6" stroke-width="1.4"/>
<rect x="208.26" y="841.52" width="8" height="8" fill="none" stroke="#a6a6a6" stroke-width="1.4"/>
<rect x="280.64" y="818.77" width="8" height="8" fill="none" stroke="#a6a6a6" stroke-width="1.4"/>
<polyline points="67.5,802.3 76.55,840.98 80.42,852.35 103.69,856.9 212.26,852.35 284.64,831.88" fill="none" stroke="#747474" stroke-width="0.9"/>
<circle cx="67.5" cy="802.3" r="4.0" fill="none" stroke="#a6a6a6" stroke-width="1.4"/>
<circle cx="76.55" cy="840.98" r="4.0" fill="none" stroke="#a6a6a6" stroke-width="1.4"/>
<circle cx="80.42" cy="852.35" r="4.0" fill="none" stroke="#a6a6a6" stroke-width="1.4"/>
<circle cx="103.69" cy="856.9" r="4.0" fill="none" stroke="#a6a6a6" stroke-width="1.4"/>
<circle cx="212.26" cy="852.35" r="4.0" fill="none" stroke="#a6a6a6" stroke-width="1.4"/>
<circle cx="284.64" cy="831.88" r="4.0" fill="none" stroke="#a6a6a6" stroke-width="1.4"/>
<polyline points="67.5,854.62 80.42,859.17 103.69,860.65 142.47,859.4 176.07,856.9 284.64,853.49" fill="none" stroke="#747474" stroke-width="0.9"/>
<rect x="63.5" y="850.62" width="8" height="8" fill="none" stroke="#a6a6a6" stroke-width="1.4"/>
<rect x="76.42" y="855.17" width="8" height="8" fill="none" stroke="#a6a6a6" stroke-width="1.4"/>
<rect x="99.69" y="856.65" width="8" height="8" fill="none" stroke="#a6a6a6" stroke-width="1.4"/>
<rect x="138.47" y="855.4" width="8" height="8" fill="none" stroke="#a6a6a6" stroke-width="1.4"/>
<rect x="172.07" y="852.9" width="8" height="8" fill="none" stroke="#a6a6a6" stroke-width="1.4"/>
<rect x="280.64" y="849.49" width="8" height="8" fill="none" stroke="#a6a6a6" stroke-width="1.4"/>
<polyline points="67.5,806.17 70.08,859.4 76.55,848.48 80.42,835.17 85.59,844.84 103.69,842.91 142.47,840.75 176.07,842.91 212.26,839.04 284.64,825.5" fill="none" stroke="#22c8dc" stroke-width="2.5" stroke-linejoin="round"/>
<path d="M67.5 799.47L73.7 806.17L67.5 812.87L61.3 806.17Z" fill="#22c8dc"/>
<path d="M70.08 852.7L76.28 859.4L70.08 866.1L63.88 859.4Z" fill="#22c8dc"/>
<path d="M76.55 841.78L82.75 848.48L76.55 855.18L70.35 848.48Z" fill="#22c8dc"/>
<path d="M80.42 828.47L86.62 835.17L80.42 841.87L74.22 835.17Z" fill="#22c8dc"/>
<path d="M85.59 838.14L91.8 844.84L85.59 851.54L79.39 844.84Z" fill="#22c8dc"/>
<path d="M103.69 836.21L109.89 842.91L103.69 849.61L97.49 842.91Z" fill="#22c8dc"/>
<path d="M142.47 834.05L148.66 840.75L142.47 847.45L136.27 840.75Z" fill="#22c8dc"/>
<path d="M176.07 836.21L182.27 842.91L176.07 849.61L169.87 842.91Z" fill="#22c8dc"/>
<path d="M212.26 832.34L218.46 839.04L212.26 845.74L206.06 839.04Z" fill="#22c8dc"/>
<path d="M284.64 818.8L290.84 825.5L284.64 832.21L278.44 825.5Z" fill="#22c8dc"/>
<text transform="translate(16,752.1) rotate(-90)" font-size="12.3" text-anchor="middle" textLength="124.6" lengthAdjust="spacingAndGlyphs" fill="#222" stroke="#222" stroke-width="0.08">CD4<tspan font-size="8.5" dy="-5">+</tspan><tspan dy="5"> T cells (cells/µl)</tspan></text>
<text x="349.8" y="632.1" font-size="17" font-weight="bold" fill="#000" stroke="#000" stroke-width="0.8">f</text>
<line x1="416.5" y1="638.5" x2="416.5" y2="865.5" stroke="#5e5e5e" stroke-width="1"/>
<line x1="410.9" y1="638.5" x2="416.5" y2="638.5" stroke="#5e5e5e" stroke-width="1"/>
<text x="404.8" y="642.1" font-size="10.5" text-anchor="end" textLength="30.1" lengthAdjust="spacingAndGlyphs" fill="#222" font-weight="normal" stroke="#222" stroke-width="0.05" >2,000</text>
<line x1="410.9" y1="695.5" x2="416.5" y2="695.5" stroke="#5e5e5e" stroke-width="1"/>
<text x="404.8" y="699" font-size="10.5" text-anchor="end" textLength="28.8" lengthAdjust="spacingAndGlyphs" fill="#222" font-weight="normal" stroke="#222" stroke-width="0.05" >1,500</text>
<line x1="410.9" y1="752.5" x2="416.5" y2="752.5" stroke="#5e5e5e" stroke-width="1"/>
<text x="404.8" y="755.9" font-size="10.5" text-anchor="end" textLength="28.8" lengthAdjust="spacingAndGlyphs" fill="#222" font-weight="normal" stroke="#222" stroke-width="0.05" >1,000</text>
<line x1="410.9" y1="809.5" x2="416.5" y2="809.5" stroke="#5e5e5e" stroke-width="1"/>
<text x="404.8" y="812.8" font-size="10.5" text-anchor="end" textLength="20.6" lengthAdjust="spacingAndGlyphs" fill="#222" font-weight="normal" stroke="#222" stroke-width="0.05" >500</text>
<line x1="410.9" y1="865.5" x2="416.5" y2="865.5" stroke="#5e5e5e" stroke-width="1"/>
<text x="404.8" y="869.4" font-size="10.5" text-anchor="end" textLength="7.4" lengthAdjust="spacingAndGlyphs" fill="#222" font-weight="normal" stroke="#222" stroke-width="0.05" >0</text>
<line x1="411.5" y1="865.5" x2="675.5" y2="865.5" stroke="#5e5e5e" stroke-width="1"/>
<line x1="416.5" y1="865.5" x2="416.5" y2="871" stroke="#5e5e5e" stroke-width="1"/>
<text x="416.5" y="886.2" font-size="10.5" text-anchor="middle" textLength="7.4" lengthAdjust="spacingAndGlyphs" fill="#222" font-weight="normal" stroke="#222" stroke-width="0.05" >0</text>
<line x1="481.5" y1="865.5" x2="481.5" y2="871" stroke="#5e5e5e" stroke-width="1"/>
<text x="481.5" y="886.2" font-size="10.5" text-anchor="middle" textLength="14" lengthAdjust="spacingAndGlyphs" fill="#222" font-weight="normal" stroke="#222" stroke-width="0.05" >50</text>
<line x1="545.5" y1="865.5" x2="545.5" y2="871" stroke="#5e5e5e" stroke-width="1"/>
<text x="545.5" y="886.2" font-size="10.5" text-anchor="middle" textLength="19.1" lengthAdjust="spacingAndGlyphs" fill="#222" font-weight="normal" stroke="#222" stroke-width="0.05" >100</text>
<line x1="610.5" y1="865.5" x2="610.5" y2="871" stroke="#5e5e5e" stroke-width="1"/>
<text x="610.5" y="886.2" font-size="10.5" text-anchor="middle" textLength="19.1" lengthAdjust="spacingAndGlyphs" fill="#222" font-weight="normal" stroke="#222" stroke-width="0.05" >150</text>
<line x1="675.5" y1="865.5" x2="675.5" y2="871" stroke="#5e5e5e" stroke-width="1"/>
<text x="675.5" y="886.2" font-size="10.5" text-anchor="middle" textLength="20.4" lengthAdjust="spacingAndGlyphs" fill="#222" font-weight="normal" stroke="#222" stroke-width="0.05" >200</text>
<text x="545.45" y="907" font-size="12.3" text-anchor="middle" textLength="170" lengthAdjust="spacingAndGlyphs" fill="#222" stroke="#222" stroke-width="0.08">Days after CAR-T cell therapy</text>
<polyline points="416.5,785.92 425.55,799.46 429.43,675.81 434.6,804.23 452.69,836.88 491.47,816.18 525.07,822.77 561.26,843.25 633.64,848.94" fill="none" stroke="#747474" stroke-width="0.9"/>
<circle cx="416.5" cy="785.92" r="4.0" fill="none" stroke="#a6a6a6" stroke-width="1.4"/>
<circle cx="425.55" cy="799.46" r="4.0" fill="none" stroke="#a6a6a6" stroke-width="1.4"/>
<circle cx="429.43" cy="675.81" r="4.0" fill="none" stroke="#a6a6a6" stroke-width="1.4"/>
<circle cx="434.6" cy="804.23" r="4.0" fill="none" stroke="#a6a6a6" stroke-width="1.4"/>
<circle cx="452.69" cy="836.88" r="4.0" fill="none" stroke="#a6a6a6" stroke-width="1.4"/>
<circle cx="491.47" cy="816.18" r="4.0" fill="none" stroke="#a6a6a6" stroke-width="1.4"/>
<circle cx="525.07" cy="822.77" r="4.0" fill="none" stroke="#a6a6a6" stroke-width="1.4"/>
<circle cx="561.26" cy="843.25" r="4.0" fill="none" stroke="#a6a6a6" stroke-width="1.4"/>
<circle cx="633.64" cy="848.94" r="4.0" fill="none" stroke="#a6a6a6" stroke-width="1.4"/>
<polyline points="416.5,813.67 425.55,843.25 429.43,790.92 434.6,831.88 452.69,758.16 491.47,789.67 525.07,830.74 561.26,834.38 633.64,834.38" fill="none" stroke="#747474" stroke-width="0.9"/>
<path d="M416.5 809.05L420.9 817.19L412.1 817.19Z" fill="none" stroke="#a6a6a6" stroke-width="1.4"/>
<path d="M425.55 838.63L429.95 846.77L421.15 846.77Z" fill="none" stroke="#a6a6a6" stroke-width="1.4"/>
<path d="M429.43 786.3L433.82 794.44L425.03 794.44Z" fill="none" stroke="#a6a6a6" stroke-width="1.4"/>
<path d="M434.6 827.25L439 835.39L430.2 835.39Z" fill="none" stroke="#a6a6a6" stroke-width="1.4"/>
<path d="M452.69 753.54L457.09 761.68L448.29 761.68Z" fill="none" stroke="#a6a6a6" stroke-width="1.4"/>
<path d="M491.47 785.05L495.87 793.19L487.07 793.19Z" fill="none" stroke="#a6a6a6" stroke-width="1.4"/>
<path d="M525.07 826.12L529.47 834.26L520.67 834.26Z" fill="none" stroke="#a6a6a6" stroke-width="1.4"/>
<path d="M561.26 829.76L565.66 837.9L556.86 837.9Z" fill="none" stroke="#a6a6a6" stroke-width="1.4"/>
<path d="M633.64 829.76L638.04 837.9L629.24 837.9Z" fill="none" stroke="#a6a6a6" stroke-width="1.4"/>
<polyline points="416.5,765.44 425.55,831.88 429.43,759.87 434.6,820.5 452.69,794.34 491.47,772.73 525.07,761.8 561.26,799.34 633.64,793.2" fill="none" stroke="#747474" stroke-width="0.9"/>
<rect x="412.5" y="761.44" width="8" height="8" fill="none" stroke="#a6a6a6" stroke-width="1.4"/>
<rect x="421.55" y="827.88" width="8" height="8" fill="none" stroke="#a6a6a6" stroke-width="1.4"/>
<rect x="425.43" y="755.87" width="8" height="8" fill="none" stroke="#a6a6a6" stroke-width="1.4"/>
<rect x="430.6" y="816.5" width="8" height="8" fill="none" stroke="#a6a6a6" stroke-width="1.4"/>
<rect x="448.69" y="790.34" width="8" height="8" fill="none" stroke="#a6a6a6" stroke-width="1.4"/>
<rect x="487.47" y="768.73" width="8" height="8" fill="none" stroke="#a6a6a6" stroke-width="1.4"/>
<rect x="521.07" y="757.8" width="8" height="8" fill="none" stroke="#a6a6a6" stroke-width="1.4"/>
<rect x="557.26" y="795.34" width="8" height="8" fill="none" stroke="#a6a6a6" stroke-width="1.4"/>
<rect x="629.64" y="789.2" width="8" height="8" fill="none" stroke="#a6a6a6" stroke-width="1.4"/>
<polyline points="416.5,771.47 425.55,852.35 429.43,785.92 434.6,843.25 452.69,812.54 491.47,775 525.07,771.47 561.26,805.37 633.64,777.05" fill="none" stroke="#747474" stroke-width="0.9"/>
<rect x="412.5" y="767.47" width="8" height="8" fill="none" stroke="#a6a6a6" stroke-width="1.4"/>
<rect x="421.55" y="848.35" width="8" height="8" fill="none" stroke="#a6a6a6" stroke-width="1.4"/>
<rect x="425.43" y="781.92" width="8" height="8" fill="none" stroke="#a6a6a6" stroke-width="1.4"/>
<rect x="430.6" y="839.25" width="8" height="8" fill="none" stroke="#a6a6a6" stroke-width="1.4"/>
<rect x="448.69" y="808.54" width="8" height="8" fill="none" stroke="#a6a6a6" stroke-width="1.4"/>
<rect x="487.47" y="771" width="8" height="8" fill="none" stroke="#a6a6a6" stroke-width="1.4"/>
<rect x="521.07" y="767.47" width="8" height="8" fill="none" stroke="#a6a6a6" stroke-width="1.4"/>
<rect x="557.26" y="801.37" width="8" height="8" fill="none" stroke="#a6a6a6" stroke-width="1.4"/>
<rect x="629.64" y="773.05" width="8" height="8" fill="none" stroke="#a6a6a6" stroke-width="1.4"/>
<polyline points="416.5,848.94 425.55,857.47 429.43,837.56 434.6,852.35 452.69,854.62 491.47,859.17 525.07,859.17 561.26,856.9 633.64,760.21" fill="none" stroke="#747474" stroke-width="0.9"/>
<rect x="412.5" y="844.94" width="8" height="8" fill="none" stroke="#a6a6a6" stroke-width="1.4"/>
<rect x="421.55" y="853.47" width="8" height="8" fill="none" stroke="#a6a6a6" stroke-width="1.4"/>
<rect x="425.43" y="833.56" width="8" height="8" fill="none" stroke="#a6a6a6" stroke-width="1.4"/>
<rect x="430.6" y="848.35" width="8" height="8" fill="none" stroke="#a6a6a6" stroke-width="1.4"/>
<rect x="448.69" y="850.62" width="8" height="8" fill="none" stroke="#a6a6a6" stroke-width="1.4"/>
<rect x="487.47" y="855.17" width="8" height="8" fill="none" stroke="#a6a6a6" stroke-width="1.4"/>
<rect x="521.07" y="855.17" width="8" height="8" fill="none" stroke="#a6a6a6" stroke-width="1.4"/>
<rect x="557.26" y="852.9" width="8" height="8" fill="none" stroke="#a6a6a6" stroke-width="1.4"/>
<rect x="629.64" y="756.21" width="8" height="8" fill="none" stroke="#a6a6a6" stroke-width="1.4"/>
<polyline points="416.5,854.62 429.43,820.5 452.69,837.56 491.47,859.17 525.07,843.25 561.26,853.83 633.64,823.57" fill="none" stroke="#747474" stroke-width="0.9"/>
<circle cx="416.5" cy="854.62" r="4.0" fill="none" stroke="#a6a6a6" stroke-width="1.4"/>
<circle cx="429.43" cy="820.5" r="4.0" fill="none" stroke="#a6a6a6" stroke-width="1.4"/>
<circle cx="452.69" cy="837.56" r="4.0" fill="none" stroke="#a6a6a6" stroke-width="1.4"/>
<circle cx="491.47" cy="859.17" r="4.0" fill="none" stroke="#a6a6a6" stroke-width="1.4"/>
<circle cx="525.07" cy="843.25" r="4.0" fill="none" stroke="#a6a6a6" stroke-width="1.4"/>
<circle cx="561.26" cy="853.83" r="4.0" fill="none" stroke="#a6a6a6" stroke-width="1.4"/>
<circle cx="633.64" cy="823.57" r="4.0" fill="none" stroke="#a6a6a6" stroke-width="1.4"/>
<polyline points="416.5,807.76 425.55,843.25 429.43,809.12 434.6,854.62 491.47,843.25 525.07,806.62 561.26,819.82 633.64,795.7" fill="none" stroke="#747474" stroke-width="0.9"/>
<rect x="412.5" y="803.76" width="8" height="8" fill="none" stroke="#a6a6a6" stroke-width="1.4"/>
<rect x="421.55" y="839.25" width="8" height="8" fill="none" stroke="#a6a6a6" stroke-width="1.4"/>
<rect x="425.43" y="805.12" width="8" height="8" fill="none" stroke="#a6a6a6" stroke-width="1.4"/>
<rect x="430.6" y="850.62" width="8" height="8" fill="none" stroke="#a6a6a6" stroke-width="1.4"/>
<rect x="487.47" y="839.25" width="8" height="8" fill="none" stroke="#a6a6a6" stroke-width="1.4"/>
<rect x="521.07" y="802.62" width="8" height="8" fill="none" stroke="#a6a6a6" stroke-width="1.4"/>
<rect x="557.26" y="815.82" width="8" height="8" fill="none" stroke="#a6a6a6" stroke-width="1.4"/>
<rect x="629.64" y="791.7" width="8" height="8" fill="none" stroke="#a6a6a6" stroke-width="1.4"/>
<polyline points="416.5,775.11 425.55,848.94 429.43,790.92 491.47,822.77 525.07,816.29 561.26,831.88 633.64,820.5" fill="none" stroke="#747474" stroke-width="0.9"/>
<path d="M416.5 770.49L420.9 778.63L412.1 778.63Z" fill="none" stroke="#a6a6a6" stroke-width="1.4"/>
<path d="M425.55 844.32L429.95 852.46L421.15 852.46Z" fill="none" stroke="#a6a6a6" stroke-width="1.4"/>
<path d="M429.43 786.3L433.82 794.44L425.03 794.44Z" fill="none" stroke="#a6a6a6" stroke-width="1.4"/>
<path d="M491.47 818.15L495.87 826.29L487.07 826.29Z" fill="none" stroke="#a6a6a6" stroke-width="1.4"/>
<path d="M525.07 811.67L529.47 819.81L520.67 819.81Z" fill="none" stroke="#a6a6a6" stroke-width="1.4"/>
<path d="M561.26 827.25L565.66 835.39L556.86 835.39Z" fill="none" stroke="#a6a6a6" stroke-width="1.4"/>
<path d="M633.64 815.88L638.04 824.02L629.24 824.02Z" fill="none" stroke="#a6a6a6" stroke-width="1.4"/>
<polyline points="416.5,862.59 425.55,859.17 452.69,856.9 525.07,856.9 561.26,861.11 633.64,856.9" fill="none" stroke="#747474" stroke-width="0.9"/>
<rect x="412.5" y="858.59" width="8" height="8" fill="none" stroke="#a6a6a6" stroke-width="1.4"/>
<rect x="421.55" y="855.17" width="8" height="8" fill="none" stroke="#a6a6a6" stroke-width="1.4"/>
<rect x="448.69" y="852.9" width="8" height="8" fill="none" stroke="#a6a6a6" stroke-width="1.4"/>
<rect x="521.07" y="852.9" width="8" height="8" fill="none" stroke="#a6a6a6" stroke-width="1.4"/>
<rect x="557.26" y="857.11" width="8" height="8" fill="none" stroke="#a6a6a6" stroke-width="1.4"/>
<rect x="629.64" y="852.9" width="8" height="8" fill="none" stroke="#a6a6a6" stroke-width="1.4"/>
<polyline points="416.5,843.25 425.55,854.62 491.47,806.62 525.07,837.56 561.26,826.19 633.64,829.6" fill="none" stroke="#747474" stroke-width="0.9"/>
<circle cx="416.5" cy="843.25" r="4.0" fill="none" stroke="#a6a6a6" stroke-width="1.4"/>
<circle cx="425.55" cy="854.62" r="4.0" fill="none" stroke="#a6a6a6" stroke-width="1.4"/>
<circle cx="491.47" cy="806.62" r="4.0" fill="none" stroke="#a6a6a6" stroke-width="1.4"/>
<circle cx="525.07" cy="837.56" r="4.0" fill="none" stroke="#a6a6a6" stroke-width="1.4"/>
<circle cx="561.26" cy="826.19" r="4.0" fill="none" stroke="#a6a6a6" stroke-width="1.4"/>
<circle cx="633.64" cy="829.6" r="4.0" fill="none" stroke="#a6a6a6" stroke-width="1.4"/>
<polyline points="416.5,819.82 429.43,797.75 434.6,848.94 452.69,843.25 491.47,838.81 525.07,800.02 561.26,848.94 633.64,848.94" fill="none" stroke="#747474" stroke-width="0.9"/>
<rect x="412.5" y="815.82" width="8" height="8" fill="none" stroke="#a6a6a6" stroke-width="1.4"/>
<rect x="425.43" y="793.75" width="8" height="8" fill="none" stroke="#a6a6a6" stroke-width="1.4"/>
<rect x="430.6" y="844.94" width="8" height="8" fill="none" stroke="#a6a6a6" stroke-width="1.4"/>
<rect x="448.69" y="839.25" width="8" height="8" fill="none" stroke="#a6a6a6" stroke-width="1.4"/>
<rect x="487.47" y="834.81" width="8" height="8" fill="none" stroke="#a6a6a6" stroke-width="1.4"/>
<rect x="521.07" y="796.02" width="8" height="8" fill="none" stroke="#a6a6a6" stroke-width="1.4"/>
<rect x="557.26" y="844.94" width="8" height="8" fill="none" stroke="#a6a6a6" stroke-width="1.4"/>
<rect x="629.64" y="844.94" width="8" height="8" fill="none" stroke="#a6a6a6" stroke-width="1.4"/>
<polyline points="416.5,826.19 429.43,837.56 434.6,826.19 452.69,831.88 491.47,848.94 525.07,822.77 561.26,811.4 633.64,834.15" fill="none" stroke="#747474" stroke-width="0.9"/>
<circle cx="416.5" cy="826.19" r="4.0" fill="none" stroke="#a6a6a6" stroke-width="1.4"/>
<circle cx="429.43" cy="837.56" r="4.0" fill="none" stroke="#a6a6a6" stroke-width="1.4"/>
<circle cx="434.6" cy="826.19" r="4.0" fill="none" stroke="#a6a6a6" stroke-width="1.4"/>
<circle cx="452.69" cy="831.88" r="4.0" fill="none" stroke="#a6a6a6" stroke-width="1.4"/>
<circle cx="491.47" cy="848.94" r="4.0" fill="none" stroke="#a6a6a6" stroke-width="1.4"/>
<circle cx="525.07" cy="822.77" r="4.0" fill="none" stroke="#a6a6a6" stroke-width="1.4"/>
<circle cx="561.26" cy="811.4" r="4.0" fill="none" stroke="#a6a6a6" stroke-width="1.4"/>
<circle cx="633.64" cy="834.15" r="4.0" fill="none" stroke="#a6a6a6" stroke-width="1.4"/>
<polyline points="416.5,859.17 425.55,861.45 429.43,856.9 452.69,859.17 491.47,862.36 525.07,862.36 561.26,856.9 633.64,859.17" fill="none" stroke="#747474" stroke-width="0.9"/>
<path d="M416.5 854.55L420.9 862.69L412.1 862.69Z" fill="none" stroke="#a6a6a6" stroke-width="1.4"/>
<path d="M425.55 856.83L429.95 864.97L421.15 864.97Z" fill="none" stroke="#a6a6a6" stroke-width="1.4"/>
<path d="M429.43 852.28L433.82 860.42L425.03 860.42Z" fill="none" stroke="#a6a6a6" stroke-width="1.4"/>
<path d="M452.69 854.55L457.09 862.69L448.29 862.69Z" fill="none" stroke="#a6a6a6" stroke-width="1.4"/>
<path d="M491.47 857.74L495.87 865.88L487.07 865.88Z" fill="none" stroke="#a6a6a6" stroke-width="1.4"/>
<path d="M525.07 857.74L529.47 865.88L520.67 865.88Z" fill="none" stroke="#a6a6a6" stroke-width="1.4"/>
<path d="M561.26 852.28L565.66 860.42L556.86 860.42Z" fill="none" stroke="#a6a6a6" stroke-width="1.4"/>
<path d="M633.64 854.55L638.04 862.69L629.24 862.69Z" fill="none" stroke="#a6a6a6" stroke-width="1.4"/>
<polyline points="434.6,860.31 452.69,862.59 491.47,852.35 525.07,859.17 633.64,863.5" fill="none" stroke="#747474" stroke-width="0.9"/>
<circle cx="434.6" cy="860.31" r="4.0" fill="none" stroke="#a6a6a6" stroke-width="1.4"/>
<circle cx="452.69" cy="862.59" r="4.0" fill="none" stroke="#a6a6a6" stroke-width="1.4"/>
<circle cx="491.47" cy="852.35" r="4.0" fill="none" stroke="#a6a6a6" stroke-width="1.4"/>
<circle cx="525.07" cy="859.17" r="4.0" fill="none" stroke="#a6a6a6" stroke-width="1.4"/>
<circle cx="633.64" cy="863.5" r="4.0" fill="none" stroke="#a6a6a6" stroke-width="1.4"/>
<polyline points="416.5,848.94 434.6,856.9 452.69,854.62 491.47,831.88 525.07,853.83 561.26,859.17 633.64,854.62" fill="none" stroke="#747474" stroke-width="0.9"/>
<rect x="412.5" y="844.94" width="8" height="8" fill="none" stroke="#a6a6a6" stroke-width="1.4"/>
<rect x="430.6" y="852.9" width="8" height="8" fill="none" stroke="#a6a6a6" stroke-width="1.4"/>
<rect x="448.69" y="850.62" width="8" height="8" fill="none" stroke="#a6a6a6" stroke-width="1.4"/>
<rect x="487.47" y="827.88" width="8" height="8" fill="none" stroke="#a6a6a6" stroke-width="1.4"/>
<rect x="521.07" y="849.83" width="8" height="8" fill="none" stroke="#a6a6a6" stroke-width="1.4"/>
<rect x="557.26" y="855.17" width="8" height="8" fill="none" stroke="#a6a6a6" stroke-width="1.4"/>
<rect x="629.64" y="850.62" width="8" height="8" fill="none" stroke="#a6a6a6" stroke-width="1.4"/>
<polyline points="416.5,811.4 425.55,837.56 429.43,826.19 434.6,837.56 452.69,848.94 491.47,827.1 525.07,848.94 561.26,837.56 633.64,810.15" fill="none" stroke="#747474" stroke-width="0.9"/>
<path d="M416.5 806.78L420.9 814.92L412.1 814.92Z" fill="none" stroke="#a6a6a6" stroke-width="1.4"/>
<path d="M425.55 832.94L429.95 841.08L421.15 841.08Z" fill="none" stroke="#a6a6a6" stroke-width="1.4"/>
<path d="M429.43 821.57L433.82 829.71L425.03 829.71Z" fill="none" stroke="#a6a6a6" stroke-width="1.4"/>
<path d="M434.6 832.94L439 841.08L430.2 841.08Z" fill="none" stroke="#a6a6a6" stroke-width="1.4"/>
<path d="M452.69 844.32L457.09 852.46L448.29 852.46Z" fill="none" stroke="#a6a6a6" stroke-width="1.4"/>
<path d="M491.47 822.48L495.87 830.62L487.07 830.62Z" fill="none" stroke="#a6a6a6" stroke-width="1.4"/>
<path d="M525.07 844.32L529.47 852.46L520.67 852.46Z" fill="none" stroke="#a6a6a6" stroke-width="1.4"/>
<path d="M561.26 832.94L565.66 841.08L556.86 841.08Z" fill="none" stroke="#a6a6a6" stroke-width="1.4"/>
<path d="M633.64 805.53L638.04 813.67L629.24 813.67Z" fill="none" stroke="#a6a6a6" stroke-width="1.4"/>
<polyline points="416.5,837.56 429.43,848.94 452.69,823.57 491.47,854.62 633.64,843.93" fill="none" stroke="#747474" stroke-width="0.9"/>
<rect x="412.5" y="833.56" width="8" height="8" fill="none" stroke="#a6a6a6" stroke-width="1.4"/>
<rect x="425.43" y="844.94" width="8" height="8" fill="none" stroke="#a6a6a6" stroke-width="1.4"/>
<rect x="448.69" y="819.57" width="8" height="8" fill="none" stroke="#a6a6a6" stroke-width="1.4"/>
<rect x="487.47" y="850.62" width="8" height="8" fill="none" stroke="#a6a6a6" stroke-width="1.4"/>
<rect x="629.64" y="839.93" width="8" height="8" fill="none" stroke="#a6a6a6" stroke-width="1.4"/>
<polyline points="416.5,831.53 419.08,863.5 425.55,857.47 429.43,839.27 434.6,842.23 452.69,850.19 491.47,838.81 525.07,847.35 561.26,844.62 633.64,839.27" fill="none" stroke="#1a85a8" stroke-width="2.5" stroke-linejoin="round"/>
<path d="M416.5 824.83L422.7 831.53L416.5 838.23L410.3 831.53Z" fill="#1a85a8"/>
<path d="M419.08 856.8L425.28 863.5L419.08 870.2L412.88 863.5Z" fill="#1a85a8"/>
<path d="M425.55 850.77L431.75 857.47L425.55 864.17L419.35 857.47Z" fill="#1a85a8"/>
<path d="M429.43 832.57L435.62 839.27L429.43 845.97L423.23 839.27Z" fill="#1a85a8"/>
<path d="M434.6 835.53L440.8 842.23L434.6 848.93L428.4 842.23Z" fill="#1a85a8"/>
<path d="M452.69 843.49L458.89 850.19L452.69 856.89L446.49 850.19Z" fill="#1a85a8"/>
<path d="M491.47 832.11L497.67 838.81L491.47 845.51L485.27 838.81Z" fill="#1a85a8"/>
<path d="M525.07 840.64L531.27 847.35L525.07 854.05L518.87 847.35Z" fill="#1a85a8"/>
<path d="M561.26 837.91L567.46 844.62L561.26 851.32L555.06 844.62Z" fill="#1a85a8"/>
<path d="M633.64 832.57L639.84 839.27L633.64 845.97L627.44 839.27Z" fill="#1a85a8"/>
<text transform="translate(363.6,751.9) rotate(-90)" font-size="12.3" text-anchor="middle" textLength="124.6" lengthAdjust="spacingAndGlyphs" fill="#222" stroke="#222" stroke-width="0.08">CD8<tspan font-size="8.5" dy="-5">+</tspan><tspan dy="5"> T cells (cells/µl)</tspan></text>
</svg></body></html>
